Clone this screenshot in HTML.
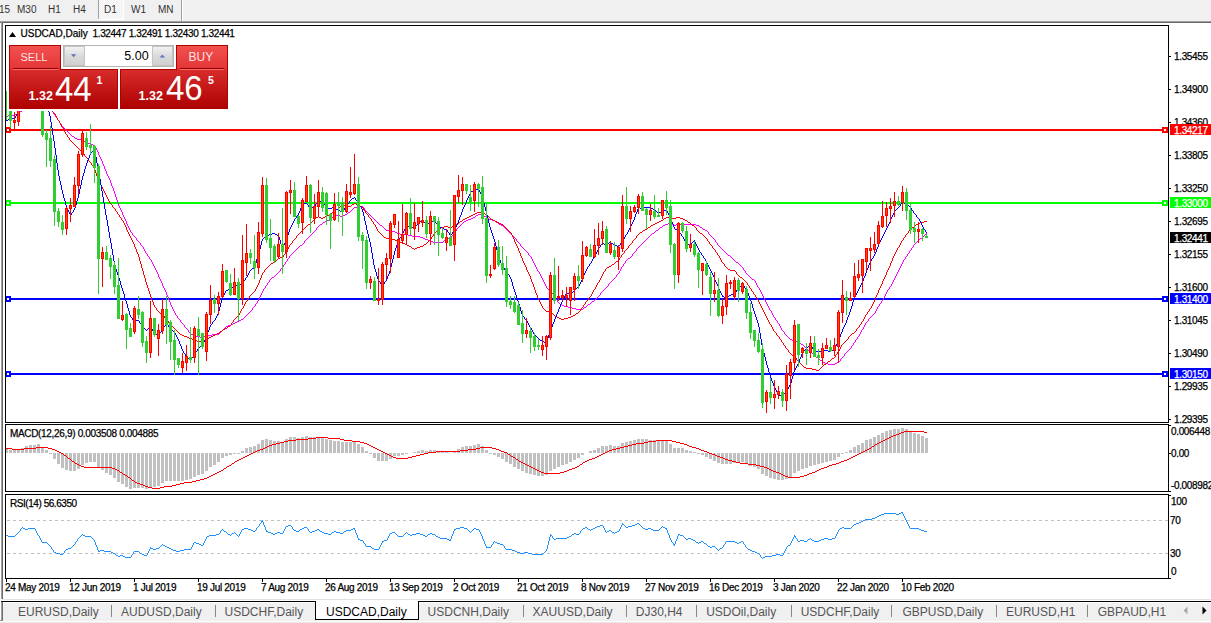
<!DOCTYPE html><html><head><meta charset="utf-8"><title>USDCAD,Daily</title><style>
html,body{margin:0;padding:0;background:#fff;width:1211px;height:623px;overflow:hidden;}
body{position:relative;font-family:"Liberation Sans", sans-serif;}
.abs{position:absolute;}
svg text{font-family:"Liberation Sans", sans-serif;}
</style></head><body>
<svg width="1211" height="623" viewBox="0 0 1211 623" style="position:absolute;left:0;top:0" shape-rendering="crispEdges">
<rect x="0" y="0" width="1211" height="21" fill="#f0f0f0"/>
<defs><pattern id="chk" x="0" y="0" width="2" height="2" patternUnits="userSpaceOnUse"><rect width="2" height="2" fill="#ececec"/><rect width="1" height="1" fill="#fff"/><rect x="1" y="1" width="1" height="1" fill="#fff"/></pattern></defs>
<rect x="99" y="0" width="24" height="19" fill="url(#chk)"/>
<rect x="123" y="0" width="1" height="20" fill="#fff"/>
<rect x="98" y="0" width="1" height="19" fill="#a0a0a0"/>
<rect x="98" y="19" width="26" height="1" fill="#ffffff"/>
<rect x="181" y="0" width="1" height="21" fill="#a0a0a0"/>
<rect x="182" y="0" width="1" height="21" fill="#ffffff"/>
<text x="-1" y="13" font-size="10" fill="#333">15</text>
<text x="17" y="13" font-size="10" fill="#333">M30</text>
<text x="48" y="13" font-size="10" fill="#333">H1</text>
<text x="73" y="13" font-size="10" fill="#333">H4</text>
<text x="104" y="13" font-size="10" fill="#333">D1</text>
<text x="131" y="13" font-size="10" fill="#333">W1</text>
<text x="158" y="13" font-size="10" fill="#333">MN</text>
<rect x="0" y="21" width="1211" height="1" fill="#a0a0a0"/>
<rect x="0" y="22" width="1211" height="1" fill="#696969"/>
<rect x="1" y="21" width="1" height="578" fill="#a0a0a0"/>
<rect x="2" y="22" width="1" height="577" fill="#696969"/>
<defs><clipPath id="cm"><rect x="6" y="26" width="1162" height="396"/></clipPath>
<clipPath id="cmacd"><rect x="6" y="425" width="1162" height="66"/></clipPath>
<clipPath id="crsi"><rect x="6" y="495" width="1162" height="83"/></clipPath></defs>
<rect x="6" y="129" width="1162" height="2" fill="#ff0000"/>
<rect x="5" y="127" width="6" height="6" fill="#ff0000"/>
<rect x="7" y="129" width="2" height="2" fill="#fff"/>
<rect x="1162" y="127" width="6" height="6" fill="#ff0000"/>
<rect x="1164" y="129" width="2" height="2" fill="#fff"/>
<rect x="6" y="202" width="1162" height="2" fill="#00ff00"/>
<rect x="5" y="200" width="6" height="6" fill="#00ff00"/>
<rect x="7" y="202" width="2" height="2" fill="#fff"/>
<rect x="1162" y="200" width="6" height="6" fill="#00ff00"/>
<rect x="1164" y="202" width="2" height="2" fill="#fff"/>
<rect x="6" y="298" width="1162" height="2" fill="#0000ff"/>
<rect x="5" y="296" width="6" height="6" fill="#0000ff"/>
<rect x="7" y="298" width="2" height="2" fill="#fff"/>
<rect x="1162" y="296" width="6" height="6" fill="#0000ff"/>
<rect x="1164" y="298" width="2" height="2" fill="#fff"/>
<rect x="6" y="373" width="1162" height="2" fill="#0000ff"/>
<rect x="5" y="371" width="6" height="6" fill="#0000ff"/>
<rect x="7" y="373" width="2" height="2" fill="#fff"/>
<rect x="1162" y="371" width="6" height="6" fill="#0000ff"/>
<rect x="1164" y="373" width="2" height="2" fill="#fff"/>
<path clip-path="url(#cm)" d="M36 100h3v1h-3zM33 101h3v1h-3zM39 101h2v1h-2zM31 102h2v1h-2zM41 102h2v1h-2zM30 103h1v1h-1zM43 103h2v1h-2zM28 104h2v1h-2zM45 104h2v1h-2zM27 105h1v1h-1zM47 105h1v1h-1zM26 106h1v1h-1zM48 106h1v1h-1zM25 107h1v1h-1zM49 107h1v1h-1zM24 108h1v1h-1zM50 108h1v1h-1zM23 109h1v1h-1zM51 109h1v1h-1zM22 110h1v1h-1zM51 110h1v1h-1zM20 111h2v1h-2zM52 111h1v1h-1zM19 112h1v1h-1zM53 112h1v1h-1zM17 113h2v1h-2zM53 113h1v1h-1zM15 114h2v1h-2zM54 114h1v1h-1zM8 115h7v1h-7zM55 115h1v1h-1zM6 116h2v1h-2zM55 116h1v1h-1zM56 117h1v1h-1zM57 118h1v1h-1zM57 119h1v1h-1zM58 120h1v1h-1zM59 121h1v1h-1zM59 122h1v1h-1zM60 123h1v1h-1zM61 124h1v1h-1zM61 125h1v1h-1zM62 126h1v1h-1zM63 127h1v1h-1zM64 128h1v1h-1zM65 129h1v1h-1zM66 130h1v1h-1zM67 131h1v1h-1zM68 132h1v1h-1zM69 133h1v1h-1zM70 134h1v1h-1zM71 135h1v1h-1zM72 136h2v1h-2zM74 137h1v1h-1zM75 138h2v1h-2zM77 139h6v1h-6zM83 140h1v1h-1zM84 141h2v1h-2zM86 142h2v1h-2zM88 143h3v1h-3zM91 144h2v1h-2zM93 145h2v1h-2zM95 146h1v1h-1zM95 147h1v1h-1zM96 148h1v1h-1zM96 149h1v1h-1zM97 150h1v1h-1zM97 151h1v1h-1zM98 152h1v1h-1zM98 153h1v1h-1zM98 154h1v1h-1zM99 155h1v1h-1zM99 156h1v1h-1zM100 157h1v1h-1zM100 158h1v1h-1zM101 159h1v1h-1zM101 160h1v1h-1zM102 161h1v1h-1zM102 162h1v1h-1zM102 163h1v1h-1zM103 164h1v1h-1zM103 165h1v1h-1zM104 166h1v1h-1zM104 167h1v1h-1zM104 168h1v1h-1zM105 169h1v1h-1zM105 170h1v1h-1zM106 171h1v1h-1zM106 172h1v1h-1zM106 173h1v1h-1zM107 174h1v1h-1zM107 175h1v1h-1zM108 176h1v1h-1zM108 177h1v1h-1zM109 178h1v1h-1zM109 179h1v1h-1zM110 180h1v1h-1zM110 181h1v1h-1zM110 182h1v1h-1zM111 183h1v1h-1zM111 184h1v1h-1zM111 185h1v1h-1zM112 186h1v1h-1zM112 187h1v1h-1zM113 188h1v1h-1zM113 189h1v1h-1zM113 190h1v1h-1zM114 191h1v1h-1zM114 192h1v1h-1zM114 193h1v1h-1zM115 194h1v1h-1zM115 195h1v1h-1zM115 196h1v1h-1zM116 197h1v1h-1zM116 198h1v1h-1zM116 199h1v1h-1zM117 200h1v1h-1zM117 201h1v1h-1zM117 202h1v1h-1zM118 203h1v1h-1zM118 204h1v1h-1zM118 205h1v1h-1zM119 206h1v1h-1zM360 206h3v1h-3zM119 207h1v1h-1zM354 207h6v1h-6zM363 207h1v1h-1zM120 208h1v1h-1zM353 208h1v1h-1zM364 208h1v1h-1zM120 209h1v1h-1zM352 209h1v1h-1zM364 209h1v1h-1zM121 210h1v1h-1zM351 210h1v1h-1zM365 210h1v1h-1zM121 211h1v1h-1zM350 211h1v1h-1zM366 211h1v1h-1zM122 212h1v1h-1zM348 212h2v1h-2zM367 212h1v1h-1zM122 213h1v1h-1zM347 213h1v1h-1zM368 213h1v1h-1zM122 214h1v1h-1zM345 214h2v1h-2zM369 214h1v1h-1zM478 214h5v1h-5zM123 215h1v1h-1zM336 215h4v1h-4zM343 215h2v1h-2zM370 215h1v1h-1zM476 215h2v1h-2zM483 215h1v1h-1zM123 216h1v1h-1zM334 216h2v1h-2zM340 216h3v1h-3zM371 216h1v1h-1zM475 216h1v1h-1zM484 216h2v1h-2zM124 217h1v1h-1zM332 217h2v1h-2zM372 217h1v1h-1zM473 217h2v1h-2zM486 217h1v1h-1zM124 218h1v1h-1zM331 218h1v1h-1zM373 218h1v1h-1zM471 218h2v1h-2zM487 218h2v1h-2zM125 219h1v1h-1zM329 219h2v1h-2zM374 219h1v1h-1zM468 219h3v1h-3zM489 219h3v1h-3zM125 220h1v1h-1zM327 220h2v1h-2zM375 220h1v1h-1zM466 220h2v1h-2zM492 220h3v1h-3zM126 221h1v1h-1zM325 221h2v1h-2zM376 221h1v1h-1zM464 221h2v1h-2zM495 221h1v1h-1zM126 222h1v1h-1zM323 222h2v1h-2zM377 222h1v1h-1zM463 222h1v1h-1zM496 222h2v1h-2zM126 223h1v1h-1zM322 223h1v1h-1zM378 223h1v1h-1zM462 223h1v1h-1zM498 223h1v1h-1zM668 223h3v1h-3zM127 224h1v1h-1zM320 224h2v1h-2zM379 224h1v1h-1zM461 224h1v1h-1zM499 224h2v1h-2zM665 224h3v1h-3zM671 224h2v1h-2zM676 224h20v1h-20zM127 225h1v1h-1zM319 225h1v1h-1zM380 225h2v1h-2zM460 225h1v1h-1zM501 225h2v1h-2zM663 225h2v1h-2zM673 225h3v1h-3zM696 225h3v1h-3zM128 226h1v1h-1zM318 226h1v1h-1zM382 226h1v1h-1zM459 226h1v1h-1zM503 226h1v1h-1zM662 226h1v1h-1zM699 226h1v1h-1zM128 227h1v1h-1zM317 227h1v1h-1zM383 227h1v1h-1zM458 227h1v1h-1zM504 227h1v1h-1zM660 227h2v1h-2zM700 227h2v1h-2zM129 228h1v1h-1zM316 228h1v1h-1zM384 228h1v1h-1zM457 228h1v1h-1zM505 228h1v1h-1zM659 228h1v1h-1zM702 228h1v1h-1zM129 229h1v1h-1zM316 229h1v1h-1zM385 229h1v1h-1zM456 229h1v1h-1zM506 229h1v1h-1zM658 229h1v1h-1zM703 229h2v1h-2zM130 230h1v1h-1zM315 230h1v1h-1zM386 230h6v1h-6zM456 230h1v1h-1zM507 230h1v1h-1zM656 230h2v1h-2zM705 230h2v1h-2zM130 231h1v1h-1zM314 231h1v1h-1zM392 231h3v1h-3zM455 231h1v1h-1zM508 231h1v1h-1zM655 231h1v1h-1zM707 231h1v1h-1zM131 232h1v1h-1zM313 232h1v1h-1zM395 232h2v1h-2zM454 232h1v1h-1zM509 232h1v1h-1zM654 232h1v1h-1zM708 232h1v1h-1zM132 233h1v1h-1zM312 233h1v1h-1zM397 233h3v1h-3zM453 233h1v1h-1zM510 233h1v1h-1zM652 233h2v1h-2zM708 233h1v1h-1zM926 233h1v1h-1zM132 234h1v1h-1zM311 234h1v1h-1zM400 234h8v1h-8zM453 234h1v1h-1zM511 234h1v1h-1zM651 234h1v1h-1zM709 234h1v1h-1zM925 234h1v1h-1zM133 235h1v1h-1zM310 235h1v1h-1zM408 235h4v1h-4zM452 235h1v1h-1zM512 235h1v1h-1zM650 235h1v1h-1zM710 235h1v1h-1zM924 235h1v1h-1zM134 236h1v1h-1zM309 236h1v1h-1zM412 236h8v1h-8zM451 236h1v1h-1zM513 236h1v1h-1zM649 236h1v1h-1zM711 236h1v1h-1zM923 236h1v1h-1zM135 237h1v1h-1zM308 237h1v1h-1zM420 237h3v1h-3zM451 237h1v1h-1zM514 237h1v1h-1zM648 237h1v1h-1zM712 237h1v1h-1zM922 237h1v1h-1zM136 238h1v1h-1zM307 238h1v1h-1zM423 238h2v1h-2zM448 238h3v1h-3zM515 238h1v1h-1zM647 238h1v1h-1zM713 238h1v1h-1zM920 238h2v1h-2zM136 239h1v1h-1zM306 239h1v1h-1zM425 239h3v1h-3zM446 239h2v1h-2zM516 239h1v1h-1zM646 239h1v1h-1zM714 239h1v1h-1zM919 239h1v1h-1zM137 240h1v1h-1zM305 240h1v1h-1zM428 240h3v1h-3zM444 240h2v1h-2zM516 240h1v1h-1zM645 240h1v1h-1zM715 240h1v1h-1zM918 240h1v1h-1zM138 241h1v1h-1zM304 241h1v1h-1zM431 241h2v1h-2zM443 241h1v1h-1zM517 241h1v1h-1zM644 241h1v1h-1zM715 241h1v1h-1zM917 241h1v1h-1zM139 242h1v1h-1zM304 242h1v1h-1zM433 242h10v1h-10zM518 242h1v1h-1zM643 242h1v1h-1zM716 242h1v1h-1zM916 242h1v1h-1zM140 243h1v1h-1zM303 243h1v1h-1zM519 243h1v1h-1zM642 243h1v1h-1zM717 243h1v1h-1zM915 243h1v1h-1zM140 244h1v1h-1zM302 244h1v1h-1zM520 244h1v1h-1zM641 244h1v1h-1zM717 244h1v1h-1zM914 244h1v1h-1zM141 245h1v1h-1zM300 245h2v1h-2zM520 245h1v1h-1zM640 245h1v1h-1zM718 245h1v1h-1zM913 245h1v1h-1zM142 246h1v1h-1zM299 246h1v1h-1zM521 246h1v1h-1zM639 246h1v1h-1zM719 246h1v1h-1zM913 246h1v1h-1zM143 247h1v1h-1zM298 247h1v1h-1zM522 247h1v1h-1zM638 247h1v1h-1zM720 247h1v1h-1zM912 247h1v1h-1zM143 248h1v1h-1zM297 248h1v1h-1zM523 248h1v1h-1zM637 248h1v1h-1zM721 248h1v1h-1zM911 248h1v1h-1zM144 249h1v1h-1zM296 249h1v1h-1zM524 249h1v1h-1zM636 249h1v1h-1zM722 249h1v1h-1zM911 249h1v1h-1zM144 250h1v1h-1zM295 250h1v1h-1zM525 250h1v1h-1zM636 250h1v1h-1zM723 250h1v1h-1zM910 250h1v1h-1zM145 251h1v1h-1zM294 251h1v1h-1zM526 251h1v1h-1zM635 251h1v1h-1zM724 251h1v1h-1zM909 251h1v1h-1zM145 252h1v1h-1zM293 252h1v1h-1zM527 252h1v1h-1zM634 252h1v1h-1zM725 252h1v1h-1zM909 252h1v1h-1zM146 253h1v1h-1zM292 253h1v1h-1zM528 253h1v1h-1zM633 253h1v1h-1zM726 253h1v1h-1zM908 253h1v1h-1zM147 254h1v1h-1zM291 254h1v1h-1zM528 254h1v1h-1zM632 254h1v1h-1zM727 254h1v1h-1zM907 254h1v1h-1zM147 255h1v1h-1zM290 255h1v1h-1zM529 255h1v1h-1zM632 255h1v1h-1zM728 255h2v1h-2zM907 255h1v1h-1zM148 256h1v1h-1zM289 256h1v1h-1zM530 256h1v1h-1zM631 256h1v1h-1zM730 256h1v1h-1zM906 256h1v1h-1zM149 257h1v1h-1zM289 257h1v1h-1zM531 257h1v1h-1zM630 257h1v1h-1zM731 257h1v1h-1zM905 257h1v1h-1zM149 258h1v1h-1zM288 258h1v1h-1zM531 258h1v1h-1zM628 258h2v1h-2zM732 258h1v1h-1zM905 258h1v1h-1zM150 259h1v1h-1zM287 259h1v1h-1zM532 259h1v1h-1zM627 259h1v1h-1zM733 259h1v1h-1zM904 259h1v1h-1zM151 260h1v1h-1zM287 260h1v1h-1zM532 260h1v1h-1zM626 260h1v1h-1zM734 260h1v1h-1zM903 260h1v1h-1zM151 261h1v1h-1zM286 261h1v1h-1zM533 261h1v1h-1zM625 261h1v1h-1zM735 261h1v1h-1zM903 261h1v1h-1zM152 262h1v1h-1zM285 262h1v1h-1zM533 262h1v1h-1zM625 262h1v1h-1zM736 262h2v1h-2zM902 262h1v1h-1zM152 263h1v1h-1zM285 263h1v1h-1zM534 263h1v1h-1zM624 263h1v1h-1zM738 263h1v1h-1zM902 263h1v1h-1zM153 264h1v1h-1zM284 264h1v1h-1zM534 264h1v1h-1zM623 264h1v1h-1zM739 264h1v1h-1zM901 264h1v1h-1zM153 265h1v1h-1zM283 265h1v1h-1zM535 265h1v1h-1zM623 265h1v1h-1zM740 265h1v1h-1zM901 265h1v1h-1zM154 266h1v1h-1zM283 266h1v1h-1zM535 266h1v1h-1zM622 266h1v1h-1zM741 266h1v1h-1zM900 266h1v1h-1zM154 267h1v1h-1zM282 267h1v1h-1zM536 267h1v1h-1zM621 267h1v1h-1zM742 267h1v1h-1zM900 267h1v1h-1zM155 268h1v1h-1zM281 268h1v1h-1zM536 268h1v1h-1zM621 268h1v1h-1zM743 268h1v1h-1zM899 268h1v1h-1zM155 269h1v1h-1zM280 269h1v1h-1zM537 269h1v1h-1zM620 269h1v1h-1zM743 269h1v1h-1zM899 269h1v1h-1zM156 270h1v1h-1zM280 270h1v1h-1zM537 270h1v1h-1zM620 270h1v1h-1zM744 270h1v1h-1zM898 270h1v1h-1zM156 271h1v1h-1zM279 271h1v1h-1zM538 271h1v1h-1zM619 271h1v1h-1zM745 271h1v1h-1zM898 271h1v1h-1zM157 272h1v1h-1zM278 272h1v1h-1zM539 272h1v1h-1zM619 272h1v1h-1zM745 272h1v1h-1zM897 272h1v1h-1zM157 273h1v1h-1zM277 273h1v1h-1zM539 273h1v1h-1zM618 273h1v1h-1zM746 273h1v1h-1zM897 273h1v1h-1zM158 274h1v1h-1zM276 274h1v1h-1zM540 274h1v1h-1zM617 274h1v1h-1zM747 274h1v1h-1zM896 274h1v1h-1zM158 275h1v1h-1zM275 275h1v1h-1zM540 275h1v1h-1zM616 275h1v1h-1zM748 275h1v1h-1zM896 275h1v1h-1zM158 276h1v1h-1zM274 276h1v1h-1zM541 276h1v1h-1zM616 276h1v1h-1zM749 276h1v1h-1zM895 276h1v1h-1zM159 277h1v1h-1zM272 277h2v1h-2zM541 277h1v1h-1zM615 277h1v1h-1zM750 277h1v1h-1zM895 277h1v1h-1zM159 278h1v1h-1zM271 278h1v1h-1zM542 278h1v1h-1zM614 278h1v1h-1zM751 278h1v1h-1zM894 278h1v1h-1zM160 279h1v1h-1zM270 279h1v1h-1zM542 279h1v1h-1zM613 279h1v1h-1zM752 279h2v1h-2zM894 279h1v1h-1zM160 280h1v1h-1zM269 280h1v1h-1zM543 280h1v1h-1zM612 280h1v1h-1zM754 280h1v1h-1zM893 280h1v1h-1zM161 281h1v1h-1zM269 281h1v1h-1zM543 281h1v1h-1zM611 281h1v1h-1zM755 281h1v1h-1zM893 281h1v1h-1zM161 282h1v1h-1zM268 282h1v1h-1zM544 282h1v1h-1zM610 282h1v1h-1zM755 282h1v1h-1zM892 282h1v1h-1zM162 283h1v1h-1zM267 283h1v1h-1zM544 283h1v1h-1zM609 283h1v1h-1zM756 283h1v1h-1zM892 283h1v1h-1zM162 284h1v1h-1zM267 284h1v1h-1zM545 284h1v1h-1zM608 284h1v1h-1zM756 284h1v1h-1zM891 284h1v1h-1zM162 285h1v1h-1zM266 285h1v1h-1zM545 285h1v1h-1zM608 285h1v1h-1zM757 285h1v1h-1zM891 285h1v1h-1zM163 286h1v1h-1zM265 286h1v1h-1zM546 286h1v1h-1zM607 286h1v1h-1zM757 286h1v1h-1zM890 286h1v1h-1zM163 287h1v1h-1zM265 287h1v1h-1zM546 287h1v1h-1zM606 287h1v1h-1zM758 287h1v1h-1zM889 287h1v1h-1zM164 288h1v1h-1zM264 288h1v1h-1zM547 288h1v1h-1zM605 288h1v1h-1zM759 288h1v1h-1zM889 288h1v1h-1zM164 289h1v1h-1zM263 289h1v1h-1zM548 289h2v1h-2zM604 289h1v1h-1zM759 289h1v1h-1zM888 289h1v1h-1zM165 290h1v1h-1zM263 290h1v1h-1zM550 290h1v1h-1zM603 290h1v1h-1zM760 290h1v1h-1zM887 290h1v1h-1zM165 291h1v1h-1zM262 291h1v1h-1zM551 291h1v1h-1zM602 291h1v1h-1zM760 291h1v1h-1zM887 291h1v1h-1zM166 292h1v1h-1zM262 292h1v1h-1zM551 292h1v1h-1zM601 292h1v1h-1zM761 292h1v1h-1zM886 292h1v1h-1zM166 293h1v1h-1zM261 293h1v1h-1zM552 293h1v1h-1zM600 293h1v1h-1zM761 293h1v1h-1zM886 293h1v1h-1zM166 294h1v1h-1zM261 294h1v1h-1zM553 294h1v1h-1zM600 294h1v1h-1zM762 294h1v1h-1zM885 294h1v1h-1zM167 295h1v1h-1zM260 295h1v1h-1zM553 295h1v1h-1zM599 295h1v1h-1zM762 295h1v1h-1zM885 295h1v1h-1zM167 296h1v1h-1zM260 296h1v1h-1zM554 296h1v1h-1zM598 296h1v1h-1zM763 296h1v1h-1zM884 296h1v1h-1zM168 297h1v1h-1zM259 297h1v1h-1zM555 297h1v1h-1zM597 297h1v1h-1zM763 297h1v1h-1zM884 297h1v1h-1zM168 298h1v1h-1zM259 298h1v1h-1zM555 298h1v1h-1zM596 298h1v1h-1zM764 298h1v1h-1zM883 298h1v1h-1zM168 299h1v1h-1zM258 299h1v1h-1zM556 299h1v1h-1zM595 299h1v1h-1zM764 299h1v1h-1zM883 299h1v1h-1zM169 300h1v1h-1zM258 300h1v1h-1zM557 300h1v1h-1zM594 300h1v1h-1zM765 300h1v1h-1zM882 300h1v1h-1zM169 301h1v1h-1zM257 301h1v1h-1zM557 301h1v1h-1zM592 301h2v1h-2zM765 301h1v1h-1zM881 301h1v1h-1zM170 302h1v1h-1zM257 302h1v1h-1zM558 302h1v1h-1zM591 302h1v1h-1zM766 302h1v1h-1zM881 302h1v1h-1zM170 303h1v1h-1zM256 303h1v1h-1zM559 303h1v1h-1zM590 303h1v1h-1zM766 303h1v1h-1zM880 303h1v1h-1zM170 304h1v1h-1zM255 304h1v1h-1zM560 304h2v1h-2zM588 304h2v1h-2zM767 304h1v1h-1zM879 304h1v1h-1zM171 305h1v1h-1zM255 305h1v1h-1zM562 305h2v1h-2zM587 305h1v1h-1zM767 305h1v1h-1zM879 305h1v1h-1zM171 306h1v1h-1zM254 306h1v1h-1zM564 306h4v1h-4zM586 306h1v1h-1zM768 306h1v1h-1zM878 306h1v1h-1zM172 307h1v1h-1zM253 307h1v1h-1zM568 307h4v1h-4zM584 307h2v1h-2zM768 307h1v1h-1zM877 307h1v1h-1zM172 308h1v1h-1zM252 308h1v1h-1zM572 308h4v1h-4zM583 308h1v1h-1zM769 308h1v1h-1zM877 308h1v1h-1zM173 309h1v1h-1zM252 309h1v1h-1zM576 309h7v1h-7zM769 309h1v1h-1zM876 309h1v1h-1zM173 310h1v1h-1zM251 310h1v1h-1zM770 310h1v1h-1zM876 310h1v1h-1zM174 311h1v1h-1zM250 311h1v1h-1zM771 311h1v1h-1zM875 311h1v1h-1zM174 312h1v1h-1zM249 312h1v1h-1zM771 312h1v1h-1zM875 312h1v1h-1zM175 313h1v1h-1zM248 313h1v1h-1zM772 313h1v1h-1zM874 313h1v1h-1zM175 314h1v1h-1zM247 314h1v1h-1zM772 314h1v1h-1zM873 314h1v1h-1zM176 315h1v1h-1zM246 315h1v1h-1zM773 315h1v1h-1zM872 315h1v1h-1zM177 316h1v1h-1zM245 316h1v1h-1zM773 316h1v1h-1zM871 316h1v1h-1zM177 317h1v1h-1zM244 317h1v1h-1zM774 317h1v1h-1zM870 317h1v1h-1zM178 318h1v1h-1zM243 318h1v1h-1zM775 318h1v1h-1zM869 318h1v1h-1zM179 319h1v1h-1zM241 319h2v1h-2zM775 319h1v1h-1zM868 319h1v1h-1zM180 320h1v1h-1zM239 320h2v1h-2zM776 320h1v1h-1zM868 320h1v1h-1zM180 321h1v1h-1zM237 321h2v1h-2zM777 321h1v1h-1zM867 321h1v1h-1zM181 322h1v1h-1zM235 322h2v1h-2zM777 322h1v1h-1zM866 322h1v1h-1zM182 323h1v1h-1zM233 323h2v1h-2zM778 323h1v1h-1zM865 323h1v1h-1zM183 324h1v1h-1zM231 324h2v1h-2zM779 324h1v1h-1zM865 324h1v1h-1zM184 325h1v1h-1zM228 325h3v1h-3zM779 325h1v1h-1zM864 325h1v1h-1zM184 326h1v1h-1zM226 326h2v1h-2zM780 326h1v1h-1zM864 326h1v1h-1zM185 327h1v1h-1zM225 327h1v1h-1zM780 327h1v1h-1zM863 327h1v1h-1zM186 328h1v1h-1zM224 328h1v1h-1zM781 328h1v1h-1zM863 328h1v1h-1zM187 329h1v1h-1zM223 329h1v1h-1zM781 329h1v1h-1zM862 329h1v1h-1zM188 330h1v1h-1zM222 330h1v1h-1zM782 330h1v1h-1zM861 330h1v1h-1zM188 331h1v1h-1zM221 331h1v1h-1zM783 331h1v1h-1zM861 331h1v1h-1zM189 332h1v1h-1zM220 332h1v1h-1zM784 332h1v1h-1zM860 332h1v1h-1zM190 333h1v1h-1zM219 333h1v1h-1zM784 333h1v1h-1zM860 333h1v1h-1zM191 334h2v1h-2zM212 334h7v1h-7zM785 334h1v1h-1zM859 334h1v1h-1zM193 335h3v1h-3zM208 335h4v1h-4zM786 335h1v1h-1zM859 335h1v1h-1zM196 336h4v1h-4zM204 336h4v1h-4zM787 336h1v1h-1zM858 336h1v1h-1zM200 337h4v1h-4zM788 337h1v1h-1zM857 337h1v1h-1zM789 338h1v1h-1zM857 338h1v1h-1zM790 339h2v1h-2zM856 339h1v1h-1zM792 340h3v1h-3zM855 340h1v1h-1zM795 341h2v1h-2zM855 341h1v1h-1zM797 342h2v1h-2zM854 342h1v1h-1zM799 343h2v1h-2zM853 343h1v1h-1zM801 344h2v1h-2zM853 344h1v1h-1zM803 345h1v1h-1zM852 345h1v1h-1zM804 346h1v1h-1zM851 346h1v1h-1zM805 347h1v1h-1zM851 347h1v1h-1zM806 348h1v1h-1zM850 348h1v1h-1zM807 349h1v1h-1zM849 349h1v1h-1zM808 350h2v1h-2zM848 350h1v1h-1zM810 351h1v1h-1zM847 351h1v1h-1zM811 352h1v1h-1zM846 352h1v1h-1zM812 353h1v1h-1zM845 353h1v1h-1zM813 354h1v1h-1zM844 354h1v1h-1zM814 355h1v1h-1zM844 355h1v1h-1zM815 356h1v1h-1zM843 356h1v1h-1zM816 357h2v1h-2zM842 357h1v1h-1zM818 358h1v1h-1zM841 358h1v1h-1zM819 359h1v1h-1zM840 359h1v1h-1zM820 360h2v1h-2zM840 360h1v1h-1zM822 361h1v1h-1zM839 361h1v1h-1zM823 362h2v1h-2zM837 362h2v1h-2zM825 363h3v1h-3zM835 363h2v1h-2zM828 364h7v1h-7z" fill="#ff00ff"/>
<path clip-path="url(#cm)" d="M37 102h2v1h-2zM35 103h2v1h-2zM39 103h2v1h-2zM32 104h3v1h-3zM41 104h3v1h-3zM28 105h4v1h-4zM44 105h3v1h-3zM24 106h4v1h-4zM47 106h1v1h-1zM20 107h4v1h-4zM48 107h2v1h-2zM16 108h4v1h-4zM50 108h1v1h-1zM8 109h8v1h-8zM51 109h1v1h-1zM6 110h2v1h-2zM52 110h1v1h-1zM52 111h1v1h-1zM53 112h1v1h-1zM54 113h1v1h-1zM55 114h1v1h-1zM55 115h1v1h-1zM56 116h1v1h-1zM56 117h1v1h-1zM57 118h1v1h-1zM57 119h1v1h-1zM58 120h1v1h-1zM59 121h1v1h-1zM59 122h1v1h-1zM60 123h1v1h-1zM60 124h1v1h-1zM61 125h1v1h-1zM61 126h1v1h-1zM62 127h1v1h-1zM63 128h1v1h-1zM63 129h1v1h-1zM64 130h1v1h-1zM64 131h1v1h-1zM65 132h1v1h-1zM65 133h1v1h-1zM66 134h1v1h-1zM67 135h1v1h-1zM67 136h1v1h-1zM68 137h1v1h-1zM69 138h1v1h-1zM69 139h1v1h-1zM70 140h1v1h-1zM71 141h1v1h-1zM72 142h1v1h-1zM73 143h1v1h-1zM74 144h1v1h-1zM75 145h1v1h-1zM76 146h1v1h-1zM77 147h1v1h-1zM78 148h1v1h-1zM79 149h1v1h-1zM80 150h1v1h-1zM81 151h1v1h-1zM82 152h1v1h-1zM83 153h1v1h-1zM84 154h1v1h-1zM84 155h1v1h-1zM85 156h1v1h-1zM86 157h1v1h-1zM87 158h1v1h-1zM88 159h1v1h-1zM88 160h1v1h-1zM89 161h1v1h-1zM90 162h1v1h-1zM91 163h1v1h-1zM91 164h1v1h-1zM92 165h1v1h-1zM93 166h1v1h-1zM93 167h1v1h-1zM94 168h1v1h-1zM94 169h1v1h-1zM95 170h1v1h-1zM95 171h1v1h-1zM95 172h1v1h-1zM96 173h1v1h-1zM96 174h1v1h-1zM96 175h1v1h-1zM97 176h1v1h-1zM97 177h1v1h-1zM97 178h1v1h-1zM98 179h1v1h-1zM98 180h1v1h-1zM99 181h1v1h-1zM99 182h1v1h-1zM100 183h1v1h-1zM100 184h1v1h-1zM101 185h1v1h-1zM101 186h1v1h-1zM102 187h1v1h-1zM102 188h1v1h-1zM103 189h1v1h-1zM103 190h1v1h-1zM104 191h1v1h-1zM104 192h1v1h-1zM105 193h1v1h-1zM105 194h1v1h-1zM106 195h1v1h-1zM106 196h1v1h-1zM107 197h1v1h-1zM107 198h1v1h-1zM108 199h1v1h-1zM108 200h1v1h-1zM109 201h1v1h-1zM109 202h1v1h-1zM110 203h1v1h-1zM354 203h2v1h-2zM111 204h1v1h-1zM352 204h2v1h-2zM356 204h3v1h-3zM112 205h1v1h-1zM342 205h6v1h-6zM351 205h1v1h-1zM359 205h1v1h-1zM112 206h1v1h-1zM340 206h2v1h-2zM348 206h3v1h-3zM360 206h2v1h-2zM113 207h1v1h-1zM339 207h1v1h-1zM362 207h1v1h-1zM114 208h1v1h-1zM338 208h1v1h-1zM363 208h1v1h-1zM115 209h1v1h-1zM336 209h2v1h-2zM363 209h1v1h-1zM115 210h1v1h-1zM335 210h1v1h-1zM364 210h1v1h-1zM116 211h1v1h-1zM334 211h1v1h-1zM365 211h1v1h-1zM117 212h1v1h-1zM332 212h2v1h-2zM365 212h1v1h-1zM477 212h6v1h-6zM117 213h1v1h-1zM331 213h1v1h-1zM366 213h1v1h-1zM475 213h2v1h-2zM483 213h2v1h-2zM118 214h1v1h-1zM329 214h2v1h-2zM367 214h1v1h-1zM473 214h2v1h-2zM485 214h2v1h-2zM119 215h1v1h-1zM327 215h2v1h-2zM368 215h1v1h-1zM471 215h2v1h-2zM487 215h1v1h-1zM119 216h1v1h-1zM318 216h1v1h-1zM325 216h2v1h-2zM368 216h1v1h-1zM469 216h2v1h-2zM488 216h1v1h-1zM120 217h1v1h-1zM316 217h2v1h-2zM319 217h2v1h-2zM323 217h2v1h-2zM369 217h1v1h-1zM467 217h2v1h-2zM489 217h1v1h-1zM666 217h6v1h-6zM676 217h4v1h-4zM121 218h1v1h-1zM315 218h1v1h-1zM321 218h2v1h-2zM370 218h1v1h-1zM465 218h2v1h-2zM490 218h1v1h-1zM664 218h2v1h-2zM672 218h4v1h-4zM680 218h3v1h-3zM121 219h1v1h-1zM314 219h1v1h-1zM371 219h1v1h-1zM463 219h2v1h-2zM491 219h2v1h-2zM663 219h1v1h-1zM683 219h2v1h-2zM122 220h1v1h-1zM313 220h1v1h-1zM371 220h1v1h-1zM462 220h1v1h-1zM493 220h2v1h-2zM661 220h2v1h-2zM685 220h2v1h-2zM123 221h1v1h-1zM312 221h1v1h-1zM372 221h1v1h-1zM460 221h2v1h-2zM495 221h2v1h-2zM659 221h2v1h-2zM687 221h1v1h-1zM924 221h3v1h-3zM123 222h1v1h-1zM311 222h1v1h-1zM373 222h1v1h-1zM459 222h1v1h-1zM497 222h2v1h-2zM657 222h2v1h-2zM688 222h2v1h-2zM920 222h4v1h-4zM124 223h1v1h-1zM310 223h1v1h-1zM373 223h1v1h-1zM458 223h1v1h-1zM499 223h2v1h-2zM655 223h2v1h-2zM690 223h1v1h-1zM918 223h2v1h-2zM124 224h1v1h-1zM308 224h2v1h-2zM374 224h1v1h-1zM456 224h2v1h-2zM501 224h2v1h-2zM653 224h2v1h-2zM691 224h1v1h-1zM916 224h2v1h-2zM125 225h1v1h-1zM307 225h1v1h-1zM375 225h1v1h-1zM455 225h1v1h-1zM503 225h1v1h-1zM651 225h2v1h-2zM692 225h2v1h-2zM915 225h1v1h-1zM125 226h1v1h-1zM306 226h1v1h-1zM375 226h1v1h-1zM444 226h4v1h-4zM452 226h3v1h-3zM504 226h1v1h-1zM650 226h1v1h-1zM694 226h1v1h-1zM914 226h1v1h-1zM126 227h1v1h-1zM305 227h1v1h-1zM376 227h1v1h-1zM441 227h3v1h-3zM448 227h4v1h-4zM505 227h1v1h-1zM648 227h2v1h-2zM695 227h1v1h-1zM912 227h2v1h-2zM126 228h1v1h-1zM304 228h1v1h-1zM376 228h1v1h-1zM439 228h2v1h-2zM506 228h1v1h-1zM647 228h1v1h-1zM696 228h1v1h-1zM911 228h1v1h-1zM126 229h1v1h-1zM303 229h1v1h-1zM377 229h1v1h-1zM438 229h1v1h-1zM507 229h1v1h-1zM645 229h2v1h-2zM696 229h1v1h-1zM910 229h1v1h-1zM127 230h1v1h-1zM302 230h1v1h-1zM377 230h1v1h-1zM437 230h1v1h-1zM508 230h1v1h-1zM643 230h2v1h-2zM697 230h1v1h-1zM909 230h1v1h-1zM127 231h1v1h-1zM301 231h1v1h-1zM378 231h1v1h-1zM436 231h1v1h-1zM509 231h1v1h-1zM642 231h1v1h-1zM698 231h1v1h-1zM908 231h1v1h-1zM128 232h1v1h-1zM300 232h1v1h-1zM379 232h1v1h-1zM435 232h1v1h-1zM510 232h1v1h-1zM640 232h2v1h-2zM699 232h1v1h-1zM908 232h1v1h-1zM128 233h1v1h-1zM299 233h1v1h-1zM380 233h1v1h-1zM434 233h1v1h-1zM511 233h1v1h-1zM639 233h1v1h-1zM700 233h2v1h-2zM907 233h1v1h-1zM129 234h1v1h-1zM298 234h1v1h-1zM381 234h1v1h-1zM433 234h1v1h-1zM511 234h1v1h-1zM638 234h1v1h-1zM702 234h1v1h-1zM906 234h1v1h-1zM129 235h1v1h-1zM297 235h1v1h-1zM382 235h1v1h-1zM433 235h1v1h-1zM512 235h1v1h-1zM637 235h1v1h-1zM703 235h1v1h-1zM905 235h1v1h-1zM130 236h1v1h-1zM296 236h1v1h-1zM383 236h1v1h-1zM432 236h1v1h-1zM512 236h1v1h-1zM636 236h1v1h-1zM704 236h1v1h-1zM905 236h1v1h-1zM130 237h1v1h-1zM296 237h1v1h-1zM384 237h2v1h-2zM431 237h1v1h-1zM513 237h1v1h-1zM636 237h1v1h-1zM705 237h1v1h-1zM904 237h1v1h-1zM131 238h1v1h-1zM295 238h1v1h-1zM386 238h6v1h-6zM431 238h1v1h-1zM513 238h1v1h-1zM635 238h1v1h-1zM706 238h1v1h-1zM903 238h1v1h-1zM131 239h1v1h-1zM294 239h1v1h-1zM392 239h3v1h-3zM430 239h1v1h-1zM514 239h1v1h-1zM634 239h1v1h-1zM707 239h1v1h-1zM903 239h1v1h-1zM132 240h1v1h-1zM293 240h1v1h-1zM395 240h2v1h-2zM429 240h1v1h-1zM514 240h1v1h-1zM633 240h1v1h-1zM707 240h1v1h-1zM902 240h1v1h-1zM132 241h1v1h-1zM292 241h1v1h-1zM397 241h3v1h-3zM428 241h1v1h-1zM514 241h1v1h-1zM632 241h1v1h-1zM708 241h1v1h-1zM901 241h1v1h-1zM133 242h1v1h-1zM292 242h1v1h-1zM400 242h3v1h-3zM427 242h1v1h-1zM515 242h1v1h-1zM632 242h1v1h-1zM709 242h1v1h-1zM901 242h1v1h-1zM133 243h1v1h-1zM291 243h1v1h-1zM403 243h2v1h-2zM426 243h1v1h-1zM515 243h1v1h-1zM631 243h1v1h-1zM709 243h1v1h-1zM900 243h1v1h-1zM134 244h1v1h-1zM290 244h1v1h-1zM405 244h2v1h-2zM424 244h2v1h-2zM516 244h1v1h-1zM630 244h1v1h-1zM710 244h1v1h-1zM900 244h1v1h-1zM134 245h1v1h-1zM289 245h1v1h-1zM407 245h2v1h-2zM423 245h1v1h-1zM516 245h1v1h-1zM629 245h1v1h-1zM711 245h1v1h-1zM899 245h1v1h-1zM134 246h1v1h-1zM289 246h1v1h-1zM409 246h2v1h-2zM420 246h3v1h-3zM517 246h1v1h-1zM628 246h1v1h-1zM712 246h1v1h-1zM899 246h1v1h-1zM135 247h1v1h-1zM288 247h1v1h-1zM411 247h1v1h-1zM417 247h3v1h-3zM517 247h1v1h-1zM628 247h1v1h-1zM712 247h1v1h-1zM898 247h1v1h-1zM135 248h1v1h-1zM288 248h1v1h-1zM412 248h2v1h-2zM415 248h2v1h-2zM518 248h1v1h-1zM627 248h1v1h-1zM713 248h1v1h-1zM897 248h1v1h-1zM136 249h1v1h-1zM287 249h1v1h-1zM414 249h1v1h-1zM518 249h1v1h-1zM626 249h1v1h-1zM714 249h1v1h-1zM897 249h1v1h-1zM136 250h1v1h-1zM287 250h1v1h-1zM518 250h1v1h-1zM625 250h1v1h-1zM715 250h1v1h-1zM896 250h1v1h-1zM136 251h1v1h-1zM286 251h1v1h-1zM519 251h1v1h-1zM624 251h1v1h-1zM715 251h1v1h-1zM896 251h1v1h-1zM137 252h1v1h-1zM285 252h1v1h-1zM519 252h1v1h-1zM624 252h1v1h-1zM716 252h1v1h-1zM895 252h1v1h-1zM137 253h1v1h-1zM285 253h1v1h-1zM520 253h1v1h-1zM623 253h1v1h-1zM717 253h1v1h-1zM895 253h1v1h-1zM138 254h1v1h-1zM284 254h1v1h-1zM520 254h1v1h-1zM622 254h1v1h-1zM717 254h1v1h-1zM894 254h1v1h-1zM138 255h1v1h-1zM283 255h1v1h-1zM520 255h1v1h-1zM621 255h1v1h-1zM718 255h1v1h-1zM894 255h1v1h-1zM138 256h1v1h-1zM283 256h1v1h-1zM521 256h1v1h-1zM621 256h1v1h-1zM719 256h1v1h-1zM893 256h1v1h-1zM139 257h1v1h-1zM280 257h3v1h-3zM521 257h1v1h-1zM620 257h1v1h-1zM719 257h1v1h-1zM893 257h1v1h-1zM139 258h1v1h-1zM278 258h2v1h-2zM522 258h1v1h-1zM619 258h1v1h-1zM720 258h1v1h-1zM892 258h1v1h-1zM139 259h1v1h-1zM277 259h1v1h-1zM522 259h1v1h-1zM619 259h1v1h-1zM720 259h1v1h-1zM892 259h1v1h-1zM139 260h1v1h-1zM276 260h1v1h-1zM522 260h1v1h-1zM618 260h1v1h-1zM721 260h1v1h-1zM892 260h1v1h-1zM140 261h1v1h-1zM275 261h1v1h-1zM523 261h1v1h-1zM616 261h2v1h-2zM721 261h1v1h-1zM891 261h1v1h-1zM140 262h1v1h-1zM273 262h2v1h-2zM523 262h1v1h-1zM615 262h1v1h-1zM722 262h1v1h-1zM891 262h1v1h-1zM140 263h1v1h-1zM271 263h2v1h-2zM524 263h1v1h-1zM614 263h1v1h-1zM723 263h1v1h-1zM890 263h1v1h-1zM141 264h1v1h-1zM270 264h1v1h-1zM524 264h1v1h-1zM612 264h2v1h-2zM724 264h1v1h-1zM890 264h1v1h-1zM141 265h1v1h-1zM269 265h1v1h-1zM525 265h1v1h-1zM611 265h1v1h-1zM724 265h1v1h-1zM890 265h1v1h-1zM141 266h1v1h-1zM268 266h1v1h-1zM525 266h1v1h-1zM609 266h2v1h-2zM725 266h1v1h-1zM889 266h1v1h-1zM141 267h1v1h-1zM267 267h1v1h-1zM526 267h1v1h-1zM607 267h2v1h-2zM726 267h1v1h-1zM889 267h1v1h-1zM142 268h1v1h-1zM266 268h1v1h-1zM526 268h1v1h-1zM606 268h1v1h-1zM727 268h1v1h-1zM888 268h1v1h-1zM142 269h1v1h-1zM265 269h1v1h-1zM526 269h1v1h-1zM605 269h1v1h-1zM728 269h2v1h-2zM888 269h1v1h-1zM142 270h1v1h-1zM264 270h1v1h-1zM527 270h1v1h-1zM605 270h1v1h-1zM730 270h5v1h-5zM887 270h1v1h-1zM143 271h1v1h-1zM264 271h1v1h-1zM527 271h1v1h-1zM604 271h1v1h-1zM735 271h1v1h-1zM887 271h1v1h-1zM143 272h1v1h-1zM263 272h1v1h-1zM528 272h1v1h-1zM603 272h1v1h-1zM736 272h1v1h-1zM886 272h1v1h-1zM143 273h1v1h-1zM262 273h1v1h-1zM528 273h1v1h-1zM603 273h1v1h-1zM736 273h1v1h-1zM886 273h1v1h-1zM143 274h1v1h-1zM262 274h1v1h-1zM529 274h1v1h-1zM602 274h1v1h-1zM737 274h1v1h-1zM886 274h1v1h-1zM144 275h1v1h-1zM261 275h1v1h-1zM529 275h1v1h-1zM602 275h1v1h-1zM738 275h1v1h-1zM885 275h1v1h-1zM144 276h1v1h-1zM261 276h1v1h-1zM530 276h1v1h-1zM601 276h1v1h-1zM739 276h1v1h-1zM885 276h1v1h-1zM144 277h1v1h-1zM261 277h1v1h-1zM530 277h1v1h-1zM601 277h1v1h-1zM740 277h2v1h-2zM884 277h1v1h-1zM145 278h1v1h-1zM260 278h1v1h-1zM530 278h1v1h-1zM600 278h1v1h-1zM742 278h1v1h-1zM884 278h1v1h-1zM145 279h1v1h-1zM260 279h1v1h-1zM531 279h1v1h-1zM600 279h1v1h-1zM743 279h1v1h-1zM883 279h1v1h-1zM145 280h1v1h-1zM259 280h1v1h-1zM531 280h1v1h-1zM599 280h1v1h-1zM744 280h1v1h-1zM883 280h1v1h-1zM145 281h1v1h-1zM259 281h1v1h-1zM531 281h1v1h-1zM599 281h1v1h-1zM745 281h1v1h-1zM882 281h1v1h-1zM146 282h1v1h-1zM259 282h1v1h-1zM532 282h1v1h-1zM598 282h1v1h-1zM746 282h1v1h-1zM882 282h1v1h-1zM146 283h1v1h-1zM258 283h1v1h-1zM532 283h1v1h-1zM597 283h1v1h-1zM747 283h1v1h-1zM882 283h1v1h-1zM146 284h1v1h-1zM258 284h1v1h-1zM533 284h1v1h-1zM597 284h1v1h-1zM747 284h1v1h-1zM881 284h1v1h-1zM147 285h1v1h-1zM257 285h1v1h-1zM533 285h1v1h-1zM596 285h1v1h-1zM748 285h1v1h-1zM881 285h1v1h-1zM147 286h1v1h-1zM257 286h1v1h-1zM533 286h1v1h-1zM596 286h1v1h-1zM749 286h1v1h-1zM880 286h1v1h-1zM147 287h1v1h-1zM256 287h1v1h-1zM534 287h1v1h-1zM595 287h1v1h-1zM749 287h1v1h-1zM880 287h1v1h-1zM148 288h1v1h-1zM256 288h1v1h-1zM534 288h1v1h-1zM595 288h1v1h-1zM750 288h1v1h-1zM879 288h1v1h-1zM148 289h1v1h-1zM255 289h1v1h-1zM534 289h1v1h-1zM594 289h1v1h-1zM751 289h1v1h-1zM879 289h1v1h-1zM148 290h1v1h-1zM255 290h1v1h-1zM535 290h1v1h-1zM593 290h1v1h-1zM751 290h1v1h-1zM878 290h1v1h-1zM149 291h1v1h-1zM254 291h1v1h-1zM535 291h1v1h-1zM593 291h1v1h-1zM752 291h1v1h-1zM878 291h1v1h-1zM149 292h1v1h-1zM253 292h1v1h-1zM535 292h1v1h-1zM592 292h1v1h-1zM753 292h1v1h-1zM878 292h1v1h-1zM149 293h1v1h-1zM252 293h1v1h-1zM536 293h1v1h-1zM592 293h1v1h-1zM753 293h1v1h-1zM877 293h1v1h-1zM150 294h1v1h-1zM251 294h1v1h-1zM536 294h1v1h-1zM591 294h1v1h-1zM754 294h1v1h-1zM877 294h1v1h-1zM150 295h1v1h-1zM250 295h1v1h-1zM537 295h1v1h-1zM591 295h1v1h-1zM755 295h1v1h-1zM876 295h1v1h-1zM150 296h1v1h-1zM249 296h1v1h-1zM537 296h1v1h-1zM590 296h1v1h-1zM755 296h1v1h-1zM876 296h1v1h-1zM151 297h1v1h-1zM249 297h1v1h-1zM537 297h1v1h-1zM589 297h1v1h-1zM756 297h1v1h-1zM875 297h1v1h-1zM151 298h1v1h-1zM248 298h1v1h-1zM538 298h1v1h-1zM588 298h1v1h-1zM757 298h1v1h-1zM875 298h1v1h-1zM151 299h1v1h-1zM247 299h1v1h-1zM538 299h1v1h-1zM588 299h1v1h-1zM757 299h1v1h-1zM874 299h1v1h-1zM152 300h1v1h-1zM247 300h1v1h-1zM539 300h1v1h-1zM587 300h1v1h-1zM758 300h1v1h-1zM874 300h1v1h-1zM152 301h1v1h-1zM246 301h1v1h-1zM539 301h1v1h-1zM586 301h1v1h-1zM758 301h1v1h-1zM874 301h1v1h-1zM153 302h1v1h-1zM245 302h1v1h-1zM540 302h1v1h-1zM585 302h1v1h-1zM759 302h1v1h-1zM873 302h1v1h-1zM153 303h1v1h-1zM245 303h1v1h-1zM540 303h1v1h-1zM585 303h1v1h-1zM759 303h1v1h-1zM873 303h1v1h-1zM153 304h1v1h-1zM244 304h1v1h-1zM541 304h1v1h-1zM584 304h1v1h-1zM760 304h1v1h-1zM872 304h1v1h-1zM154 305h1v1h-1zM244 305h1v1h-1zM541 305h1v1h-1zM583 305h1v1h-1zM760 305h1v1h-1zM872 305h1v1h-1zM154 306h1v1h-1zM243 306h1v1h-1zM542 306h1v1h-1zM583 306h1v1h-1zM761 306h1v1h-1zM871 306h1v1h-1zM155 307h1v1h-1zM243 307h1v1h-1zM542 307h1v1h-1zM582 307h1v1h-1zM761 307h1v1h-1zM871 307h1v1h-1zM156 308h1v1h-1zM242 308h1v1h-1zM543 308h1v1h-1zM581 308h1v1h-1zM762 308h1v1h-1zM870 308h1v1h-1zM156 309h1v1h-1zM241 309h1v1h-1zM544 309h1v1h-1zM580 309h1v1h-1zM762 309h1v1h-1zM869 309h1v1h-1zM157 310h1v1h-1zM241 310h1v1h-1zM545 310h1v1h-1zM580 310h1v1h-1zM763 310h1v1h-1zM869 310h1v1h-1zM158 311h1v1h-1zM240 311h1v1h-1zM546 311h5v1h-5zM579 311h1v1h-1zM763 311h1v1h-1zM868 311h1v1h-1zM159 312h1v1h-1zM240 312h1v1h-1zM551 312h1v1h-1zM578 312h1v1h-1zM764 312h1v1h-1zM867 312h1v1h-1zM160 313h2v1h-2zM239 313h1v1h-1zM552 313h1v1h-1zM576 313h2v1h-2zM764 313h1v1h-1zM867 313h1v1h-1zM162 314h1v1h-1zM239 314h1v1h-1zM553 314h1v1h-1zM575 314h1v1h-1zM765 314h1v1h-1zM866 314h1v1h-1zM163 315h1v1h-1zM238 315h1v1h-1zM554 315h1v1h-1zM573 315h2v1h-2zM765 315h1v1h-1zM865 315h1v1h-1zM164 316h1v1h-1zM237 316h1v1h-1zM555 316h2v1h-2zM571 316h2v1h-2zM766 316h1v1h-1zM865 316h1v1h-1zM164 317h1v1h-1zM236 317h1v1h-1zM557 317h2v1h-2zM568 317h3v1h-3zM766 317h1v1h-1zM864 317h1v1h-1zM165 318h1v1h-1zM235 318h1v1h-1zM559 318h2v1h-2zM564 318h4v1h-4zM767 318h1v1h-1zM864 318h1v1h-1zM166 319h1v1h-1zM234 319h1v1h-1zM561 319h3v1h-3zM767 319h1v1h-1zM863 319h1v1h-1zM167 320h1v1h-1zM233 320h1v1h-1zM768 320h1v1h-1zM863 320h1v1h-1zM168 321h1v1h-1zM233 321h1v1h-1zM768 321h1v1h-1zM862 321h1v1h-1zM168 322h1v1h-1zM232 322h1v1h-1zM769 322h1v1h-1zM861 322h1v1h-1zM169 323h1v1h-1zM231 323h1v1h-1zM769 323h1v1h-1zM861 323h1v1h-1zM170 324h1v1h-1zM231 324h1v1h-1zM770 324h1v1h-1zM860 324h1v1h-1zM171 325h1v1h-1zM230 325h1v1h-1zM771 325h1v1h-1zM859 325h1v1h-1zM172 326h1v1h-1zM228 326h2v1h-2zM771 326h1v1h-1zM859 326h1v1h-1zM173 327h1v1h-1zM227 327h1v1h-1zM772 327h1v1h-1zM858 327h1v1h-1zM174 328h1v1h-1zM225 328h2v1h-2zM772 328h1v1h-1zM857 328h1v1h-1zM175 329h1v1h-1zM223 329h2v1h-2zM773 329h1v1h-1zM856 329h1v1h-1zM176 330h1v1h-1zM222 330h1v1h-1zM773 330h1v1h-1zM856 330h1v1h-1zM177 331h1v1h-1zM220 331h2v1h-2zM774 331h1v1h-1zM855 331h1v1h-1zM178 332h1v1h-1zM219 332h1v1h-1zM775 332h1v1h-1zM854 332h1v1h-1zM179 333h1v1h-1zM217 333h2v1h-2zM776 333h1v1h-1zM852 333h2v1h-2zM180 334h2v1h-2zM215 334h2v1h-2zM776 334h1v1h-1zM851 334h1v1h-1zM182 335h2v1h-2zM213 335h2v1h-2zM777 335h1v1h-1zM850 335h1v1h-1zM184 336h3v1h-3zM211 336h2v1h-2zM778 336h1v1h-1zM849 336h1v1h-1zM187 337h2v1h-2zM209 337h2v1h-2zM779 337h1v1h-1zM848 337h1v1h-1zM189 338h3v1h-3zM207 338h2v1h-2zM779 338h1v1h-1zM848 338h1v1h-1zM192 339h3v1h-3zM205 339h2v1h-2zM780 339h1v1h-1zM847 339h1v1h-1zM195 340h2v1h-2zM203 340h2v1h-2zM781 340h1v1h-1zM846 340h1v1h-1zM197 341h6v1h-6zM781 341h1v1h-1zM845 341h1v1h-1zM782 342h1v1h-1zM844 342h1v1h-1zM783 343h1v1h-1zM843 343h1v1h-1zM783 344h1v1h-1zM842 344h1v1h-1zM784 345h1v1h-1zM841 345h1v1h-1zM785 346h1v1h-1zM841 346h1v1h-1zM785 347h1v1h-1zM840 347h1v1h-1zM786 348h1v1h-1zM840 348h1v1h-1zM787 349h1v1h-1zM839 349h1v1h-1zM788 350h1v1h-1zM839 350h1v1h-1zM788 351h1v1h-1zM838 351h1v1h-1zM789 352h1v1h-1zM837 352h1v1h-1zM790 353h1v1h-1zM837 353h1v1h-1zM791 354h1v1h-1zM836 354h1v1h-1zM792 355h2v1h-2zM835 355h1v1h-1zM794 356h1v1h-1zM835 356h1v1h-1zM795 357h1v1h-1zM834 357h1v1h-1zM796 358h1v1h-1zM832 358h2v1h-2zM796 359h1v1h-1zM831 359h1v1h-1zM797 360h1v1h-1zM830 360h1v1h-1zM798 361h1v1h-1zM828 361h2v1h-2zM799 362h1v1h-1zM827 362h1v1h-1zM800 363h1v1h-1zM826 363h1v1h-1zM801 364h1v1h-1zM824 364h2v1h-2zM802 365h1v1h-1zM823 365h1v1h-1zM803 366h1v1h-1zM822 366h1v1h-1zM804 367h2v1h-2zM821 367h1v1h-1zM806 368h6v1h-6zM820 368h1v1h-1zM812 369h4v1h-4zM819 369h1v1h-1zM816 370h3v1h-3z" fill="#ff0000"/>
<path clip-path="url(#cm)" d="M38 75h1v1h-1zM36 76h3v1h-3zM35 77h1v1h-1zM39 77h1v1h-1zM34 78h1v1h-1zM39 78h1v1h-1zM34 79h1v1h-1zM39 79h1v1h-1zM33 80h1v1h-1zM40 80h1v1h-1zM33 81h1v1h-1zM40 81h1v1h-1zM32 82h1v1h-1zM41 82h1v1h-1zM32 83h1v1h-1zM41 83h1v1h-1zM31 84h1v1h-1zM41 84h1v1h-1zM31 85h1v1h-1zM42 85h1v1h-1zM30 86h1v1h-1zM42 86h1v1h-1zM30 87h1v1h-1zM42 87h1v1h-1zM29 88h1v1h-1zM43 88h1v1h-1zM29 89h1v1h-1zM43 89h1v1h-1zM28 90h1v1h-1zM43 90h1v1h-1zM28 91h1v1h-1zM43 91h1v1h-1zM28 92h1v1h-1zM44 92h1v1h-1zM27 93h1v1h-1zM44 93h1v1h-1zM27 94h1v1h-1zM44 94h1v1h-1zM26 95h1v1h-1zM45 95h1v1h-1zM26 96h1v1h-1zM45 96h1v1h-1zM25 97h1v1h-1zM45 97h1v1h-1zM25 98h1v1h-1zM45 98h1v1h-1zM24 99h1v1h-1zM46 99h1v1h-1zM24 100h1v1h-1zM46 100h1v1h-1zM23 101h1v1h-1zM46 101h1v1h-1zM23 102h1v1h-1zM46 102h1v1h-1zM22 103h1v1h-1zM47 103h1v1h-1zM22 104h1v1h-1zM47 104h1v1h-1zM21 105h1v1h-1zM47 105h1v1h-1zM21 106h1v1h-1zM47 106h1v1h-1zM20 107h1v1h-1zM48 107h1v1h-1zM20 108h1v1h-1zM48 108h1v1h-1zM19 109h1v1h-1zM48 109h1v1h-1zM19 110h1v1h-1zM48 110h1v1h-1zM18 111h1v1h-1zM48 111h1v1h-1zM17 112h1v1h-1zM49 112h1v1h-1zM17 113h1v1h-1zM49 113h1v1h-1zM16 114h1v1h-1zM49 114h1v1h-1zM16 115h1v1h-1zM49 115h1v1h-1zM15 116h1v1h-1zM50 116h1v1h-1zM15 117h1v1h-1zM50 117h1v1h-1zM12 118h3v1h-3zM50 118h1v1h-1zM8 119h4v1h-4zM50 119h1v1h-1zM6 120h2v1h-2zM50 120h1v1h-1zM50 121h1v1h-1zM51 122h1v1h-1zM51 123h1v1h-1zM51 124h1v1h-1zM51 125h1v1h-1zM51 126h1v1h-1zM51 127h1v1h-1zM52 128h1v1h-1zM52 129h1v1h-1zM52 130h1v1h-1zM52 131h1v1h-1zM52 132h1v1h-1zM52 133h1v1h-1zM52 134h1v1h-1zM53 135h1v1h-1zM53 136h1v1h-1zM53 137h1v1h-1zM53 138h1v1h-1zM53 139h1v1h-1zM53 140h1v1h-1zM54 141h1v1h-1zM54 142h1v1h-1zM54 143h1v1h-1zM54 144h1v1h-1zM54 145h1v1h-1zM54 146h1v1h-1zM54 147h1v1h-1zM55 148h1v1h-1zM55 149h1v1h-1zM94 149h1v1h-1zM55 150h1v1h-1zM93 150h2v1h-2zM55 151h1v1h-1zM92 151h1v1h-1zM94 151h1v1h-1zM55 152h1v1h-1zM91 152h1v1h-1zM95 152h1v1h-1zM55 153h1v1h-1zM90 153h1v1h-1zM95 153h1v1h-1zM55 154h1v1h-1zM90 154h1v1h-1zM95 154h1v1h-1zM56 155h1v1h-1zM89 155h1v1h-1zM95 155h1v1h-1zM56 156h1v1h-1zM89 156h1v1h-1zM95 156h1v1h-1zM56 157h1v1h-1zM89 157h1v1h-1zM96 157h1v1h-1zM56 158h1v1h-1zM88 158h1v1h-1zM96 158h1v1h-1zM56 159h1v1h-1zM88 159h1v1h-1zM96 159h1v1h-1zM56 160h1v1h-1zM87 160h1v1h-1zM96 160h1v1h-1zM56 161h1v1h-1zM87 161h1v1h-1zM96 161h1v1h-1zM56 162h1v1h-1zM87 162h1v1h-1zM96 162h1v1h-1zM57 163h1v1h-1zM86 163h1v1h-1zM97 163h1v1h-1zM57 164h1v1h-1zM86 164h1v1h-1zM97 164h1v1h-1zM57 165h1v1h-1zM86 165h1v1h-1zM97 165h1v1h-1zM57 166h1v1h-1zM85 166h1v1h-1zM97 166h1v1h-1zM57 167h1v1h-1zM85 167h1v1h-1zM97 167h1v1h-1zM57 168h1v1h-1zM85 168h1v1h-1zM98 168h1v1h-1zM57 169h1v1h-1zM84 169h1v1h-1zM98 169h1v1h-1zM58 170h1v1h-1zM84 170h1v1h-1zM98 170h1v1h-1zM58 171h1v1h-1zM84 171h1v1h-1zM98 171h1v1h-1zM58 172h1v1h-1zM84 172h1v1h-1zM98 172h1v1h-1zM58 173h1v1h-1zM83 173h1v1h-1zM99 173h1v1h-1zM58 174h1v1h-1zM83 174h1v1h-1zM99 174h1v1h-1zM58 175h1v1h-1zM83 175h1v1h-1zM99 175h1v1h-1zM59 176h1v1h-1zM82 176h1v1h-1zM99 176h1v1h-1zM59 177h1v1h-1zM82 177h1v1h-1zM99 177h1v1h-1zM59 178h1v1h-1zM82 178h1v1h-1zM99 178h1v1h-1zM59 179h1v1h-1zM82 179h1v1h-1zM100 179h1v1h-1zM59 180h1v1h-1zM81 180h1v1h-1zM100 180h1v1h-1zM60 181h1v1h-1zM81 181h1v1h-1zM100 181h1v1h-1zM60 182h1v1h-1zM81 182h1v1h-1zM100 182h1v1h-1zM60 183h1v1h-1zM81 183h1v1h-1zM100 183h1v1h-1zM60 184h1v1h-1zM81 184h1v1h-1zM100 184h1v1h-1zM61 185h1v1h-1zM80 185h1v1h-1zM101 185h1v1h-1zM61 186h1v1h-1zM80 186h1v1h-1zM101 186h1v1h-1zM61 187h1v1h-1zM80 187h1v1h-1zM101 187h1v1h-1zM61 188h1v1h-1zM80 188h1v1h-1zM101 188h1v1h-1zM61 189h1v1h-1zM79 189h1v1h-1zM101 189h1v1h-1zM476 189h3v1h-3zM62 190h1v1h-1zM79 190h1v1h-1zM101 190h1v1h-1zM473 190h3v1h-3zM479 190h1v1h-1zM62 191h1v1h-1zM79 191h1v1h-1zM102 191h1v1h-1zM471 191h2v1h-2zM479 191h1v1h-1zM62 192h1v1h-1zM79 192h1v1h-1zM102 192h1v1h-1zM470 192h1v1h-1zM480 192h1v1h-1zM62 193h1v1h-1zM79 193h1v1h-1zM102 193h1v1h-1zM470 193h1v1h-1zM480 193h1v1h-1zM63 194h1v1h-1zM78 194h1v1h-1zM102 194h1v1h-1zM469 194h1v1h-1zM481 194h1v1h-1zM63 195h1v1h-1zM78 195h1v1h-1zM102 195h1v1h-1zM469 195h1v1h-1zM481 195h1v1h-1zM63 196h1v1h-1zM78 196h1v1h-1zM102 196h1v1h-1zM468 196h1v1h-1zM482 196h1v1h-1zM63 197h1v1h-1zM78 197h1v1h-1zM103 197h1v1h-1zM354 197h1v1h-1zM468 197h1v1h-1zM482 197h1v1h-1zM64 198h1v1h-1zM77 198h1v1h-1zM103 198h1v1h-1zM352 198h2v1h-2zM355 198h1v1h-1zM467 198h1v1h-1zM482 198h1v1h-1zM64 199h1v1h-1zM77 199h1v1h-1zM103 199h1v1h-1zM351 199h1v1h-1zM355 199h1v1h-1zM467 199h1v1h-1zM483 199h1v1h-1zM64 200h1v1h-1zM77 200h1v1h-1zM103 200h1v1h-1zM318 200h2v1h-2zM350 200h1v1h-1zM356 200h1v1h-1zM466 200h1v1h-1zM483 200h1v1h-1zM65 201h1v1h-1zM76 201h1v1h-1zM103 201h1v1h-1zM317 201h1v1h-1zM320 201h3v1h-3zM349 201h1v1h-1zM357 201h1v1h-1zM466 201h1v1h-1zM483 201h1v1h-1zM65 202h1v1h-1zM76 202h1v1h-1zM103 202h1v1h-1zM317 202h1v1h-1zM323 202h1v1h-1zM349 202h1v1h-1zM357 202h1v1h-1zM466 202h1v1h-1zM483 202h1v1h-1zM902 202h2v1h-2zM65 203h1v1h-1zM76 203h1v1h-1zM104 203h1v1h-1zM304 203h3v1h-3zM316 203h1v1h-1zM323 203h1v1h-1zM348 203h1v1h-1zM358 203h1v1h-1zM465 203h1v1h-1zM484 203h1v1h-1zM901 203h1v1h-1zM904 203h3v1h-3zM65 204h1v1h-1zM76 204h1v1h-1zM104 204h1v1h-1zM302 204h2v1h-2zM307 204h1v1h-1zM315 204h1v1h-1zM324 204h1v1h-1zM347 204h1v1h-1zM359 204h1v1h-1zM465 204h1v1h-1zM484 204h1v1h-1zM900 204h1v1h-1zM907 204h1v1h-1zM66 205h1v1h-1zM75 205h1v1h-1zM104 205h1v1h-1zM302 205h1v1h-1zM308 205h1v1h-1zM315 205h1v1h-1zM325 205h1v1h-1zM347 205h1v1h-1zM359 205h1v1h-1zM464 205h1v1h-1zM484 205h1v1h-1zM900 205h1v1h-1zM908 205h1v1h-1zM66 206h1v1h-1zM75 206h1v1h-1zM104 206h1v1h-1zM301 206h1v1h-1zM308 206h1v1h-1zM313 206h2v1h-2zM325 206h1v1h-1zM346 206h1v1h-1zM360 206h1v1h-1zM464 206h1v1h-1zM484 206h1v1h-1zM899 206h1v1h-1zM909 206h1v1h-1zM66 207h1v1h-1zM75 207h1v1h-1zM104 207h1v1h-1zM301 207h1v1h-1zM309 207h1v1h-1zM311 207h2v1h-2zM326 207h2v1h-2zM332 207h3v1h-3zM345 207h1v1h-1zM361 207h1v1h-1zM463 207h1v1h-1zM485 207h1v1h-1zM638 207h2v1h-2zM644 207h7v1h-7zM898 207h1v1h-1zM910 207h1v1h-1zM67 208h1v1h-1zM74 208h1v1h-1zM104 208h1v1h-1zM300 208h1v1h-1zM310 208h1v1h-1zM328 208h4v1h-4zM335 208h1v1h-1zM344 208h1v1h-1zM361 208h1v1h-1zM463 208h1v1h-1zM485 208h1v1h-1zM638 208h1v1h-1zM640 208h4v1h-4zM651 208h2v1h-2zM897 208h1v1h-1zM911 208h1v1h-1zM67 209h1v1h-1zM74 209h1v1h-1zM105 209h1v1h-1zM300 209h1v1h-1zM336 209h2v1h-2zM344 209h1v1h-1zM362 209h1v1h-1zM462 209h1v1h-1zM485 209h1v1h-1zM637 209h1v1h-1zM653 209h2v1h-2zM896 209h1v1h-1zM911 209h1v1h-1zM68 210h1v1h-1zM73 210h1v1h-1zM105 210h1v1h-1zM300 210h1v1h-1zM338 210h2v1h-2zM343 210h1v1h-1zM362 210h1v1h-1zM462 210h1v1h-1zM485 210h1v1h-1zM637 210h1v1h-1zM655 210h1v1h-1zM664 210h3v1h-3zM895 210h1v1h-1zM912 210h1v1h-1zM68 211h1v1h-1zM73 211h1v1h-1zM105 211h1v1h-1zM299 211h1v1h-1zM340 211h3v1h-3zM362 211h1v1h-1zM462 211h1v1h-1zM486 211h1v1h-1zM637 211h1v1h-1zM656 211h1v1h-1zM661 211h3v1h-3zM667 211h1v1h-1zM894 211h1v1h-1zM913 211h1v1h-1zM69 212h1v1h-1zM72 212h1v1h-1zM105 212h1v1h-1zM299 212h1v1h-1zM363 212h1v1h-1zM461 212h1v1h-1zM486 212h1v1h-1zM636 212h1v1h-1zM657 212h1v1h-1zM659 212h2v1h-2zM667 212h1v1h-1zM894 212h1v1h-1zM913 212h1v1h-1zM69 213h1v1h-1zM71 213h1v1h-1zM105 213h1v1h-1zM298 213h1v1h-1zM363 213h1v1h-1zM461 213h1v1h-1zM486 213h1v1h-1zM636 213h1v1h-1zM658 213h1v1h-1zM668 213h1v1h-1zM893 213h1v1h-1zM914 213h1v1h-1zM70 214h2v1h-2zM105 214h1v1h-1zM298 214h1v1h-1zM363 214h1v1h-1zM461 214h1v1h-1zM486 214h1v1h-1zM635 214h1v1h-1zM668 214h1v1h-1zM893 214h1v1h-1zM915 214h1v1h-1zM70 215h1v1h-1zM106 215h1v1h-1zM297 215h1v1h-1zM363 215h1v1h-1zM460 215h1v1h-1zM487 215h1v1h-1zM635 215h1v1h-1zM669 215h1v1h-1zM892 215h1v1h-1zM916 215h1v1h-1zM106 216h1v1h-1zM296 216h1v1h-1zM364 216h1v1h-1zM460 216h1v1h-1zM487 216h1v1h-1zM635 216h1v1h-1zM669 216h1v1h-1zM892 216h1v1h-1zM916 216h1v1h-1zM106 217h1v1h-1zM296 217h1v1h-1zM364 217h1v1h-1zM459 217h1v1h-1zM487 217h1v1h-1zM634 217h1v1h-1zM670 217h1v1h-1zM891 217h1v1h-1zM917 217h1v1h-1zM106 218h1v1h-1zM295 218h1v1h-1zM364 218h1v1h-1zM459 218h1v1h-1zM487 218h1v1h-1zM634 218h1v1h-1zM670 218h1v1h-1zM891 218h1v1h-1zM918 218h1v1h-1zM106 219h1v1h-1zM294 219h1v1h-1zM364 219h1v1h-1zM459 219h1v1h-1zM488 219h1v1h-1zM634 219h1v1h-1zM671 219h1v1h-1zM890 219h1v1h-1zM919 219h1v1h-1zM107 220h1v1h-1zM294 220h1v1h-1zM364 220h1v1h-1zM422 220h1v1h-1zM458 220h1v1h-1zM488 220h1v1h-1zM633 220h1v1h-1zM671 220h1v1h-1zM890 220h1v1h-1zM919 220h1v1h-1zM107 221h1v1h-1zM293 221h1v1h-1zM365 221h1v1h-1zM420 221h2v1h-2zM423 221h1v1h-1zM432 221h3v1h-3zM458 221h1v1h-1zM488 221h1v1h-1zM633 221h1v1h-1zM671 221h1v1h-1zM890 221h1v1h-1zM920 221h1v1h-1zM107 222h1v1h-1zM293 222h1v1h-1zM365 222h1v1h-1zM419 222h1v1h-1zM424 222h1v1h-1zM429 222h3v1h-3zM435 222h1v1h-1zM458 222h1v1h-1zM488 222h1v1h-1zM632 222h1v1h-1zM672 222h1v1h-1zM889 222h1v1h-1zM920 222h1v1h-1zM107 223h1v1h-1zM292 223h1v1h-1zM365 223h1v1h-1zM418 223h1v1h-1zM425 223h1v1h-1zM427 223h2v1h-2zM436 223h1v1h-1zM457 223h1v1h-1zM489 223h1v1h-1zM632 223h1v1h-1zM672 223h1v1h-1zM889 223h1v1h-1zM921 223h1v1h-1zM107 224h1v1h-1zM292 224h1v1h-1zM365 224h1v1h-1zM417 224h1v1h-1zM426 224h1v1h-1zM437 224h1v1h-1zM457 224h1v1h-1zM489 224h1v1h-1zM631 224h1v1h-1zM673 224h1v1h-1zM888 224h1v1h-1zM921 224h1v1h-1zM107 225h1v1h-1zM291 225h1v1h-1zM366 225h1v1h-1zM406 225h2v1h-2zM416 225h1v1h-1zM438 225h1v1h-1zM456 225h1v1h-1zM489 225h1v1h-1zM631 225h1v1h-1zM673 225h1v1h-1zM888 225h1v1h-1zM922 225h1v1h-1zM108 226h1v1h-1zM291 226h1v1h-1zM366 226h1v1h-1zM406 226h1v1h-1zM408 226h4v1h-4zM415 226h1v1h-1zM439 226h1v1h-1zM456 226h1v1h-1zM489 226h1v1h-1zM630 226h1v1h-1zM673 226h1v1h-1zM887 226h1v1h-1zM922 226h1v1h-1zM108 227h1v1h-1zM290 227h1v1h-1zM366 227h1v1h-1zM405 227h1v1h-1zM412 227h3v1h-3zM440 227h2v1h-2zM455 227h1v1h-1zM490 227h1v1h-1zM630 227h1v1h-1zM674 227h1v1h-1zM887 227h1v1h-1zM923 227h1v1h-1zM108 228h1v1h-1zM290 228h1v1h-1zM366 228h1v1h-1zM405 228h1v1h-1zM442 228h2v1h-2zM455 228h1v1h-1zM490 228h1v1h-1zM629 228h1v1h-1zM674 228h1v1h-1zM886 228h1v1h-1zM923 228h1v1h-1zM108 229h1v1h-1zM289 229h1v1h-1zM366 229h1v1h-1zM404 229h1v1h-1zM444 229h3v1h-3zM454 229h1v1h-1zM490 229h1v1h-1zM629 229h1v1h-1zM675 229h2v1h-2zM886 229h1v1h-1zM924 229h1v1h-1zM108 230h1v1h-1zM289 230h1v1h-1zM367 230h1v1h-1zM404 230h1v1h-1zM447 230h1v1h-1zM454 230h1v1h-1zM491 230h1v1h-1zM628 230h1v1h-1zM677 230h2v1h-2zM885 230h1v1h-1zM925 230h1v1h-1zM108 231h1v1h-1zM289 231h1v1h-1zM367 231h1v1h-1zM403 231h1v1h-1zM447 231h1v1h-1zM453 231h1v1h-1zM491 231h1v1h-1zM628 231h1v1h-1zM679 231h1v1h-1zM885 231h1v1h-1zM925 231h1v1h-1zM109 232h1v1h-1zM288 232h1v1h-1zM367 232h1v1h-1zM403 232h1v1h-1zM448 232h1v1h-1zM452 232h1v1h-1zM491 232h1v1h-1zM627 232h1v1h-1zM679 232h1v1h-1zM884 232h1v1h-1zM926 232h1v1h-1zM109 233h1v1h-1zM272 233h3v1h-3zM288 233h1v1h-1zM367 233h1v1h-1zM402 233h1v1h-1zM449 233h1v1h-1zM452 233h1v1h-1zM492 233h1v1h-1zM627 233h1v1h-1zM680 233h1v1h-1zM884 233h1v1h-1zM109 234h1v1h-1zM269 234h3v1h-3zM275 234h2v1h-2zM288 234h1v1h-1zM368 234h1v1h-1zM402 234h1v1h-1zM449 234h1v1h-1zM451 234h1v1h-1zM492 234h1v1h-1zM626 234h1v1h-1zM681 234h1v1h-1zM883 234h1v1h-1zM109 235h1v1h-1zM267 235h2v1h-2zM277 235h2v1h-2zM287 235h1v1h-1zM368 235h1v1h-1zM401 235h1v1h-1zM450 235h1v1h-1zM492 235h1v1h-1zM625 235h1v1h-1zM681 235h1v1h-1zM883 235h1v1h-1zM109 236h1v1h-1zM266 236h1v1h-1zM278 236h1v1h-1zM287 236h1v1h-1zM368 236h1v1h-1zM401 236h1v1h-1zM493 236h1v1h-1zM625 236h1v1h-1zM682 236h1v1h-1zM882 236h1v1h-1zM109 237h1v1h-1zM264 237h2v1h-2zM279 237h1v1h-1zM287 237h1v1h-1zM368 237h1v1h-1zM400 237h1v1h-1zM493 237h1v1h-1zM624 237h1v1h-1zM683 237h1v1h-1zM882 237h1v1h-1zM110 238h1v1h-1zM263 238h1v1h-1zM279 238h1v1h-1zM286 238h1v1h-1zM369 238h1v1h-1zM399 238h1v1h-1zM493 238h1v1h-1zM624 238h1v1h-1zM683 238h1v1h-1zM881 238h1v1h-1zM110 239h1v1h-1zM262 239h1v1h-1zM279 239h1v1h-1zM286 239h1v1h-1zM369 239h1v1h-1zM399 239h1v1h-1zM494 239h1v1h-1zM623 239h1v1h-1zM684 239h1v1h-1zM881 239h1v1h-1zM110 240h1v1h-1zM262 240h1v1h-1zM280 240h1v1h-1zM286 240h1v1h-1zM369 240h1v1h-1zM398 240h1v1h-1zM494 240h1v1h-1zM623 240h1v1h-1zM684 240h1v1h-1zM694 240h1v1h-1zM880 240h1v1h-1zM110 241h1v1h-1zM261 241h1v1h-1zM280 241h1v1h-1zM285 241h1v1h-1zM369 241h1v1h-1zM398 241h1v1h-1zM494 241h1v1h-1zM622 241h1v1h-1zM685 241h1v1h-1zM693 241h2v1h-2zM880 241h1v1h-1zM110 242h1v1h-1zM261 242h1v1h-1zM280 242h1v1h-1zM285 242h1v1h-1zM370 242h1v1h-1zM397 242h1v1h-1zM495 242h1v1h-1zM609 242h2v1h-2zM621 242h1v1h-1zM685 242h1v1h-1zM692 242h1v1h-1zM695 242h1v1h-1zM879 242h1v1h-1zM111 243h1v1h-1zM261 243h1v1h-1zM280 243h1v1h-1zM284 243h1v1h-1zM370 243h1v1h-1zM397 243h1v1h-1zM495 243h1v1h-1zM602 243h2v1h-2zM607 243h2v1h-2zM611 243h2v1h-2zM620 243h1v1h-1zM686 243h1v1h-1zM691 243h1v1h-1zM695 243h1v1h-1zM879 243h1v1h-1zM111 244h1v1h-1zM261 244h1v1h-1zM281 244h1v1h-1zM284 244h1v1h-1zM370 244h1v1h-1zM397 244h1v1h-1zM495 244h1v1h-1zM601 244h1v1h-1zM604 244h3v1h-3zM613 244h2v1h-2zM620 244h1v1h-1zM686 244h5v1h-5zM696 244h1v1h-1zM878 244h1v1h-1zM111 245h1v1h-1zM260 245h1v1h-1zM281 245h1v1h-1zM283 245h1v1h-1zM370 245h1v1h-1zM396 245h1v1h-1zM495 245h1v1h-1zM600 245h1v1h-1zM615 245h2v1h-2zM619 245h1v1h-1zM696 245h1v1h-1zM878 245h1v1h-1zM111 246h1v1h-1zM260 246h1v1h-1zM281 246h1v1h-1zM283 246h1v1h-1zM370 246h1v1h-1zM396 246h1v1h-1zM496 246h1v1h-1zM600 246h1v1h-1zM617 246h2v1h-2zM697 246h1v1h-1zM878 246h1v1h-1zM111 247h1v1h-1zM260 247h1v1h-1zM282 247h1v1h-1zM371 247h1v1h-1zM396 247h1v1h-1zM496 247h1v1h-1zM599 247h1v1h-1zM697 247h1v1h-1zM877 247h1v1h-1zM111 248h1v1h-1zM260 248h1v1h-1zM282 248h1v1h-1zM371 248h1v1h-1zM395 248h1v1h-1zM496 248h1v1h-1zM598 248h1v1h-1zM698 248h1v1h-1zM877 248h1v1h-1zM112 249h1v1h-1zM259 249h1v1h-1zM371 249h1v1h-1zM395 249h1v1h-1zM496 249h1v1h-1zM598 249h1v1h-1zM698 249h1v1h-1zM876 249h1v1h-1zM112 250h1v1h-1zM259 250h1v1h-1zM371 250h1v1h-1zM395 250h1v1h-1zM497 250h1v1h-1zM597 250h1v1h-1zM699 250h1v1h-1zM876 250h1v1h-1zM112 251h1v1h-1zM259 251h1v1h-1zM371 251h1v1h-1zM394 251h1v1h-1zM497 251h1v1h-1zM597 251h1v1h-1zM699 251h1v1h-1zM876 251h1v1h-1zM112 252h1v1h-1zM259 252h1v1h-1zM371 252h1v1h-1zM394 252h1v1h-1zM497 252h1v1h-1zM596 252h1v1h-1zM700 252h1v1h-1zM875 252h1v1h-1zM112 253h1v1h-1zM258 253h1v1h-1zM372 253h1v1h-1zM394 253h1v1h-1zM497 253h1v1h-1zM596 253h1v1h-1zM701 253h1v1h-1zM875 253h1v1h-1zM112 254h1v1h-1zM258 254h1v1h-1zM372 254h1v1h-1zM394 254h1v1h-1zM498 254h1v1h-1zM595 254h1v1h-1zM701 254h1v1h-1zM874 254h1v1h-1zM113 255h1v1h-1zM258 255h1v1h-1zM372 255h1v1h-1zM393 255h1v1h-1zM498 255h1v1h-1zM595 255h1v1h-1zM702 255h1v1h-1zM874 255h1v1h-1zM113 256h1v1h-1zM257 256h1v1h-1zM372 256h1v1h-1zM393 256h1v1h-1zM498 256h1v1h-1zM594 256h1v1h-1zM703 256h1v1h-1zM873 256h1v1h-1zM113 257h1v1h-1zM257 257h1v1h-1zM372 257h1v1h-1zM393 257h1v1h-1zM498 257h1v1h-1zM593 257h1v1h-1zM703 257h1v1h-1zM873 257h1v1h-1zM113 258h1v1h-1zM257 258h1v1h-1zM372 258h1v1h-1zM393 258h1v1h-1zM499 258h1v1h-1zM593 258h1v1h-1zM704 258h1v1h-1zM872 258h1v1h-1zM113 259h1v1h-1zM256 259h1v1h-1zM373 259h1v1h-1zM392 259h1v1h-1zM499 259h1v1h-1zM592 259h1v1h-1zM705 259h1v1h-1zM871 259h1v1h-1zM113 260h1v1h-1zM256 260h1v1h-1zM373 260h1v1h-1zM392 260h1v1h-1zM500 260h1v1h-1zM592 260h1v1h-1zM705 260h1v1h-1zM871 260h1v1h-1zM114 261h1v1h-1zM256 261h1v1h-1zM373 261h1v1h-1zM392 261h1v1h-1zM500 261h1v1h-1zM591 261h1v1h-1zM706 261h1v1h-1zM870 261h1v1h-1zM114 262h1v1h-1zM256 262h1v1h-1zM373 262h1v1h-1zM392 262h1v1h-1zM500 262h1v1h-1zM591 262h1v1h-1zM706 262h1v1h-1zM870 262h1v1h-1zM114 263h1v1h-1zM255 263h1v1h-1zM373 263h1v1h-1zM391 263h1v1h-1zM501 263h1v1h-1zM590 263h1v1h-1zM707 263h1v1h-1zM869 263h1v1h-1zM114 264h1v1h-1zM255 264h1v1h-1zM373 264h1v1h-1zM391 264h1v1h-1zM501 264h1v1h-1zM589 264h1v1h-1zM707 264h1v1h-1zM869 264h1v1h-1zM114 265h1v1h-1zM255 265h1v1h-1zM374 265h1v1h-1zM391 265h1v1h-1zM502 265h1v1h-1zM589 265h1v1h-1zM708 265h1v1h-1zM868 265h1v1h-1zM115 266h1v1h-1zM254 266h1v1h-1zM374 266h1v1h-1zM391 266h1v1h-1zM502 266h1v1h-1zM588 266h1v1h-1zM708 266h1v1h-1zM868 266h1v1h-1zM115 267h1v1h-1zM254 267h1v1h-1zM374 267h1v1h-1zM390 267h1v1h-1zM503 267h1v1h-1zM587 267h1v1h-1zM709 267h1v1h-1zM868 267h1v1h-1zM115 268h1v1h-1zM252 268h2v1h-2zM374 268h1v1h-1zM390 268h1v1h-1zM504 268h1v1h-1zM587 268h1v1h-1zM709 268h1v1h-1zM867 268h1v1h-1zM116 269h1v1h-1zM251 269h1v1h-1zM375 269h1v1h-1zM390 269h1v1h-1zM504 269h1v1h-1zM586 269h1v1h-1zM710 269h1v1h-1zM867 269h1v1h-1zM116 270h1v1h-1zM250 270h1v1h-1zM375 270h1v1h-1zM390 270h1v1h-1zM505 270h1v1h-1zM586 270h1v1h-1zM710 270h1v1h-1zM866 270h1v1h-1zM116 271h1v1h-1zM249 271h1v1h-1zM375 271h1v1h-1zM389 271h1v1h-1zM506 271h1v1h-1zM585 271h1v1h-1zM711 271h1v1h-1zM866 271h1v1h-1zM117 272h1v1h-1zM249 272h1v1h-1zM376 272h1v1h-1zM389 272h1v1h-1zM507 272h1v1h-1zM585 272h1v1h-1zM711 272h1v1h-1zM866 272h1v1h-1zM117 273h1v1h-1zM248 273h1v1h-1zM376 273h1v1h-1zM389 273h1v1h-1zM507 273h1v1h-1zM584 273h1v1h-1zM712 273h1v1h-1zM865 273h1v1h-1zM117 274h1v1h-1zM248 274h1v1h-1zM376 274h1v1h-1zM388 274h1v1h-1zM508 274h1v1h-1zM584 274h1v1h-1zM712 274h1v1h-1zM865 274h1v1h-1zM118 275h1v1h-1zM247 275h1v1h-1zM376 275h1v1h-1zM388 275h1v1h-1zM509 275h1v1h-1zM583 275h1v1h-1zM713 275h1v1h-1zM865 275h1v1h-1zM118 276h1v1h-1zM247 276h1v1h-1zM377 276h1v1h-1zM387 276h1v1h-1zM509 276h1v1h-1zM583 276h1v1h-1zM713 276h1v1h-1zM864 276h1v1h-1zM118 277h1v1h-1zM246 277h1v1h-1zM377 277h1v1h-1zM387 277h1v1h-1zM510 277h1v1h-1zM582 277h1v1h-1zM714 277h1v1h-1zM864 277h1v1h-1zM119 278h1v1h-1zM245 278h1v1h-1zM377 278h1v1h-1zM387 278h1v1h-1zM510 278h1v1h-1zM582 278h1v1h-1zM714 278h1v1h-1zM863 278h1v1h-1zM119 279h1v1h-1zM245 279h1v1h-1zM378 279h1v1h-1zM386 279h1v1h-1zM511 279h1v1h-1zM582 279h1v1h-1zM714 279h1v1h-1zM863 279h1v1h-1zM119 280h1v1h-1zM244 280h1v1h-1zM378 280h1v1h-1zM386 280h1v1h-1zM511 280h1v1h-1zM581 280h1v1h-1zM715 280h1v1h-1zM863 280h1v1h-1zM120 281h1v1h-1zM243 281h1v1h-1zM379 281h1v1h-1zM385 281h1v1h-1zM511 281h1v1h-1zM581 281h1v1h-1zM715 281h1v1h-1zM862 281h1v1h-1zM120 282h1v1h-1zM243 282h1v1h-1zM380 282h1v1h-1zM384 282h1v1h-1zM512 282h1v1h-1zM580 282h1v1h-1zM716 282h1v1h-1zM862 282h1v1h-1zM120 283h1v1h-1zM241 283h2v1h-2zM380 283h1v1h-1zM384 283h1v1h-1zM512 283h1v1h-1zM580 283h1v1h-1zM716 283h1v1h-1zM861 283h1v1h-1zM120 284h1v1h-1zM239 284h2v1h-2zM381 284h1v1h-1zM383 284h1v1h-1zM512 284h1v1h-1zM579 284h1v1h-1zM717 284h1v1h-1zM742 284h1v1h-1zM861 284h1v1h-1zM121 285h1v1h-1zM234 285h5v1h-5zM382 285h1v1h-1zM512 285h1v1h-1zM579 285h1v1h-1zM717 285h1v1h-1zM741 285h1v1h-1zM743 285h1v1h-1zM860 285h1v1h-1zM121 286h1v1h-1zM233 286h1v1h-1zM513 286h1v1h-1zM578 286h1v1h-1zM718 286h1v1h-1zM740 286h1v1h-1zM744 286h1v1h-1zM860 286h1v1h-1zM121 287h1v1h-1zM232 287h1v1h-1zM513 287h1v1h-1zM577 287h1v1h-1zM718 287h1v1h-1zM739 287h1v1h-1zM744 287h1v1h-1zM859 287h1v1h-1zM122 288h1v1h-1zM231 288h1v1h-1zM513 288h1v1h-1zM576 288h1v1h-1zM718 288h1v1h-1zM738 288h1v1h-1zM745 288h1v1h-1zM859 288h1v1h-1zM122 289h1v1h-1zM228 289h3v1h-3zM514 289h1v1h-1zM575 289h1v1h-1zM719 289h1v1h-1zM737 289h1v1h-1zM746 289h1v1h-1zM858 289h1v1h-1zM122 290h1v1h-1zM226 290h2v1h-2zM514 290h1v1h-1zM574 290h1v1h-1zM719 290h1v1h-1zM736 290h1v1h-1zM746 290h1v1h-1zM858 290h1v1h-1zM123 291h1v1h-1zM225 291h1v1h-1zM514 291h1v1h-1zM573 291h1v1h-1zM720 291h1v1h-1zM736 291h1v1h-1zM747 291h1v1h-1zM857 291h1v1h-1zM123 292h1v1h-1zM225 292h1v1h-1zM515 292h1v1h-1zM566 292h1v1h-1zM572 292h1v1h-1zM720 292h1v1h-1zM735 292h1v1h-1zM747 292h1v1h-1zM857 292h1v1h-1zM123 293h1v1h-1zM224 293h1v1h-1zM515 293h1v1h-1zM566 293h3v1h-3zM571 293h1v1h-1zM721 293h1v1h-1zM733 293h2v1h-2zM748 293h1v1h-1zM856 293h1v1h-1zM124 294h1v1h-1zM224 294h1v1h-1zM515 294h1v1h-1zM565 294h1v1h-1zM569 294h2v1h-2zM721 294h1v1h-1zM731 294h2v1h-2zM748 294h1v1h-1zM856 294h1v1h-1zM124 295h1v1h-1zM223 295h1v1h-1zM516 295h1v1h-1zM565 295h1v1h-1zM722 295h1v1h-1zM729 295h2v1h-2zM748 295h1v1h-1zM855 295h1v1h-1zM124 296h1v1h-1zM223 296h1v1h-1zM516 296h1v1h-1zM564 296h1v1h-1zM722 296h2v1h-2zM727 296h2v1h-2zM749 296h1v1h-1zM855 296h1v1h-1zM124 297h1v1h-1zM222 297h1v1h-1zM516 297h1v1h-1zM564 297h1v1h-1zM724 297h3v1h-3zM749 297h1v1h-1zM854 297h1v1h-1zM125 298h1v1h-1zM222 298h1v1h-1zM517 298h1v1h-1zM563 298h1v1h-1zM750 298h1v1h-1zM854 298h1v1h-1zM125 299h1v1h-1zM221 299h1v1h-1zM517 299h1v1h-1zM563 299h1v1h-1zM750 299h1v1h-1zM853 299h1v1h-1zM125 300h1v1h-1zM221 300h1v1h-1zM517 300h1v1h-1zM562 300h1v1h-1zM750 300h1v1h-1zM853 300h1v1h-1zM126 301h1v1h-1zM221 301h1v1h-1zM518 301h1v1h-1zM562 301h1v1h-1zM751 301h1v1h-1zM853 301h1v1h-1zM126 302h1v1h-1zM221 302h1v1h-1zM518 302h1v1h-1zM561 302h1v1h-1zM751 302h1v1h-1zM852 302h1v1h-1zM126 303h1v1h-1zM220 303h1v1h-1zM518 303h1v1h-1zM561 303h1v1h-1zM751 303h1v1h-1zM852 303h1v1h-1zM127 304h1v1h-1zM220 304h1v1h-1zM519 304h1v1h-1zM560 304h1v1h-1zM752 304h1v1h-1zM852 304h1v1h-1zM127 305h1v1h-1zM220 305h1v1h-1zM519 305h1v1h-1zM560 305h1v1h-1zM752 305h1v1h-1zM852 305h1v1h-1zM127 306h1v1h-1zM220 306h1v1h-1zM519 306h1v1h-1zM560 306h1v1h-1zM752 306h1v1h-1zM851 306h1v1h-1zM127 307h1v1h-1zM219 307h1v1h-1zM520 307h1v1h-1zM559 307h1v1h-1zM752 307h1v1h-1zM851 307h1v1h-1zM128 308h1v1h-1zM219 308h1v1h-1zM520 308h1v1h-1zM559 308h1v1h-1zM753 308h1v1h-1zM851 308h1v1h-1zM128 309h1v1h-1zM219 309h1v1h-1zM520 309h1v1h-1zM558 309h1v1h-1zM753 309h1v1h-1zM850 309h1v1h-1zM128 310h1v1h-1zM219 310h1v1h-1zM520 310h1v1h-1zM558 310h1v1h-1zM753 310h1v1h-1zM850 310h1v1h-1zM129 311h1v1h-1zM218 311h1v1h-1zM521 311h1v1h-1zM558 311h1v1h-1zM754 311h1v1h-1zM850 311h1v1h-1zM129 312h1v1h-1zM218 312h1v1h-1zM521 312h1v1h-1zM557 312h1v1h-1zM754 312h1v1h-1zM849 312h1v1h-1zM129 313h1v1h-1zM218 313h1v1h-1zM521 313h1v1h-1zM557 313h1v1h-1zM754 313h1v1h-1zM849 313h1v1h-1zM129 314h1v1h-1zM217 314h1v1h-1zM522 314h1v1h-1zM556 314h1v1h-1zM755 314h1v1h-1zM849 314h1v1h-1zM130 315h1v1h-1zM217 315h1v1h-1zM522 315h1v1h-1zM556 315h1v1h-1zM755 315h1v1h-1zM848 315h1v1h-1zM130 316h1v1h-1zM216 316h1v1h-1zM523 316h1v1h-1zM556 316h1v1h-1zM755 316h1v1h-1zM848 316h1v1h-1zM131 317h1v1h-1zM216 317h1v1h-1zM524 317h1v1h-1zM555 317h1v1h-1zM756 317h1v1h-1zM847 317h1v1h-1zM132 318h1v1h-1zM215 318h1v1h-1zM524 318h1v1h-1zM555 318h1v1h-1zM756 318h1v1h-1zM847 318h1v1h-1zM132 319h1v1h-1zM215 319h1v1h-1zM525 319h1v1h-1zM554 319h1v1h-1zM756 319h1v1h-1zM847 319h1v1h-1zM133 320h1v1h-1zM136 320h3v1h-3zM214 320h1v1h-1zM526 320h1v1h-1zM554 320h1v1h-1zM757 320h1v1h-1zM846 320h1v1h-1zM134 321h2v1h-2zM139 321h1v1h-1zM213 321h1v1h-1zM527 321h1v1h-1zM554 321h1v1h-1zM757 321h1v1h-1zM846 321h1v1h-1zM139 322h1v1h-1zM212 322h1v1h-1zM527 322h1v1h-1zM553 322h1v1h-1zM757 322h1v1h-1zM846 322h1v1h-1zM140 323h1v1h-1zM166 323h1v1h-1zM212 323h1v1h-1zM528 323h1v1h-1zM553 323h1v1h-1zM758 323h1v1h-1zM845 323h1v1h-1zM141 324h1v1h-1zM165 324h1v1h-1zM167 324h1v1h-1zM211 324h1v1h-1zM528 324h1v1h-1zM552 324h1v1h-1zM758 324h1v1h-1zM845 324h1v1h-1zM141 325h1v1h-1zM165 325h1v1h-1zM168 325h1v1h-1zM210 325h1v1h-1zM529 325h1v1h-1zM552 325h1v1h-1zM758 325h1v1h-1zM844 325h1v1h-1zM142 326h1v1h-1zM164 326h1v1h-1zM168 326h1v1h-1zM210 326h1v1h-1zM529 326h1v1h-1zM552 326h1v1h-1zM758 326h1v1h-1zM844 326h1v1h-1zM143 327h1v1h-1zM150 327h1v1h-1zM163 327h1v1h-1zM169 327h1v1h-1zM209 327h1v1h-1zM530 327h1v1h-1zM551 327h1v1h-1zM759 327h1v1h-1zM843 327h1v1h-1zM144 328h1v1h-1zM148 328h2v1h-2zM151 328h1v1h-1zM163 328h1v1h-1zM170 328h1v1h-1zM209 328h1v1h-1zM531 328h1v1h-1zM551 328h1v1h-1zM759 328h1v1h-1zM843 328h1v1h-1zM145 329h1v1h-1zM147 329h1v1h-1zM152 329h1v1h-1zM162 329h1v1h-1zM171 329h1v1h-1zM209 329h1v1h-1zM531 329h1v1h-1zM550 329h1v1h-1zM759 329h1v1h-1zM842 329h1v1h-1zM146 330h1v1h-1zM152 330h1v1h-1zM161 330h1v1h-1zM172 330h1v1h-1zM208 330h1v1h-1zM532 330h1v1h-1zM550 330h1v1h-1zM759 330h1v1h-1zM842 330h1v1h-1zM153 331h1v1h-1zM161 331h1v1h-1zM173 331h1v1h-1zM208 331h1v1h-1zM532 331h1v1h-1zM550 331h1v1h-1zM759 331h1v1h-1zM842 331h1v1h-1zM154 332h1v1h-1zM160 332h1v1h-1zM174 332h1v1h-1zM207 332h1v1h-1zM533 332h1v1h-1zM549 332h1v1h-1zM759 332h1v1h-1zM841 332h1v1h-1zM155 333h1v1h-1zM159 333h1v1h-1zM175 333h1v1h-1zM207 333h1v1h-1zM533 333h1v1h-1zM549 333h1v1h-1zM760 333h1v1h-1zM841 333h1v1h-1zM156 334h2v1h-2zM159 334h1v1h-1zM175 334h1v1h-1zM207 334h1v1h-1zM534 334h1v1h-1zM549 334h1v1h-1zM760 334h1v1h-1zM840 334h1v1h-1zM158 335h1v1h-1zM176 335h1v1h-1zM206 335h1v1h-1zM535 335h1v1h-1zM548 335h1v1h-1zM760 335h1v1h-1zM840 335h1v1h-1zM176 336h1v1h-1zM206 336h1v1h-1zM536 336h1v1h-1zM548 336h1v1h-1zM760 336h1v1h-1zM840 336h1v1h-1zM177 337h1v1h-1zM206 337h1v1h-1zM537 337h1v1h-1zM548 337h1v1h-1zM760 337h1v1h-1zM839 337h1v1h-1zM177 338h1v1h-1zM205 338h1v1h-1zM538 338h1v1h-1zM547 338h1v1h-1zM760 338h1v1h-1zM839 338h1v1h-1zM178 339h1v1h-1zM205 339h1v1h-1zM539 339h1v1h-1zM547 339h1v1h-1zM761 339h1v1h-1zM838 339h1v1h-1zM178 340h1v1h-1zM204 340h1v1h-1zM540 340h2v1h-2zM547 340h1v1h-1zM761 340h1v1h-1zM838 340h1v1h-1zM179 341h1v1h-1zM204 341h1v1h-1zM542 341h2v1h-2zM546 341h1v1h-1zM761 341h1v1h-1zM838 341h1v1h-1zM179 342h1v1h-1zM203 342h1v1h-1zM544 342h3v1h-3zM761 342h1v1h-1zM837 342h1v1h-1zM179 343h1v1h-1zM203 343h1v1h-1zM761 343h1v1h-1zM837 343h1v1h-1zM180 344h1v1h-1zM202 344h1v1h-1zM761 344h1v1h-1zM810 344h1v1h-1zM836 344h1v1h-1zM180 345h1v1h-1zM202 345h1v1h-1zM762 345h1v1h-1zM809 345h1v1h-1zM811 345h1v1h-1zM836 345h1v1h-1zM181 346h1v1h-1zM200 346h2v1h-2zM762 346h1v1h-1zM808 346h1v1h-1zM811 346h1v1h-1zM835 346h1v1h-1zM181 347h1v1h-1zM199 347h1v1h-1zM762 347h1v1h-1zM807 347h1v1h-1zM812 347h1v1h-1zM835 347h1v1h-1zM181 348h1v1h-1zM198 348h1v1h-1zM762 348h1v1h-1zM806 348h1v1h-1zM812 348h1v1h-1zM834 348h1v1h-1zM182 349h1v1h-1zM197 349h1v1h-1zM763 349h1v1h-1zM805 349h1v1h-1zM813 349h1v1h-1zM833 349h2v1h-2zM182 350h1v1h-1zM197 350h1v1h-1zM763 350h1v1h-1zM804 350h1v1h-1zM813 350h1v1h-1zM824 350h4v1h-4zM831 350h2v1h-2zM183 351h1v1h-1zM196 351h1v1h-1zM763 351h1v1h-1zM803 351h1v1h-1zM814 351h10v1h-10zM828 351h3v1h-3zM183 352h1v1h-1zM195 352h1v1h-1zM763 352h1v1h-1zM802 352h1v1h-1zM184 353h1v1h-1zM195 353h1v1h-1zM764 353h1v1h-1zM802 353h1v1h-1zM185 354h1v1h-1zM194 354h1v1h-1zM764 354h1v1h-1zM801 354h1v1h-1zM185 355h1v1h-1zM193 355h1v1h-1zM764 355h1v1h-1zM801 355h1v1h-1zM186 356h1v1h-1zM193 356h1v1h-1zM764 356h1v1h-1zM801 356h1v1h-1zM187 357h1v1h-1zM192 357h1v1h-1zM765 357h1v1h-1zM800 357h1v1h-1zM188 358h1v1h-1zM191 358h1v1h-1zM765 358h1v1h-1zM800 358h1v1h-1zM189 359h1v1h-1zM191 359h1v1h-1zM765 359h1v1h-1zM799 359h1v1h-1zM190 360h1v1h-1zM765 360h1v1h-1zM799 360h1v1h-1zM766 361h1v1h-1zM799 361h1v1h-1zM766 362h1v1h-1zM798 362h1v1h-1zM766 363h1v1h-1zM798 363h1v1h-1zM766 364h1v1h-1zM797 364h1v1h-1zM767 365h1v1h-1zM797 365h1v1h-1zM767 366h1v1h-1zM796 366h1v1h-1zM767 367h1v1h-1zM796 367h1v1h-1zM768 368h1v1h-1zM795 368h1v1h-1zM768 369h1v1h-1zM795 369h1v1h-1zM768 370h1v1h-1zM794 370h1v1h-1zM768 371h1v1h-1zM794 371h1v1h-1zM769 372h1v1h-1zM793 372h1v1h-1zM769 373h1v1h-1zM793 373h1v1h-1zM769 374h1v1h-1zM793 374h1v1h-1zM770 375h1v1h-1zM793 375h1v1h-1zM770 376h1v1h-1zM792 376h1v1h-1zM770 377h1v1h-1zM792 377h1v1h-1zM771 378h1v1h-1zM792 378h1v1h-1zM771 379h1v1h-1zM791 379h1v1h-1zM771 380h1v1h-1zM791 380h1v1h-1zM772 381h1v1h-1zM791 381h1v1h-1zM772 382h1v1h-1zM791 382h1v1h-1zM773 383h1v1h-1zM790 383h1v1h-1zM773 384h1v1h-1zM790 384h1v1h-1zM773 385h1v1h-1zM789 385h1v1h-1zM774 386h1v1h-1zM789 386h1v1h-1zM774 387h1v1h-1zM788 387h1v1h-1zM775 388h1v1h-1zM788 388h1v1h-1zM775 389h1v1h-1zM787 389h1v1h-1zM776 390h1v1h-1zM787 390h1v1h-1zM776 391h1v1h-1zM786 391h1v1h-1zM777 392h1v1h-1zM785 392h1v1h-1zM777 393h1v1h-1zM784 393h1v1h-1zM778 394h1v1h-1zM783 394h1v1h-1zM778 395h5v1h-5z" fill="#0000ff"/>
<g clip-path="url(#cm)">
<rect x="6" y="91" width="1" height="29" fill="#32cd32"/>
<rect x="10" y="100" width="1" height="28" fill="#32cd32"/>
<rect x="9" y="104" width="3" height="17" fill="#32cd32"/>
<rect x="14" y="112" width="1" height="17" fill="#ff0000"/>
<rect x="13" y="120" width="3" height="3" fill="#ff0000"/>
<rect x="14" y="121" width="1" height="1" fill="#ff4500"/>
<rect x="18" y="90" width="1" height="36" fill="#ff0000"/>
<rect x="17" y="95" width="3" height="27" fill="#ff0000"/>
<rect x="18" y="96" width="1" height="25" fill="#ff4500"/>
<rect x="22" y="72" width="1" height="29" fill="#ff0000"/>
<rect x="21" y="80" width="3" height="16" fill="#ff0000"/>
<rect x="22" y="81" width="1" height="14" fill="#ff4500"/>
<rect x="26" y="70" width="1" height="19" fill="#32cd32"/>
<rect x="25" y="78" width="3" height="5" fill="#32cd32"/>
<rect x="30" y="68" width="1" height="18" fill="#ff0000"/>
<rect x="29" y="75" width="3" height="6" fill="#ff0000"/>
<rect x="30" y="76" width="1" height="4" fill="#ff4500"/>
<rect x="34" y="70" width="1" height="29" fill="#32cd32"/>
<rect x="33" y="75" width="3" height="17" fill="#32cd32"/>
<rect x="38" y="75" width="1" height="21" fill="#ff0000"/>
<rect x="37" y="82" width="3" height="11" fill="#ff0000"/>
<rect x="38" y="83" width="1" height="9" fill="#ff4500"/>
<rect x="42" y="78" width="1" height="59" fill="#32cd32"/>
<rect x="41" y="82" width="3" height="53" fill="#32cd32"/>
<rect x="46" y="130" width="1" height="37" fill="#32cd32"/>
<rect x="45" y="133" width="3" height="7" fill="#32cd32"/>
<rect x="50" y="126" width="1" height="41" fill="#32cd32"/>
<rect x="49" y="138" width="3" height="23" fill="#32cd32"/>
<rect x="54" y="155" width="1" height="71" fill="#32cd32"/>
<rect x="53" y="159" width="3" height="53" fill="#32cd32"/>
<rect x="58" y="208" width="1" height="19" fill="#32cd32"/>
<rect x="57" y="211" width="3" height="11" fill="#32cd32"/>
<rect x="62" y="215" width="1" height="20" fill="#32cd32"/>
<rect x="61" y="222" width="3" height="8" fill="#32cd32"/>
<rect x="66" y="207" width="1" height="28" fill="#ff0000"/>
<rect x="65" y="208" width="3" height="21" fill="#ff0000"/>
<rect x="66" y="209" width="1" height="19" fill="#ff4500"/>
<rect x="70" y="198" width="1" height="24" fill="#ff0000"/>
<rect x="69" y="205" width="3" height="4" fill="#ff0000"/>
<rect x="70" y="206" width="1" height="2" fill="#ff4500"/>
<rect x="74" y="177" width="1" height="30" fill="#ff0000"/>
<rect x="73" y="185" width="3" height="22" fill="#ff0000"/>
<rect x="74" y="186" width="1" height="20" fill="#ff4500"/>
<rect x="78" y="151" width="1" height="43" fill="#ff0000"/>
<rect x="77" y="154" width="3" height="32" fill="#ff0000"/>
<rect x="78" y="155" width="1" height="30" fill="#ff4500"/>
<rect x="82" y="130" width="1" height="27" fill="#ff0000"/>
<rect x="81" y="133" width="3" height="22" fill="#ff0000"/>
<rect x="82" y="134" width="1" height="20" fill="#ff4500"/>
<rect x="86" y="132" width="1" height="18" fill="#32cd32"/>
<rect x="85" y="138" width="3" height="9" fill="#32cd32"/>
<rect x="90" y="124" width="1" height="30" fill="#32cd32"/>
<rect x="89" y="145" width="3" height="3" fill="#32cd32"/>
<rect x="94" y="145" width="1" height="38" fill="#32cd32"/>
<rect x="93" y="146" width="3" height="22" fill="#32cd32"/>
<rect x="98" y="164" width="1" height="130" fill="#32cd32"/>
<rect x="97" y="166" width="3" height="93" fill="#32cd32"/>
<rect x="102" y="247" width="1" height="40" fill="#ff0000"/>
<rect x="101" y="252" width="3" height="7" fill="#ff0000"/>
<rect x="102" y="253" width="1" height="5" fill="#ff4500"/>
<rect x="106" y="246" width="1" height="14" fill="#32cd32"/>
<rect x="105" y="252" width="3" height="8" fill="#32cd32"/>
<rect x="110" y="255" width="1" height="24" fill="#32cd32"/>
<rect x="109" y="258" width="3" height="9" fill="#32cd32"/>
<rect x="114" y="262" width="1" height="32" fill="#32cd32"/>
<rect x="113" y="265" width="3" height="22" fill="#32cd32"/>
<rect x="118" y="258" width="1" height="61" fill="#32cd32"/>
<rect x="117" y="285" width="3" height="34" fill="#32cd32"/>
<rect x="122" y="301" width="1" height="20" fill="#ff0000"/>
<rect x="121" y="315" width="3" height="5" fill="#ff0000"/>
<rect x="122" y="316" width="1" height="3" fill="#ff4500"/>
<rect x="126" y="313" width="1" height="36" fill="#32cd32"/>
<rect x="125" y="314" width="3" height="16" fill="#32cd32"/>
<rect x="130" y="323" width="1" height="14" fill="#32cd32"/>
<rect x="129" y="328" width="3" height="9" fill="#32cd32"/>
<rect x="134" y="306" width="1" height="28" fill="#ff0000"/>
<rect x="133" y="308" width="3" height="24" fill="#ff0000"/>
<rect x="134" y="309" width="1" height="22" fill="#ff4500"/>
<rect x="138" y="296" width="1" height="23" fill="#32cd32"/>
<rect x="137" y="309" width="3" height="6" fill="#32cd32"/>
<rect x="142" y="311" width="1" height="36" fill="#32cd32"/>
<rect x="141" y="312" width="3" height="31" fill="#32cd32"/>
<rect x="146" y="336" width="1" height="27" fill="#32cd32"/>
<rect x="145" y="341" width="3" height="12" fill="#32cd32"/>
<rect x="150" y="301" width="1" height="57" fill="#ff0000"/>
<rect x="149" y="318" width="3" height="35" fill="#ff0000"/>
<rect x="150" y="319" width="1" height="33" fill="#ff4500"/>
<rect x="154" y="318" width="1" height="19" fill="#32cd32"/>
<rect x="153" y="318" width="3" height="17" fill="#32cd32"/>
<rect x="158" y="324" width="1" height="32" fill="#ff0000"/>
<rect x="157" y="330" width="3" height="9" fill="#ff0000"/>
<rect x="158" y="331" width="1" height="7" fill="#ff4500"/>
<rect x="162" y="299" width="1" height="35" fill="#ff0000"/>
<rect x="161" y="309" width="3" height="22" fill="#ff0000"/>
<rect x="162" y="310" width="1" height="20" fill="#ff4500"/>
<rect x="166" y="296" width="1" height="48" fill="#32cd32"/>
<rect x="165" y="309" width="3" height="16" fill="#32cd32"/>
<rect x="170" y="320" width="1" height="40" fill="#32cd32"/>
<rect x="169" y="322" width="3" height="20" fill="#32cd32"/>
<rect x="174" y="330" width="1" height="45" fill="#32cd32"/>
<rect x="173" y="340" width="3" height="20" fill="#32cd32"/>
<rect x="178" y="358" width="1" height="10" fill="#32cd32"/>
<rect x="177" y="358" width="3" height="7" fill="#32cd32"/>
<rect x="182" y="353" width="1" height="20" fill="#ff0000"/>
<rect x="181" y="361" width="3" height="7" fill="#ff0000"/>
<rect x="182" y="362" width="1" height="5" fill="#ff4500"/>
<rect x="186" y="345" width="1" height="26" fill="#ff0000"/>
<rect x="185" y="356" width="3" height="7" fill="#ff0000"/>
<rect x="186" y="357" width="1" height="5" fill="#ff4500"/>
<rect x="190" y="327" width="1" height="36" fill="#32cd32"/>
<rect x="189" y="357" width="3" height="3" fill="#32cd32"/>
<rect x="194" y="326" width="1" height="37" fill="#ff0000"/>
<rect x="193" y="328" width="3" height="30" fill="#ff0000"/>
<rect x="194" y="329" width="1" height="28" fill="#ff4500"/>
<rect x="198" y="317" width="1" height="58" fill="#32cd32"/>
<rect x="197" y="329" width="3" height="7" fill="#32cd32"/>
<rect x="202" y="333" width="1" height="16" fill="#32cd32"/>
<rect x="201" y="333" width="3" height="14" fill="#32cd32"/>
<rect x="206" y="312" width="1" height="49" fill="#ff0000"/>
<rect x="205" y="314" width="3" height="38" fill="#ff0000"/>
<rect x="206" y="315" width="1" height="36" fill="#ff4500"/>
<rect x="210" y="285" width="1" height="39" fill="#ff0000"/>
<rect x="209" y="300" width="3" height="15" fill="#ff0000"/>
<rect x="210" y="301" width="1" height="13" fill="#ff4500"/>
<rect x="214" y="295" width="1" height="18" fill="#32cd32"/>
<rect x="213" y="299" width="3" height="5" fill="#32cd32"/>
<rect x="218" y="292" width="1" height="23" fill="#ff0000"/>
<rect x="217" y="296" width="3" height="8" fill="#ff0000"/>
<rect x="218" y="297" width="1" height="6" fill="#ff4500"/>
<rect x="222" y="264" width="1" height="34" fill="#ff0000"/>
<rect x="221" y="271" width="3" height="26" fill="#ff0000"/>
<rect x="222" y="272" width="1" height="24" fill="#ff4500"/>
<rect x="226" y="270" width="1" height="13" fill="#32cd32"/>
<rect x="225" y="270" width="3" height="12" fill="#32cd32"/>
<rect x="230" y="274" width="1" height="22" fill="#32cd32"/>
<rect x="229" y="283" width="3" height="12" fill="#32cd32"/>
<rect x="234" y="268" width="1" height="27" fill="#ff0000"/>
<rect x="233" y="282" width="3" height="13" fill="#ff0000"/>
<rect x="234" y="283" width="1" height="11" fill="#ff4500"/>
<rect x="238" y="278" width="1" height="43" fill="#32cd32"/>
<rect x="237" y="282" width="3" height="17" fill="#32cd32"/>
<rect x="242" y="235" width="1" height="70" fill="#ff0000"/>
<rect x="241" y="260" width="3" height="39" fill="#ff0000"/>
<rect x="242" y="261" width="1" height="37" fill="#ff4500"/>
<rect x="246" y="224" width="1" height="52" fill="#ff0000"/>
<rect x="245" y="253" width="3" height="10" fill="#ff0000"/>
<rect x="246" y="254" width="1" height="8" fill="#ff4500"/>
<rect x="250" y="249" width="1" height="15" fill="#32cd32"/>
<rect x="249" y="253" width="3" height="5" fill="#32cd32"/>
<rect x="254" y="235" width="1" height="44" fill="#32cd32"/>
<rect x="253" y="261" width="3" height="7" fill="#32cd32"/>
<rect x="258" y="222" width="1" height="52" fill="#ff0000"/>
<rect x="257" y="232" width="3" height="36" fill="#ff0000"/>
<rect x="258" y="233" width="1" height="34" fill="#ff4500"/>
<rect x="262" y="177" width="1" height="60" fill="#ff0000"/>
<rect x="261" y="185" width="3" height="49" fill="#ff0000"/>
<rect x="262" y="186" width="1" height="47" fill="#ff4500"/>
<rect x="266" y="178" width="1" height="65" fill="#32cd32"/>
<rect x="265" y="185" width="3" height="55" fill="#32cd32"/>
<rect x="270" y="219" width="1" height="42" fill="#32cd32"/>
<rect x="269" y="238" width="3" height="10" fill="#32cd32"/>
<rect x="274" y="244" width="1" height="19" fill="#32cd32"/>
<rect x="273" y="246" width="3" height="15" fill="#32cd32"/>
<rect x="278" y="233" width="1" height="25" fill="#ff0000"/>
<rect x="277" y="244" width="3" height="13" fill="#ff0000"/>
<rect x="278" y="245" width="1" height="11" fill="#ff4500"/>
<rect x="282" y="208" width="1" height="66" fill="#32cd32"/>
<rect x="281" y="244" width="3" height="8" fill="#32cd32"/>
<rect x="286" y="191" width="1" height="67" fill="#ff0000"/>
<rect x="285" y="192" width="3" height="60" fill="#ff0000"/>
<rect x="286" y="193" width="1" height="58" fill="#ff4500"/>
<rect x="290" y="180" width="1" height="34" fill="#ff0000"/>
<rect x="289" y="190" width="3" height="3" fill="#ff0000"/>
<rect x="290" y="191" width="1" height="1" fill="#ff4500"/>
<rect x="294" y="182" width="1" height="35" fill="#32cd32"/>
<rect x="293" y="190" width="3" height="27" fill="#32cd32"/>
<rect x="298" y="215" width="1" height="13" fill="#32cd32"/>
<rect x="297" y="216" width="3" height="8" fill="#32cd32"/>
<rect x="302" y="198" width="1" height="36" fill="#ff0000"/>
<rect x="301" y="200" width="3" height="23" fill="#ff0000"/>
<rect x="302" y="201" width="1" height="21" fill="#ff4500"/>
<rect x="306" y="176" width="1" height="26" fill="#ff0000"/>
<rect x="305" y="185" width="3" height="17" fill="#ff0000"/>
<rect x="306" y="186" width="1" height="15" fill="#ff4500"/>
<rect x="310" y="184" width="1" height="49" fill="#32cd32"/>
<rect x="309" y="185" width="3" height="33" fill="#32cd32"/>
<rect x="314" y="194" width="1" height="30" fill="#ff0000"/>
<rect x="313" y="206" width="3" height="13" fill="#ff0000"/>
<rect x="314" y="207" width="1" height="11" fill="#ff4500"/>
<rect x="318" y="180" width="1" height="37" fill="#ff0000"/>
<rect x="317" y="192" width="3" height="15" fill="#ff0000"/>
<rect x="318" y="193" width="1" height="13" fill="#ff4500"/>
<rect x="322" y="187" width="1" height="25" fill="#32cd32"/>
<rect x="321" y="192" width="3" height="16" fill="#32cd32"/>
<rect x="326" y="192" width="1" height="33" fill="#32cd32"/>
<rect x="325" y="193" width="3" height="22" fill="#32cd32"/>
<rect x="330" y="213" width="1" height="36" fill="#32cd32"/>
<rect x="329" y="214" width="3" height="7" fill="#32cd32"/>
<rect x="334" y="193" width="1" height="28" fill="#ff0000"/>
<rect x="333" y="204" width="3" height="16" fill="#ff0000"/>
<rect x="334" y="205" width="1" height="14" fill="#ff4500"/>
<rect x="338" y="192" width="1" height="30" fill="#32cd32"/>
<rect x="337" y="202" width="3" height="4" fill="#32cd32"/>
<rect x="342" y="197" width="1" height="39" fill="#32cd32"/>
<rect x="341" y="202" width="3" height="10" fill="#32cd32"/>
<rect x="346" y="184" width="1" height="29" fill="#ff0000"/>
<rect x="345" y="191" width="3" height="21" fill="#ff0000"/>
<rect x="346" y="192" width="1" height="19" fill="#ff4500"/>
<rect x="350" y="167" width="1" height="31" fill="#ff0000"/>
<rect x="349" y="192" width="3" height="3" fill="#ff0000"/>
<rect x="350" y="193" width="1" height="1" fill="#ff4500"/>
<rect x="354" y="154" width="1" height="41" fill="#ff0000"/>
<rect x="353" y="184" width="3" height="10" fill="#ff0000"/>
<rect x="354" y="185" width="1" height="8" fill="#ff4500"/>
<rect x="358" y="177" width="1" height="64" fill="#32cd32"/>
<rect x="357" y="184" width="3" height="53" fill="#32cd32"/>
<rect x="362" y="232" width="1" height="37" fill="#32cd32"/>
<rect x="361" y="235" width="3" height="6" fill="#32cd32"/>
<rect x="366" y="236" width="1" height="53" fill="#32cd32"/>
<rect x="365" y="240" width="3" height="43" fill="#32cd32"/>
<rect x="370" y="276" width="1" height="13" fill="#ff0000"/>
<rect x="369" y="279" width="3" height="4" fill="#ff0000"/>
<rect x="370" y="280" width="1" height="2" fill="#ff4500"/>
<rect x="374" y="277" width="1" height="24" fill="#32cd32"/>
<rect x="373" y="281" width="3" height="20" fill="#32cd32"/>
<rect x="378" y="268" width="1" height="37" fill="#ff0000"/>
<rect x="377" y="299" width="3" height="2" fill="#ff0000"/>
<rect x="382" y="262" width="1" height="43" fill="#ff0000"/>
<rect x="381" y="264" width="3" height="36" fill="#ff0000"/>
<rect x="382" y="265" width="1" height="34" fill="#ff4500"/>
<rect x="386" y="253" width="1" height="26" fill="#ff0000"/>
<rect x="385" y="258" width="3" height="7" fill="#ff0000"/>
<rect x="386" y="259" width="1" height="5" fill="#ff4500"/>
<rect x="390" y="221" width="1" height="52" fill="#ff0000"/>
<rect x="389" y="223" width="3" height="36" fill="#ff0000"/>
<rect x="390" y="224" width="1" height="34" fill="#ff4500"/>
<rect x="394" y="214" width="1" height="14" fill="#ff0000"/>
<rect x="393" y="214" width="3" height="11" fill="#ff0000"/>
<rect x="394" y="215" width="1" height="9" fill="#ff4500"/>
<rect x="398" y="221" width="1" height="37" fill="#ff0000"/>
<rect x="397" y="239" width="3" height="19" fill="#ff0000"/>
<rect x="398" y="240" width="1" height="17" fill="#ff4500"/>
<rect x="402" y="204" width="1" height="40" fill="#ff0000"/>
<rect x="401" y="234" width="3" height="7" fill="#ff0000"/>
<rect x="402" y="235" width="1" height="5" fill="#ff4500"/>
<rect x="406" y="212" width="1" height="32" fill="#ff0000"/>
<rect x="405" y="213" width="3" height="22" fill="#ff0000"/>
<rect x="406" y="214" width="1" height="20" fill="#ff4500"/>
<rect x="410" y="198" width="1" height="37" fill="#32cd32"/>
<rect x="409" y="213" width="3" height="16" fill="#32cd32"/>
<rect x="414" y="203" width="1" height="37" fill="#ff0000"/>
<rect x="413" y="222" width="3" height="7" fill="#ff0000"/>
<rect x="414" y="223" width="1" height="5" fill="#ff4500"/>
<rect x="418" y="217" width="1" height="15" fill="#ff0000"/>
<rect x="417" y="217" width="3" height="7" fill="#ff0000"/>
<rect x="418" y="218" width="1" height="5" fill="#ff4500"/>
<rect x="422" y="201" width="1" height="26" fill="#ff0000"/>
<rect x="421" y="220" width="3" height="3" fill="#ff0000"/>
<rect x="422" y="221" width="1" height="1" fill="#ff4500"/>
<rect x="426" y="216" width="1" height="22" fill="#32cd32"/>
<rect x="425" y="220" width="3" height="14" fill="#32cd32"/>
<rect x="430" y="211" width="1" height="34" fill="#ff0000"/>
<rect x="429" y="216" width="3" height="18" fill="#ff0000"/>
<rect x="430" y="217" width="1" height="16" fill="#ff4500"/>
<rect x="434" y="216" width="1" height="29" fill="#32cd32"/>
<rect x="433" y="216" width="3" height="6" fill="#32cd32"/>
<rect x="438" y="217" width="1" height="39" fill="#32cd32"/>
<rect x="437" y="221" width="3" height="14" fill="#32cd32"/>
<rect x="442" y="228" width="1" height="11" fill="#32cd32"/>
<rect x="441" y="233" width="3" height="5" fill="#32cd32"/>
<rect x="446" y="229" width="1" height="22" fill="#ff0000"/>
<rect x="445" y="237" width="3" height="6" fill="#ff0000"/>
<rect x="446" y="238" width="1" height="4" fill="#ff4500"/>
<rect x="450" y="210" width="1" height="36" fill="#32cd32"/>
<rect x="449" y="237" width="3" height="9" fill="#32cd32"/>
<rect x="454" y="195" width="1" height="66" fill="#ff0000"/>
<rect x="453" y="195" width="3" height="50" fill="#ff0000"/>
<rect x="454" y="196" width="1" height="48" fill="#ff4500"/>
<rect x="458" y="175" width="1" height="28" fill="#ff0000"/>
<rect x="457" y="190" width="3" height="7" fill="#ff0000"/>
<rect x="458" y="191" width="1" height="5" fill="#ff4500"/>
<rect x="462" y="177" width="1" height="28" fill="#ff0000"/>
<rect x="461" y="184" width="3" height="7" fill="#ff0000"/>
<rect x="462" y="185" width="1" height="5" fill="#ff4500"/>
<rect x="466" y="184" width="1" height="10" fill="#32cd32"/>
<rect x="465" y="184" width="3" height="7" fill="#32cd32"/>
<rect x="470" y="185" width="1" height="26" fill="#32cd32"/>
<rect x="469" y="197" width="3" height="5" fill="#32cd32"/>
<rect x="474" y="182" width="1" height="30" fill="#ff0000"/>
<rect x="473" y="184" width="3" height="17" fill="#ff0000"/>
<rect x="474" y="185" width="1" height="15" fill="#ff4500"/>
<rect x="478" y="183" width="1" height="24" fill="#32cd32"/>
<rect x="477" y="184" width="3" height="5" fill="#32cd32"/>
<rect x="482" y="176" width="1" height="48" fill="#32cd32"/>
<rect x="481" y="187" width="3" height="32" fill="#32cd32"/>
<rect x="486" y="203" width="1" height="80" fill="#32cd32"/>
<rect x="485" y="218" width="3" height="58" fill="#32cd32"/>
<rect x="490" y="265" width="1" height="13" fill="#ff0000"/>
<rect x="489" y="274" width="3" height="2" fill="#ff0000"/>
<rect x="494" y="243" width="1" height="27" fill="#ff0000"/>
<rect x="493" y="247" width="3" height="22" fill="#ff0000"/>
<rect x="494" y="248" width="1" height="20" fill="#ff4500"/>
<rect x="498" y="240" width="1" height="27" fill="#32cd32"/>
<rect x="497" y="247" width="3" height="18" fill="#32cd32"/>
<rect x="502" y="246" width="1" height="29" fill="#32cd32"/>
<rect x="501" y="263" width="3" height="7" fill="#32cd32"/>
<rect x="506" y="256" width="1" height="51" fill="#32cd32"/>
<rect x="505" y="268" width="3" height="34" fill="#32cd32"/>
<rect x="510" y="296" width="1" height="13" fill="#32cd32"/>
<rect x="509" y="301" width="3" height="4" fill="#32cd32"/>
<rect x="514" y="296" width="1" height="17" fill="#32cd32"/>
<rect x="513" y="302" width="3" height="10" fill="#32cd32"/>
<rect x="518" y="302" width="1" height="23" fill="#32cd32"/>
<rect x="517" y="305" width="3" height="20" fill="#32cd32"/>
<rect x="522" y="310" width="1" height="33" fill="#32cd32"/>
<rect x="521" y="323" width="3" height="11" fill="#32cd32"/>
<rect x="526" y="318" width="1" height="20" fill="#ff0000"/>
<rect x="525" y="330" width="3" height="4" fill="#ff0000"/>
<rect x="526" y="331" width="1" height="2" fill="#ff4500"/>
<rect x="530" y="327" width="1" height="26" fill="#32cd32"/>
<rect x="529" y="331" width="3" height="7" fill="#32cd32"/>
<rect x="534" y="333" width="1" height="18" fill="#32cd32"/>
<rect x="533" y="336" width="3" height="11" fill="#32cd32"/>
<rect x="538" y="339" width="1" height="11" fill="#32cd32"/>
<rect x="537" y="345" width="3" height="2" fill="#32cd32"/>
<rect x="542" y="336" width="1" height="20" fill="#ff0000"/>
<rect x="541" y="345" width="3" height="5" fill="#ff0000"/>
<rect x="542" y="346" width="1" height="3" fill="#ff4500"/>
<rect x="546" y="335" width="1" height="25" fill="#ff0000"/>
<rect x="545" y="336" width="3" height="11" fill="#ff0000"/>
<rect x="546" y="337" width="1" height="9" fill="#ff4500"/>
<rect x="550" y="272" width="1" height="68" fill="#ff0000"/>
<rect x="549" y="275" width="3" height="63" fill="#ff0000"/>
<rect x="550" y="276" width="1" height="61" fill="#ff4500"/>
<rect x="554" y="258" width="1" height="46" fill="#32cd32"/>
<rect x="553" y="275" width="3" height="26" fill="#32cd32"/>
<rect x="558" y="266" width="1" height="35" fill="#ff0000"/>
<rect x="557" y="296" width="3" height="2" fill="#ff0000"/>
<rect x="562" y="290" width="1" height="11" fill="#ff0000"/>
<rect x="561" y="295" width="3" height="3" fill="#ff0000"/>
<rect x="562" y="296" width="1" height="1" fill="#ff4500"/>
<rect x="566" y="287" width="1" height="20" fill="#ff0000"/>
<rect x="565" y="295" width="3" height="3" fill="#ff0000"/>
<rect x="566" y="296" width="1" height="1" fill="#ff4500"/>
<rect x="570" y="287" width="1" height="28" fill="#ff0000"/>
<rect x="569" y="287" width="3" height="14" fill="#ff0000"/>
<rect x="570" y="288" width="1" height="12" fill="#ff4500"/>
<rect x="574" y="273" width="1" height="28" fill="#ff0000"/>
<rect x="573" y="276" width="3" height="14" fill="#ff0000"/>
<rect x="574" y="277" width="1" height="12" fill="#ff4500"/>
<rect x="578" y="265" width="1" height="24" fill="#32cd32"/>
<rect x="577" y="276" width="3" height="5" fill="#32cd32"/>
<rect x="582" y="241" width="1" height="41" fill="#ff0000"/>
<rect x="581" y="255" width="3" height="24" fill="#ff0000"/>
<rect x="582" y="256" width="1" height="22" fill="#ff4500"/>
<rect x="586" y="246" width="1" height="11" fill="#ff0000"/>
<rect x="585" y="247" width="3" height="9" fill="#ff0000"/>
<rect x="586" y="248" width="1" height="7" fill="#ff4500"/>
<rect x="590" y="244" width="1" height="13" fill="#32cd32"/>
<rect x="589" y="249" width="3" height="8" fill="#32cd32"/>
<rect x="594" y="229" width="1" height="29" fill="#ff0000"/>
<rect x="593" y="245" width="3" height="12" fill="#ff0000"/>
<rect x="594" y="246" width="1" height="10" fill="#ff4500"/>
<rect x="598" y="223" width="1" height="32" fill="#ff0000"/>
<rect x="597" y="238" width="3" height="8" fill="#ff0000"/>
<rect x="598" y="239" width="1" height="6" fill="#ff4500"/>
<rect x="602" y="221" width="1" height="24" fill="#ff0000"/>
<rect x="601" y="231" width="3" height="8" fill="#ff0000"/>
<rect x="602" y="232" width="1" height="6" fill="#ff4500"/>
<rect x="606" y="226" width="1" height="27" fill="#32cd32"/>
<rect x="605" y="229" width="3" height="24" fill="#32cd32"/>
<rect x="610" y="241" width="1" height="14" fill="#ff0000"/>
<rect x="609" y="244" width="3" height="9" fill="#ff0000"/>
<rect x="610" y="245" width="1" height="7" fill="#ff4500"/>
<rect x="614" y="242" width="1" height="17" fill="#32cd32"/>
<rect x="613" y="250" width="3" height="7" fill="#32cd32"/>
<rect x="618" y="245" width="1" height="25" fill="#ff0000"/>
<rect x="617" y="247" width="3" height="10" fill="#ff0000"/>
<rect x="618" y="248" width="1" height="8" fill="#ff4500"/>
<rect x="622" y="195" width="1" height="57" fill="#ff0000"/>
<rect x="621" y="206" width="3" height="43" fill="#ff0000"/>
<rect x="622" y="207" width="1" height="41" fill="#ff4500"/>
<rect x="626" y="187" width="1" height="37" fill="#32cd32"/>
<rect x="625" y="206" width="3" height="13" fill="#32cd32"/>
<rect x="630" y="206" width="1" height="26" fill="#ff0000"/>
<rect x="629" y="211" width="3" height="8" fill="#ff0000"/>
<rect x="630" y="212" width="1" height="6" fill="#ff4500"/>
<rect x="634" y="205" width="1" height="8" fill="#ff0000"/>
<rect x="633" y="207" width="3" height="5" fill="#ff0000"/>
<rect x="634" y="208" width="1" height="3" fill="#ff4500"/>
<rect x="638" y="194" width="1" height="20" fill="#ff0000"/>
<rect x="637" y="196" width="3" height="12" fill="#ff0000"/>
<rect x="638" y="197" width="1" height="10" fill="#ff4500"/>
<rect x="642" y="192" width="1" height="19" fill="#32cd32"/>
<rect x="641" y="196" width="3" height="15" fill="#32cd32"/>
<rect x="646" y="208" width="1" height="21" fill="#32cd32"/>
<rect x="645" y="209" width="3" height="6" fill="#32cd32"/>
<rect x="650" y="204" width="1" height="17" fill="#ff0000"/>
<rect x="649" y="210" width="3" height="5" fill="#ff0000"/>
<rect x="650" y="211" width="1" height="3" fill="#ff4500"/>
<rect x="654" y="195" width="1" height="24" fill="#32cd32"/>
<rect x="653" y="211" width="3" height="6" fill="#32cd32"/>
<rect x="658" y="208" width="1" height="9" fill="#32cd32"/>
<rect x="657" y="215" width="3" height="2" fill="#32cd32"/>
<rect x="662" y="200" width="1" height="19" fill="#ff0000"/>
<rect x="661" y="200" width="3" height="16" fill="#ff0000"/>
<rect x="662" y="201" width="1" height="14" fill="#ff4500"/>
<rect x="666" y="191" width="1" height="24" fill="#32cd32"/>
<rect x="665" y="200" width="3" height="8" fill="#32cd32"/>
<rect x="670" y="200" width="1" height="53" fill="#32cd32"/>
<rect x="669" y="206" width="3" height="39" fill="#32cd32"/>
<rect x="674" y="243" width="1" height="46" fill="#32cd32"/>
<rect x="673" y="244" width="3" height="31" fill="#32cd32"/>
<rect x="678" y="222" width="1" height="61" fill="#ff0000"/>
<rect x="677" y="223" width="3" height="52" fill="#ff0000"/>
<rect x="678" y="224" width="1" height="50" fill="#ff4500"/>
<rect x="682" y="222" width="1" height="11" fill="#32cd32"/>
<rect x="681" y="223" width="3" height="8" fill="#32cd32"/>
<rect x="686" y="226" width="1" height="26" fill="#32cd32"/>
<rect x="685" y="231" width="3" height="18" fill="#32cd32"/>
<rect x="690" y="234" width="1" height="18" fill="#ff0000"/>
<rect x="689" y="244" width="3" height="4" fill="#ff0000"/>
<rect x="690" y="245" width="1" height="2" fill="#ff4500"/>
<rect x="694" y="241" width="1" height="16" fill="#32cd32"/>
<rect x="693" y="244" width="3" height="11" fill="#32cd32"/>
<rect x="698" y="252" width="1" height="36" fill="#32cd32"/>
<rect x="697" y="253" width="3" height="17" fill="#32cd32"/>
<rect x="702" y="263" width="1" height="32" fill="#ff0000"/>
<rect x="701" y="263" width="3" height="8" fill="#ff0000"/>
<rect x="702" y="264" width="1" height="6" fill="#ff4500"/>
<rect x="706" y="261" width="1" height="15" fill="#32cd32"/>
<rect x="705" y="264" width="3" height="11" fill="#32cd32"/>
<rect x="710" y="272" width="1" height="44" fill="#32cd32"/>
<rect x="709" y="277" width="3" height="17" fill="#32cd32"/>
<rect x="714" y="272" width="1" height="30" fill="#ff0000"/>
<rect x="713" y="290" width="3" height="4" fill="#ff0000"/>
<rect x="714" y="291" width="1" height="2" fill="#ff4500"/>
<rect x="718" y="278" width="1" height="39" fill="#32cd32"/>
<rect x="717" y="290" width="3" height="26" fill="#32cd32"/>
<rect x="722" y="299" width="1" height="25" fill="#ff0000"/>
<rect x="721" y="306" width="3" height="10" fill="#ff0000"/>
<rect x="722" y="307" width="1" height="8" fill="#ff4500"/>
<rect x="726" y="275" width="1" height="40" fill="#ff0000"/>
<rect x="725" y="283" width="3" height="24" fill="#ff0000"/>
<rect x="726" y="284" width="1" height="22" fill="#ff4500"/>
<rect x="730" y="280" width="1" height="9" fill="#ff0000"/>
<rect x="729" y="282" width="3" height="2" fill="#ff0000"/>
<rect x="734" y="277" width="1" height="23" fill="#ff0000"/>
<rect x="733" y="280" width="3" height="17" fill="#ff0000"/>
<rect x="734" y="281" width="1" height="15" fill="#ff4500"/>
<rect x="738" y="278" width="1" height="24" fill="#32cd32"/>
<rect x="737" y="280" width="3" height="11" fill="#32cd32"/>
<rect x="742" y="282" width="1" height="12" fill="#ff0000"/>
<rect x="741" y="283" width="3" height="9" fill="#ff0000"/>
<rect x="742" y="284" width="1" height="7" fill="#ff4500"/>
<rect x="746" y="286" width="1" height="33" fill="#32cd32"/>
<rect x="745" y="289" width="3" height="24" fill="#32cd32"/>
<rect x="750" y="303" width="1" height="36" fill="#32cd32"/>
<rect x="749" y="312" width="3" height="21" fill="#32cd32"/>
<rect x="754" y="330" width="1" height="17" fill="#32cd32"/>
<rect x="753" y="330" width="3" height="11" fill="#32cd32"/>
<rect x="758" y="333" width="1" height="20" fill="#32cd32"/>
<rect x="757" y="340" width="3" height="12" fill="#32cd32"/>
<rect x="762" y="343" width="1" height="65" fill="#32cd32"/>
<rect x="761" y="349" width="3" height="54" fill="#32cd32"/>
<rect x="766" y="390" width="1" height="23" fill="#ff0000"/>
<rect x="765" y="392" width="3" height="10" fill="#ff0000"/>
<rect x="766" y="393" width="1" height="8" fill="#ff4500"/>
<rect x="770" y="378" width="1" height="26" fill="#32cd32"/>
<rect x="769" y="392" width="3" height="6" fill="#32cd32"/>
<rect x="774" y="380" width="1" height="29" fill="#ff0000"/>
<rect x="773" y="394" width="3" height="4" fill="#ff0000"/>
<rect x="774" y="395" width="1" height="2" fill="#ff4500"/>
<rect x="778" y="386" width="1" height="13" fill="#ff0000"/>
<rect x="777" y="391" width="3" height="4" fill="#ff0000"/>
<rect x="778" y="392" width="1" height="2" fill="#ff4500"/>
<rect x="782" y="389" width="1" height="18" fill="#32cd32"/>
<rect x="781" y="392" width="3" height="9" fill="#32cd32"/>
<rect x="786" y="365" width="1" height="46" fill="#ff0000"/>
<rect x="785" y="374" width="3" height="27" fill="#ff0000"/>
<rect x="786" y="375" width="1" height="25" fill="#ff4500"/>
<rect x="790" y="359" width="1" height="40" fill="#ff0000"/>
<rect x="789" y="362" width="3" height="14" fill="#ff0000"/>
<rect x="790" y="363" width="1" height="12" fill="#ff4500"/>
<rect x="794" y="320" width="1" height="50" fill="#ff0000"/>
<rect x="793" y="325" width="3" height="38" fill="#ff0000"/>
<rect x="794" y="326" width="1" height="36" fill="#ff4500"/>
<rect x="798" y="324" width="1" height="43" fill="#32cd32"/>
<rect x="797" y="324" width="3" height="31" fill="#32cd32"/>
<rect x="802" y="347" width="1" height="11" fill="#ff0000"/>
<rect x="801" y="348" width="3" height="5" fill="#ff0000"/>
<rect x="802" y="349" width="1" height="3" fill="#ff4500"/>
<rect x="806" y="343" width="1" height="22" fill="#32cd32"/>
<rect x="805" y="350" width="3" height="4" fill="#32cd32"/>
<rect x="810" y="336" width="1" height="22" fill="#ff0000"/>
<rect x="809" y="343" width="3" height="10" fill="#ff0000"/>
<rect x="810" y="344" width="1" height="8" fill="#ff4500"/>
<rect x="814" y="336" width="1" height="21" fill="#32cd32"/>
<rect x="813" y="343" width="3" height="14" fill="#32cd32"/>
<rect x="818" y="349" width="1" height="16" fill="#32cd32"/>
<rect x="817" y="355" width="3" height="3" fill="#32cd32"/>
<rect x="822" y="343" width="1" height="22" fill="#ff0000"/>
<rect x="821" y="348" width="3" height="10" fill="#ff0000"/>
<rect x="822" y="349" width="1" height="8" fill="#ff4500"/>
<rect x="826" y="338" width="1" height="11" fill="#ff0000"/>
<rect x="825" y="345" width="3" height="4" fill="#ff0000"/>
<rect x="826" y="346" width="1" height="2" fill="#ff4500"/>
<rect x="830" y="340" width="1" height="12" fill="#32cd32"/>
<rect x="829" y="347" width="3" height="4" fill="#32cd32"/>
<rect x="834" y="338" width="1" height="18" fill="#ff0000"/>
<rect x="833" y="345" width="3" height="6" fill="#ff0000"/>
<rect x="834" y="346" width="1" height="4" fill="#ff4500"/>
<rect x="838" y="310" width="1" height="53" fill="#ff0000"/>
<rect x="837" y="312" width="3" height="35" fill="#ff0000"/>
<rect x="838" y="313" width="1" height="33" fill="#ff4500"/>
<rect x="842" y="280" width="1" height="43" fill="#ff0000"/>
<rect x="841" y="295" width="3" height="18" fill="#ff0000"/>
<rect x="842" y="296" width="1" height="16" fill="#ff4500"/>
<rect x="846" y="291" width="1" height="24" fill="#32cd32"/>
<rect x="845" y="297" width="3" height="4" fill="#32cd32"/>
<rect x="850" y="292" width="1" height="9" fill="#ff0000"/>
<rect x="849" y="298" width="3" height="3" fill="#ff0000"/>
<rect x="850" y="299" width="1" height="1" fill="#ff4500"/>
<rect x="854" y="263" width="1" height="35" fill="#ff0000"/>
<rect x="853" y="276" width="3" height="21" fill="#ff0000"/>
<rect x="854" y="277" width="1" height="19" fill="#ff4500"/>
<rect x="858" y="260" width="1" height="21" fill="#ff0000"/>
<rect x="857" y="274" width="3" height="4" fill="#ff0000"/>
<rect x="858" y="275" width="1" height="2" fill="#ff4500"/>
<rect x="862" y="259" width="1" height="34" fill="#ff0000"/>
<rect x="861" y="259" width="3" height="17" fill="#ff0000"/>
<rect x="862" y="260" width="1" height="15" fill="#ff4500"/>
<rect x="866" y="248" width="1" height="23" fill="#ff0000"/>
<rect x="865" y="248" width="3" height="14" fill="#ff0000"/>
<rect x="866" y="249" width="1" height="12" fill="#ff4500"/>
<rect x="870" y="237" width="1" height="34" fill="#ff0000"/>
<rect x="869" y="248" width="3" height="3" fill="#ff0000"/>
<rect x="870" y="249" width="1" height="1" fill="#ff4500"/>
<rect x="874" y="232" width="1" height="21" fill="#ff0000"/>
<rect x="873" y="244" width="3" height="6" fill="#ff0000"/>
<rect x="874" y="245" width="1" height="4" fill="#ff4500"/>
<rect x="878" y="221" width="1" height="24" fill="#ff0000"/>
<rect x="877" y="225" width="3" height="19" fill="#ff0000"/>
<rect x="878" y="226" width="1" height="17" fill="#ff4500"/>
<rect x="882" y="201" width="1" height="27" fill="#ff0000"/>
<rect x="881" y="216" width="3" height="11" fill="#ff0000"/>
<rect x="882" y="217" width="1" height="9" fill="#ff4500"/>
<rect x="886" y="202" width="1" height="25" fill="#ff0000"/>
<rect x="885" y="208" width="3" height="8" fill="#ff0000"/>
<rect x="886" y="209" width="1" height="6" fill="#ff4500"/>
<rect x="890" y="198" width="1" height="25" fill="#ff0000"/>
<rect x="889" y="206" width="3" height="3" fill="#ff0000"/>
<rect x="890" y="207" width="1" height="1" fill="#ff4500"/>
<rect x="894" y="192" width="1" height="25" fill="#ff0000"/>
<rect x="893" y="201" width="3" height="5" fill="#ff0000"/>
<rect x="894" y="202" width="1" height="3" fill="#ff4500"/>
<rect x="898" y="196" width="1" height="10" fill="#32cd32"/>
<rect x="897" y="201" width="3" height="4" fill="#32cd32"/>
<rect x="902" y="186" width="1" height="25" fill="#ff0000"/>
<rect x="901" y="192" width="3" height="11" fill="#ff0000"/>
<rect x="902" y="193" width="1" height="9" fill="#ff4500"/>
<rect x="906" y="188" width="1" height="32" fill="#32cd32"/>
<rect x="905" y="192" width="3" height="19" fill="#32cd32"/>
<rect x="910" y="202" width="1" height="32" fill="#32cd32"/>
<rect x="909" y="210" width="3" height="20" fill="#32cd32"/>
<rect x="914" y="222" width="1" height="21" fill="#32cd32"/>
<rect x="913" y="228" width="3" height="4" fill="#32cd32"/>
<rect x="918" y="222" width="1" height="21" fill="#ff0000"/>
<rect x="917" y="229" width="3" height="3" fill="#ff0000"/>
<rect x="918" y="230" width="1" height="1" fill="#ff4500"/>
<rect x="922" y="228" width="1" height="13" fill="#32cd32"/>
<rect x="921" y="229" width="3" height="5" fill="#32cd32"/>
<rect x="926" y="234" width="1" height="4" fill="#32cd32"/>
<rect x="925" y="236" width="3" height="2" fill="#32cd32"/>
</g>
<rect x="5" y="25" width="1164" height="1" fill="#000"/>
<rect x="5" y="422" width="1164" height="1" fill="#000"/>
<rect x="5" y="25" width="1" height="398" fill="#000"/>
<rect x="1168" y="25" width="1" height="398" fill="#000"/>
<rect x="5" y="424" width="1164" height="1" fill="#000"/>
<rect x="5" y="491" width="1164" height="1" fill="#000"/>
<rect x="5" y="424" width="1" height="68" fill="#000"/>
<rect x="1168" y="424" width="1" height="68" fill="#000"/>
<rect x="5" y="494" width="1164" height="1" fill="#000"/>
<rect x="5" y="578" width="1164" height="1" fill="#000"/>
<rect x="5" y="494" width="1" height="85" fill="#000"/>
<rect x="1168" y="494" width="1" height="85" fill="#000"/>
<rect x="1169" y="56" width="2" height="1" fill="#000"/>
<text x="1174" y="60" font-size="10" letter-spacing="-0.35" fill="#000" stroke="#000" stroke-width="0.25">1.35455</text>
<rect x="1169" y="89" width="2" height="1" fill="#000"/>
<text x="1174" y="93" font-size="10" letter-spacing="-0.35" fill="#000" stroke="#000" stroke-width="0.25">1.34900</text>
<rect x="1169" y="122" width="2" height="1" fill="#000"/>
<text x="1174" y="126" font-size="10" letter-spacing="-0.35" fill="#000" stroke="#000" stroke-width="0.25">1.34360</text>
<rect x="1169" y="155" width="2" height="1" fill="#000"/>
<text x="1174" y="159" font-size="10" letter-spacing="-0.35" fill="#000" stroke="#000" stroke-width="0.25">1.33805</text>
<rect x="1169" y="188" width="2" height="1" fill="#000"/>
<text x="1174" y="192" font-size="10" letter-spacing="-0.35" fill="#000" stroke="#000" stroke-width="0.25">1.33250</text>
<rect x="1169" y="221" width="2" height="1" fill="#000"/>
<text x="1174" y="225" font-size="10" letter-spacing="-0.35" fill="#000" stroke="#000" stroke-width="0.25">1.32695</text>
<rect x="1169" y="254" width="2" height="1" fill="#000"/>
<text x="1174" y="258" font-size="10" letter-spacing="-0.35" fill="#000" stroke="#000" stroke-width="0.25">1.32155</text>
<rect x="1169" y="287" width="2" height="1" fill="#000"/>
<text x="1174" y="291" font-size="10" letter-spacing="-0.35" fill="#000" stroke="#000" stroke-width="0.25">1.31600</text>
<rect x="1169" y="320" width="2" height="1" fill="#000"/>
<text x="1174" y="324" font-size="10" letter-spacing="-0.35" fill="#000" stroke="#000" stroke-width="0.25">1.31045</text>
<rect x="1169" y="353" width="2" height="1" fill="#000"/>
<text x="1174" y="357" font-size="10" letter-spacing="-0.35" fill="#000" stroke="#000" stroke-width="0.25">1.30490</text>
<rect x="1169" y="386" width="2" height="1" fill="#000"/>
<text x="1174" y="390" font-size="10" letter-spacing="-0.35" fill="#000" stroke="#000" stroke-width="0.25">1.29935</text>
<rect x="1169" y="419" width="2" height="1" fill="#000"/>
<text x="1174" y="423" font-size="10" letter-spacing="-0.35" fill="#000" stroke="#000" stroke-width="0.25">1.29395</text>
<rect x="1170" y="124" width="41" height="11" fill="#ff0000"/>
<text x="1174" y="134" font-size="10" letter-spacing="-0.35" fill="#fff" stroke="#fff" stroke-width="0.25">1.34217</text>
<rect x="1170" y="197" width="41" height="11" fill="#00ff00"/>
<text x="1174" y="207" font-size="10" letter-spacing="-0.35" fill="#fff" stroke="#fff" stroke-width="0.25">1.33000</text>
<rect x="1170" y="293" width="41" height="11" fill="#0000ff"/>
<text x="1174" y="303" font-size="10" letter-spacing="-0.35" fill="#fff" stroke="#fff" stroke-width="0.25">1.31400</text>
<rect x="1170" y="368" width="41" height="11" fill="#0000ff"/>
<text x="1174" y="378" font-size="10" letter-spacing="-0.35" fill="#fff" stroke="#fff" stroke-width="0.25">1.30150</text>
<rect x="1170" y="232" width="41" height="11" fill="#000"/>
<text x="1174" y="242" font-size="10" letter-spacing="-0.35" fill="#fff" stroke="#fff" stroke-width="0.25">1.32441</text>
<g clip-path="url(#cmacd)">
<rect x="5" y="449" width="3" height="4" fill="#c0c0c0"/>
<rect x="9" y="450" width="3" height="3" fill="#c0c0c0"/>
<rect x="13" y="450" width="3" height="3" fill="#c0c0c0"/>
<rect x="17" y="449" width="3" height="4" fill="#c0c0c0"/>
<rect x="21" y="448" width="3" height="5" fill="#c0c0c0"/>
<rect x="25" y="446" width="3" height="7" fill="#c0c0c0"/>
<rect x="29" y="445" width="3" height="8" fill="#c0c0c0"/>
<rect x="33" y="445" width="3" height="8" fill="#c0c0c0"/>
<rect x="37" y="444" width="3" height="9" fill="#c0c0c0"/>
<rect x="41" y="447" width="3" height="6" fill="#c0c0c0"/>
<rect x="45" y="450" width="3" height="3" fill="#c0c0c0"/>
<rect x="49" y="453" width="3" height="1" fill="#c0c0c0"/>
<rect x="53" y="453" width="3" height="6" fill="#c0c0c0"/>
<rect x="57" y="453" width="3" height="11" fill="#c0c0c0"/>
<rect x="61" y="453" width="3" height="15" fill="#c0c0c0"/>
<rect x="65" y="453" width="3" height="17" fill="#c0c0c0"/>
<rect x="69" y="453" width="3" height="18" fill="#c0c0c0"/>
<rect x="73" y="453" width="3" height="18" fill="#c0c0c0"/>
<rect x="77" y="453" width="3" height="16" fill="#c0c0c0"/>
<rect x="81" y="453" width="3" height="12" fill="#c0c0c0"/>
<rect x="85" y="453" width="3" height="10" fill="#c0c0c0"/>
<rect x="89" y="453" width="3" height="9" fill="#c0c0c0"/>
<rect x="93" y="453" width="3" height="9" fill="#c0c0c0"/>
<rect x="97" y="453" width="3" height="14" fill="#c0c0c0"/>
<rect x="101" y="453" width="3" height="17" fill="#c0c0c0"/>
<rect x="105" y="453" width="3" height="20" fill="#c0c0c0"/>
<rect x="109" y="453" width="3" height="22" fill="#c0c0c0"/>
<rect x="113" y="453" width="3" height="25" fill="#c0c0c0"/>
<rect x="117" y="453" width="3" height="29" fill="#c0c0c0"/>
<rect x="121" y="453" width="3" height="31" fill="#c0c0c0"/>
<rect x="125" y="453" width="3" height="34" fill="#c0c0c0"/>
<rect x="129" y="453" width="3" height="36" fill="#c0c0c0"/>
<rect x="133" y="453" width="3" height="35" fill="#c0c0c0"/>
<rect x="137" y="453" width="3" height="35" fill="#c0c0c0"/>
<rect x="141" y="453" width="3" height="35" fill="#c0c0c0"/>
<rect x="145" y="453" width="3" height="36" fill="#c0c0c0"/>
<rect x="149" y="453" width="3" height="35" fill="#c0c0c0"/>
<rect x="153" y="453" width="3" height="34" fill="#c0c0c0"/>
<rect x="157" y="453" width="3" height="33" fill="#c0c0c0"/>
<rect x="161" y="453" width="3" height="30" fill="#c0c0c0"/>
<rect x="165" y="453" width="3" height="28" fill="#c0c0c0"/>
<rect x="169" y="453" width="3" height="28" fill="#c0c0c0"/>
<rect x="173" y="453" width="3" height="28" fill="#c0c0c0"/>
<rect x="177" y="453" width="3" height="28" fill="#c0c0c0"/>
<rect x="181" y="453" width="3" height="28" fill="#c0c0c0"/>
<rect x="185" y="453" width="3" height="27" fill="#c0c0c0"/>
<rect x="189" y="453" width="3" height="26" fill="#c0c0c0"/>
<rect x="193" y="453" width="3" height="24" fill="#c0c0c0"/>
<rect x="197" y="453" width="3" height="22" fill="#c0c0c0"/>
<rect x="201" y="453" width="3" height="21" fill="#c0c0c0"/>
<rect x="205" y="453" width="3" height="18" fill="#c0c0c0"/>
<rect x="209" y="453" width="3" height="14" fill="#c0c0c0"/>
<rect x="213" y="453" width="3" height="12" fill="#c0c0c0"/>
<rect x="217" y="453" width="3" height="9" fill="#c0c0c0"/>
<rect x="221" y="453" width="3" height="5" fill="#c0c0c0"/>
<rect x="225" y="453" width="3" height="3" fill="#c0c0c0"/>
<rect x="229" y="453" width="3" height="2" fill="#c0c0c0"/>
<rect x="233" y="453" width="3" height="1" fill="#c0c0c0"/>
<rect x="237" y="453" width="3" height="1" fill="#c0c0c0"/>
<rect x="241" y="451" width="3" height="2" fill="#c0c0c0"/>
<rect x="245" y="448" width="3" height="5" fill="#c0c0c0"/>
<rect x="249" y="447" width="3" height="6" fill="#c0c0c0"/>
<rect x="253" y="446" width="3" height="7" fill="#c0c0c0"/>
<rect x="257" y="444" width="3" height="9" fill="#c0c0c0"/>
<rect x="261" y="440" width="3" height="13" fill="#c0c0c0"/>
<rect x="265" y="439" width="3" height="14" fill="#c0c0c0"/>
<rect x="269" y="440" width="3" height="13" fill="#c0c0c0"/>
<rect x="273" y="441" width="3" height="12" fill="#c0c0c0"/>
<rect x="277" y="441" width="3" height="12" fill="#c0c0c0"/>
<rect x="281" y="442" width="3" height="11" fill="#c0c0c0"/>
<rect x="285" y="439" width="3" height="14" fill="#c0c0c0"/>
<rect x="289" y="437" width="3" height="16" fill="#c0c0c0"/>
<rect x="293" y="437" width="3" height="16" fill="#c0c0c0"/>
<rect x="297" y="438" width="3" height="15" fill="#c0c0c0"/>
<rect x="301" y="437" width="3" height="16" fill="#c0c0c0"/>
<rect x="305" y="436" width="3" height="17" fill="#c0c0c0"/>
<rect x="309" y="437" width="3" height="16" fill="#c0c0c0"/>
<rect x="313" y="437" width="3" height="16" fill="#c0c0c0"/>
<rect x="317" y="437" width="3" height="16" fill="#c0c0c0"/>
<rect x="321" y="438" width="3" height="15" fill="#c0c0c0"/>
<rect x="325" y="439" width="3" height="14" fill="#c0c0c0"/>
<rect x="329" y="440" width="3" height="13" fill="#c0c0c0"/>
<rect x="333" y="441" width="3" height="12" fill="#c0c0c0"/>
<rect x="337" y="441" width="3" height="12" fill="#c0c0c0"/>
<rect x="341" y="442" width="3" height="11" fill="#c0c0c0"/>
<rect x="345" y="442" width="3" height="11" fill="#c0c0c0"/>
<rect x="349" y="442" width="3" height="11" fill="#c0c0c0"/>
<rect x="353" y="441" width="3" height="12" fill="#c0c0c0"/>
<rect x="357" y="444" width="3" height="9" fill="#c0c0c0"/>
<rect x="361" y="447" width="3" height="6" fill="#c0c0c0"/>
<rect x="365" y="451" width="3" height="2" fill="#c0c0c0"/>
<rect x="369" y="453" width="3" height="1" fill="#c0c0c0"/>
<rect x="373" y="453" width="3" height="5" fill="#c0c0c0"/>
<rect x="377" y="453" width="3" height="8" fill="#c0c0c0"/>
<rect x="381" y="453" width="3" height="8" fill="#c0c0c0"/>
<rect x="385" y="453" width="3" height="8" fill="#c0c0c0"/>
<rect x="389" y="453" width="3" height="6" fill="#c0c0c0"/>
<rect x="393" y="453" width="3" height="3" fill="#c0c0c0"/>
<rect x="397" y="453" width="3" height="3" fill="#c0c0c0"/>
<rect x="401" y="453" width="3" height="2" fill="#c0c0c0"/>
<rect x="405" y="453" width="3" height="1" fill="#c0c0c0"/>
<rect x="413" y="452" width="3" height="1" fill="#c0c0c0"/>
<rect x="417" y="451" width="3" height="2" fill="#c0c0c0"/>
<rect x="421" y="450" width="3" height="3" fill="#c0c0c0"/>
<rect x="425" y="451" width="3" height="2" fill="#c0c0c0"/>
<rect x="429" y="450" width="3" height="3" fill="#c0c0c0"/>
<rect x="433" y="450" width="3" height="3" fill="#c0c0c0"/>
<rect x="437" y="451" width="3" height="2" fill="#c0c0c0"/>
<rect x="441" y="451" width="3" height="2" fill="#c0c0c0"/>
<rect x="445" y="452" width="3" height="1" fill="#c0c0c0"/>
<rect x="453" y="451" width="3" height="2" fill="#c0c0c0"/>
<rect x="457" y="449" width="3" height="4" fill="#c0c0c0"/>
<rect x="461" y="447" width="3" height="6" fill="#c0c0c0"/>
<rect x="465" y="446" width="3" height="7" fill="#c0c0c0"/>
<rect x="469" y="446" width="3" height="7" fill="#c0c0c0"/>
<rect x="473" y="445" width="3" height="8" fill="#c0c0c0"/>
<rect x="477" y="444" width="3" height="9" fill="#c0c0c0"/>
<rect x="481" y="446" width="3" height="7" fill="#c0c0c0"/>
<rect x="485" y="450" width="3" height="3" fill="#c0c0c0"/>
<rect x="489" y="453" width="3" height="1" fill="#c0c0c0"/>
<rect x="493" y="453" width="3" height="2" fill="#c0c0c0"/>
<rect x="497" y="453" width="3" height="4" fill="#c0c0c0"/>
<rect x="501" y="453" width="3" height="6" fill="#c0c0c0"/>
<rect x="505" y="453" width="3" height="9" fill="#c0c0c0"/>
<rect x="509" y="453" width="3" height="11" fill="#c0c0c0"/>
<rect x="513" y="453" width="3" height="14" fill="#c0c0c0"/>
<rect x="517" y="453" width="3" height="16" fill="#c0c0c0"/>
<rect x="521" y="453" width="3" height="18" fill="#c0c0c0"/>
<rect x="525" y="453" width="3" height="20" fill="#c0c0c0"/>
<rect x="529" y="453" width="3" height="21" fill="#c0c0c0"/>
<rect x="533" y="453" width="3" height="22" fill="#c0c0c0"/>
<rect x="537" y="453" width="3" height="23" fill="#c0c0c0"/>
<rect x="541" y="453" width="3" height="23" fill="#c0c0c0"/>
<rect x="545" y="453" width="3" height="22" fill="#c0c0c0"/>
<rect x="549" y="453" width="3" height="18" fill="#c0c0c0"/>
<rect x="553" y="453" width="3" height="16" fill="#c0c0c0"/>
<rect x="557" y="453" width="3" height="14" fill="#c0c0c0"/>
<rect x="561" y="453" width="3" height="12" fill="#c0c0c0"/>
<rect x="565" y="453" width="3" height="11" fill="#c0c0c0"/>
<rect x="569" y="453" width="3" height="9" fill="#c0c0c0"/>
<rect x="573" y="453" width="3" height="7" fill="#c0c0c0"/>
<rect x="577" y="453" width="3" height="5" fill="#c0c0c0"/>
<rect x="581" y="453" width="3" height="2" fill="#c0c0c0"/>
<rect x="589" y="451" width="3" height="2" fill="#c0c0c0"/>
<rect x="593" y="450" width="3" height="3" fill="#c0c0c0"/>
<rect x="597" y="448" width="3" height="5" fill="#c0c0c0"/>
<rect x="601" y="446" width="3" height="7" fill="#c0c0c0"/>
<rect x="605" y="446" width="3" height="7" fill="#c0c0c0"/>
<rect x="609" y="445" width="3" height="8" fill="#c0c0c0"/>
<rect x="613" y="446" width="3" height="7" fill="#c0c0c0"/>
<rect x="617" y="446" width="3" height="7" fill="#c0c0c0"/>
<rect x="621" y="443" width="3" height="10" fill="#c0c0c0"/>
<rect x="625" y="442" width="3" height="11" fill="#c0c0c0"/>
<rect x="629" y="441" width="3" height="12" fill="#c0c0c0"/>
<rect x="633" y="440" width="3" height="13" fill="#c0c0c0"/>
<rect x="637" y="439" width="3" height="14" fill="#c0c0c0"/>
<rect x="641" y="439" width="3" height="14" fill="#c0c0c0"/>
<rect x="645" y="439" width="3" height="14" fill="#c0c0c0"/>
<rect x="649" y="440" width="3" height="13" fill="#c0c0c0"/>
<rect x="653" y="440" width="3" height="13" fill="#c0c0c0"/>
<rect x="657" y="441" width="3" height="12" fill="#c0c0c0"/>
<rect x="661" y="441" width="3" height="12" fill="#c0c0c0"/>
<rect x="665" y="441" width="3" height="12" fill="#c0c0c0"/>
<rect x="669" y="444" width="3" height="9" fill="#c0c0c0"/>
<rect x="673" y="448" width="3" height="5" fill="#c0c0c0"/>
<rect x="677" y="448" width="3" height="5" fill="#c0c0c0"/>
<rect x="681" y="448" width="3" height="5" fill="#c0c0c0"/>
<rect x="685" y="450" width="3" height="3" fill="#c0c0c0"/>
<rect x="689" y="451" width="3" height="2" fill="#c0c0c0"/>
<rect x="693" y="452" width="3" height="1" fill="#c0c0c0"/>
<rect x="697" y="453" width="3" height="1" fill="#c0c0c0"/>
<rect x="701" y="453" width="3" height="2" fill="#c0c0c0"/>
<rect x="705" y="453" width="3" height="4" fill="#c0c0c0"/>
<rect x="709" y="453" width="3" height="6" fill="#c0c0c0"/>
<rect x="713" y="453" width="3" height="8" fill="#c0c0c0"/>
<rect x="717" y="453" width="3" height="10" fill="#c0c0c0"/>
<rect x="721" y="453" width="3" height="11" fill="#c0c0c0"/>
<rect x="725" y="453" width="3" height="11" fill="#c0c0c0"/>
<rect x="729" y="453" width="3" height="11" fill="#c0c0c0"/>
<rect x="733" y="453" width="3" height="10" fill="#c0c0c0"/>
<rect x="737" y="453" width="3" height="10" fill="#c0c0c0"/>
<rect x="741" y="453" width="3" height="9" fill="#c0c0c0"/>
<rect x="745" y="453" width="3" height="11" fill="#c0c0c0"/>
<rect x="749" y="453" width="3" height="13" fill="#c0c0c0"/>
<rect x="753" y="453" width="3" height="14" fill="#c0c0c0"/>
<rect x="757" y="453" width="3" height="16" fill="#c0c0c0"/>
<rect x="761" y="453" width="3" height="21" fill="#c0c0c0"/>
<rect x="765" y="453" width="3" height="23" fill="#c0c0c0"/>
<rect x="769" y="453" width="3" height="25" fill="#c0c0c0"/>
<rect x="773" y="453" width="3" height="26" fill="#c0c0c0"/>
<rect x="777" y="453" width="3" height="27" fill="#c0c0c0"/>
<rect x="781" y="453" width="3" height="27" fill="#c0c0c0"/>
<rect x="785" y="453" width="3" height="26" fill="#c0c0c0"/>
<rect x="789" y="453" width="3" height="24" fill="#c0c0c0"/>
<rect x="793" y="453" width="3" height="20" fill="#c0c0c0"/>
<rect x="797" y="453" width="3" height="18" fill="#c0c0c0"/>
<rect x="801" y="453" width="3" height="16" fill="#c0c0c0"/>
<rect x="805" y="453" width="3" height="15" fill="#c0c0c0"/>
<rect x="809" y="453" width="3" height="13" fill="#c0c0c0"/>
<rect x="813" y="453" width="3" height="12" fill="#c0c0c0"/>
<rect x="817" y="453" width="3" height="11" fill="#c0c0c0"/>
<rect x="821" y="453" width="3" height="10" fill="#c0c0c0"/>
<rect x="825" y="453" width="3" height="9" fill="#c0c0c0"/>
<rect x="829" y="453" width="3" height="8" fill="#c0c0c0"/>
<rect x="833" y="453" width="3" height="7" fill="#c0c0c0"/>
<rect x="837" y="453" width="3" height="4" fill="#c0c0c0"/>
<rect x="841" y="453" width="3" height="1" fill="#c0c0c0"/>
<rect x="845" y="452" width="3" height="1" fill="#c0c0c0"/>
<rect x="849" y="450" width="3" height="3" fill="#c0c0c0"/>
<rect x="853" y="447" width="3" height="6" fill="#c0c0c0"/>
<rect x="857" y="445" width="3" height="8" fill="#c0c0c0"/>
<rect x="861" y="443" width="3" height="10" fill="#c0c0c0"/>
<rect x="865" y="440" width="3" height="13" fill="#c0c0c0"/>
<rect x="869" y="439" width="3" height="14" fill="#c0c0c0"/>
<rect x="873" y="437" width="3" height="16" fill="#c0c0c0"/>
<rect x="877" y="435" width="3" height="18" fill="#c0c0c0"/>
<rect x="881" y="433" width="3" height="20" fill="#c0c0c0"/>
<rect x="885" y="431" width="3" height="22" fill="#c0c0c0"/>
<rect x="889" y="430" width="3" height="23" fill="#c0c0c0"/>
<rect x="893" y="429" width="3" height="24" fill="#c0c0c0"/>
<rect x="897" y="429" width="3" height="24" fill="#c0c0c0"/>
<rect x="901" y="428" width="3" height="25" fill="#c0c0c0"/>
<rect x="905" y="429" width="3" height="24" fill="#c0c0c0"/>
<rect x="909" y="431" width="3" height="22" fill="#c0c0c0"/>
<rect x="913" y="433" width="3" height="20" fill="#c0c0c0"/>
<rect x="917" y="434" width="3" height="19" fill="#c0c0c0"/>
<rect x="921" y="436" width="3" height="17" fill="#c0c0c0"/>
<rect x="925" y="438" width="3" height="15" fill="#c0c0c0"/>
</g>
<path clip-path="url(#cmacd)" d="M904 431h20v1h-20zM901 432h3v1h-3zM924 432h3v1h-3zM899 433h2v1h-2zM896 434h3v1h-3zM893 435h3v1h-3zM891 436h2v1h-2zM316 437h12v1h-12zM889 437h2v1h-2zM308 438h8v1h-8zM328 438h12v1h-12zM887 438h2v1h-2zM296 439h12v1h-12zM340 439h4v1h-4zM885 439h2v1h-2zM288 440h8v1h-8zM344 440h8v1h-8zM656 440h16v1h-16zM883 440h2v1h-2zM284 441h4v1h-4zM352 441h8v1h-8zM648 441h8v1h-8zM672 441h4v1h-4zM881 441h2v1h-2zM280 442h4v1h-4zM360 442h4v1h-4zM644 442h4v1h-4zM676 442h4v1h-4zM879 442h2v1h-2zM276 443h4v1h-4zM364 443h3v1h-3zM636 443h8v1h-8zM680 443h4v1h-4zM877 443h2v1h-2zM272 444h4v1h-4zM367 444h2v1h-2zM632 444h4v1h-4zM684 444h3v1h-3zM875 444h2v1h-2zM269 445h3v1h-3zM369 445h2v1h-2zM628 445h4v1h-4zM687 445h2v1h-2zM874 445h1v1h-1zM267 446h2v1h-2zM371 446h2v1h-2zM624 446h4v1h-4zM689 446h3v1h-3zM872 446h2v1h-2zM36 447h12v1h-12zM265 447h2v1h-2zM373 447h2v1h-2zM480 447h12v1h-12zM620 447h4v1h-4zM692 447h4v1h-4zM871 447h1v1h-1zM6 448h6v1h-6zM24 448h12v1h-12zM48 448h4v1h-4zM263 448h2v1h-2zM375 448h2v1h-2zM476 448h4v1h-4zM492 448h4v1h-4zM616 448h4v1h-4zM696 448h3v1h-3zM869 448h2v1h-2zM12 449h12v1h-12zM52 449h3v1h-3zM260 449h3v1h-3zM377 449h2v1h-2zM468 449h8v1h-8zM496 449h3v1h-3zM612 449h4v1h-4zM699 449h2v1h-2zM867 449h2v1h-2zM55 450h2v1h-2zM257 450h3v1h-3zM379 450h2v1h-2zM460 450h8v1h-8zM499 450h2v1h-2zM609 450h3v1h-3zM701 450h3v1h-3zM865 450h2v1h-2zM57 451h2v1h-2zM255 451h2v1h-2zM381 451h2v1h-2zM436 451h24v1h-24zM501 451h3v1h-3zM607 451h2v1h-2zM704 451h3v1h-3zM863 451h2v1h-2zM59 452h2v1h-2zM253 452h2v1h-2zM383 452h2v1h-2zM428 452h8v1h-8zM504 452h3v1h-3zM605 452h2v1h-2zM707 452h2v1h-2zM861 452h2v1h-2zM61 453h2v1h-2zM251 453h2v1h-2zM385 453h2v1h-2zM424 453h4v1h-4zM507 453h1v1h-1zM603 453h2v1h-2zM709 453h3v1h-3zM859 453h2v1h-2zM63 454h1v1h-1zM249 454h2v1h-2zM387 454h2v1h-2zM420 454h4v1h-4zM508 454h2v1h-2zM601 454h2v1h-2zM712 454h3v1h-3zM857 454h2v1h-2zM64 455h2v1h-2zM247 455h2v1h-2zM389 455h2v1h-2zM416 455h4v1h-4zM510 455h1v1h-1zM599 455h2v1h-2zM715 455h2v1h-2zM855 455h2v1h-2zM66 456h1v1h-1zM245 456h2v1h-2zM391 456h2v1h-2zM412 456h4v1h-4zM511 456h2v1h-2zM597 456h2v1h-2zM717 456h3v1h-3zM853 456h2v1h-2zM67 457h1v1h-1zM243 457h2v1h-2zM393 457h3v1h-3zM408 457h4v1h-4zM513 457h2v1h-2zM595 457h2v1h-2zM720 457h3v1h-3zM851 457h2v1h-2zM68 458h2v1h-2zM241 458h2v1h-2zM396 458h12v1h-12zM515 458h1v1h-1zM592 458h3v1h-3zM723 458h2v1h-2zM849 458h2v1h-2zM70 459h1v1h-1zM239 459h2v1h-2zM516 459h2v1h-2zM589 459h3v1h-3zM725 459h3v1h-3zM847 459h2v1h-2zM71 460h1v1h-1zM237 460h2v1h-2zM518 460h1v1h-1zM587 460h2v1h-2zM728 460h4v1h-4zM844 460h3v1h-3zM72 461h2v1h-2zM235 461h2v1h-2zM519 461h2v1h-2zM585 461h2v1h-2zM732 461h4v1h-4zM841 461h3v1h-3zM74 462h1v1h-1zM234 462h1v1h-1zM521 462h2v1h-2zM583 462h2v1h-2zM736 462h4v1h-4zM839 462h2v1h-2zM75 463h2v1h-2zM232 463h2v1h-2zM523 463h2v1h-2zM582 463h1v1h-1zM740 463h8v1h-8zM836 463h3v1h-3zM77 464h2v1h-2zM231 464h1v1h-1zM525 464h2v1h-2zM580 464h2v1h-2zM748 464h8v1h-8zM832 464h4v1h-4zM79 465h2v1h-2zM229 465h2v1h-2zM527 465h2v1h-2zM579 465h1v1h-1zM756 465h4v1h-4zM829 465h3v1h-3zM81 466h3v1h-3zM227 466h2v1h-2zM529 466h2v1h-2zM577 466h2v1h-2zM760 466h4v1h-4zM827 466h2v1h-2zM84 467h28v1h-28zM226 467h1v1h-1zM531 467h2v1h-2zM575 467h2v1h-2zM764 467h3v1h-3zM824 467h3v1h-3zM112 468h3v1h-3zM224 468h2v1h-2zM533 468h2v1h-2zM572 468h3v1h-3zM767 468h2v1h-2zM821 468h3v1h-3zM115 469h2v1h-2zM223 469h1v1h-1zM535 469h2v1h-2zM569 469h3v1h-3zM769 469h2v1h-2zM819 469h2v1h-2zM117 470h2v1h-2zM221 470h2v1h-2zM537 470h2v1h-2zM567 470h2v1h-2zM771 470h2v1h-2zM817 470h2v1h-2zM119 471h1v1h-1zM219 471h2v1h-2zM539 471h2v1h-2zM564 471h3v1h-3zM773 471h3v1h-3zM815 471h2v1h-2zM120 472h2v1h-2zM217 472h2v1h-2zM541 472h3v1h-3zM560 472h4v1h-4zM776 472h3v1h-3zM812 472h3v1h-3zM122 473h1v1h-1zM215 473h2v1h-2zM544 473h16v1h-16zM779 473h2v1h-2zM809 473h3v1h-3zM123 474h2v1h-2zM213 474h2v1h-2zM781 474h2v1h-2zM807 474h2v1h-2zM125 475h2v1h-2zM211 475h2v1h-2zM783 475h2v1h-2zM804 475h3v1h-3zM127 476h1v1h-1zM209 476h2v1h-2zM785 476h3v1h-3zM800 476h4v1h-4zM128 477h2v1h-2zM207 477h2v1h-2zM788 477h12v1h-12zM130 478h1v1h-1zM204 478h3v1h-3zM131 479h1v1h-1zM200 479h4v1h-4zM132 480h2v1h-2zM196 480h4v1h-4zM134 481h1v1h-1zM192 481h4v1h-4zM135 482h2v1h-2zM184 482h8v1h-8zM137 483h3v1h-3zM180 483h4v1h-4zM140 484h3v1h-3zM176 484h4v1h-4zM143 485h2v1h-2zM172 485h4v1h-4zM145 486h3v1h-3zM164 486h8v1h-8zM148 487h4v1h-4zM160 487h4v1h-4zM152 488h8v1h-8z" fill="#ff0000"/>
<rect x="1169" y="453" width="2" height="1" fill="#000"/>
<text x="1171" y="435" font-size="10" letter-spacing="-0.35" fill="#000" stroke="#000" stroke-width="0.25">0.006448</text>
<text x="1171" y="457" font-size="10" letter-spacing="-0.35" fill="#000" stroke="#000" stroke-width="0.25">0.00</text>
<text x="1171" y="489" font-size="10" letter-spacing="-0.35" fill="#000" stroke="#000" stroke-width="0.25">-0.008982</text>
<text x="10" y="437" font-size="10" letter-spacing="-0.33" fill="#000" stroke="#000" stroke-width="0.25">MACD(12,26,9) 0.003508 0.004885</text>
<line x1="7" y1="520.5" x2="1168" y2="520.5" stroke="#c0c0c0" stroke-width="1" stroke-dasharray="3 3"/>
<line x1="7" y1="553.5" x2="1168" y2="553.5" stroke="#c0c0c0" stroke-width="1" stroke-dasharray="3 3"/>
<path clip-path="url(#crsi)" d="M901 512h2v1h-2zM884 513h12v1h-12zM899 513h2v1h-2zM902 513h1v1h-1zM881 514h3v1h-3zM896 514h3v1h-3zM903 514h1v1h-1zM879 515h2v1h-2zM903 515h1v1h-1zM877 516h2v1h-2zM904 516h1v1h-1zM875 517h2v1h-2zM904 517h1v1h-1zM872 518h3v1h-3zM905 518h1v1h-1zM865 519h7v1h-7zM905 519h1v1h-1zM262 520h1v1h-1zM863 520h2v1h-2zM906 520h1v1h-1zM261 521h2v1h-2zM861 521h2v1h-2zM906 521h1v1h-1zM261 522h1v1h-1zM263 522h1v1h-1zM859 522h2v1h-2zM907 522h1v1h-1zM260 523h1v1h-1zM263 523h1v1h-1zM622 523h1v1h-1zM637 523h2v1h-2zM856 523h3v1h-3zM907 523h1v1h-1zM259 524h1v1h-1zM263 524h1v1h-1zM622 524h2v1h-2zM635 524h2v1h-2zM639 524h1v1h-1zM854 524h2v1h-2zM908 524h1v1h-1zM259 525h1v1h-1zM264 525h1v1h-1zM288 525h3v1h-3zM600 525h3v1h-3zM621 525h1v1h-1zM624 525h1v1h-1zM632 525h3v1h-3zM640 525h1v1h-1zM853 525h1v1h-1zM908 525h1v1h-1zM258 526h1v1h-1zM264 526h1v1h-1zM286 526h2v1h-2zM291 526h1v1h-1zM597 526h3v1h-3zM603 526h1v1h-1zM621 526h1v1h-1zM625 526h1v1h-1zM628 526h4v1h-4zM641 526h1v1h-1zM662 526h1v1h-1zM852 526h1v1h-1zM909 526h1v1h-1zM22 527h1v1h-1zM257 527h1v1h-1zM265 527h1v1h-1zM285 527h1v1h-1zM292 527h1v1h-1zM304 527h3v1h-3zM460 527h4v1h-4zM585 527h2v1h-2zM595 527h2v1h-2zM603 527h1v1h-1zM620 527h1v1h-1zM626 527h2v1h-2zM642 527h1v1h-1zM661 527h1v1h-1zM663 527h2v1h-2zM842 527h2v1h-2zM851 527h1v1h-1zM909 527h1v1h-1zM21 528h1v1h-1zM23 528h2v1h-2zM28 528h7v1h-7zM244 528h4v1h-4zM256 528h1v1h-1zM265 528h1v1h-1zM285 528h1v1h-1zM292 528h1v1h-1zM302 528h2v1h-2zM307 528h1v1h-1zM353 528h2v1h-2zM456 528h4v1h-4zM464 528h3v1h-3zM474 528h2v1h-2zM583 528h2v1h-2zM587 528h1v1h-1zM593 528h2v1h-2zM604 528h1v1h-1zM620 528h1v1h-1zM643 528h2v1h-2zM648 528h3v1h-3zM660 528h1v1h-1zM665 528h2v1h-2zM840 528h2v1h-2zM844 528h7v1h-7zM910 528h9v1h-9zM20 529h1v1h-1zM25 529h3v1h-3zM35 529h1v1h-1zM222 529h1v1h-1zM242 529h2v1h-2zM248 529h3v1h-3zM256 529h1v1h-1zM265 529h1v1h-1zM284 529h1v1h-1zM293 529h1v1h-1zM300 529h2v1h-2zM308 529h1v1h-1zM317 529h2v1h-2zM351 529h2v1h-2zM354 529h1v1h-1zM454 529h2v1h-2zM467 529h1v1h-1zM473 529h1v1h-1zM476 529h3v1h-3zM582 529h1v1h-1zM588 529h2v1h-2zM591 529h2v1h-2zM604 529h1v1h-1zM619 529h1v1h-1zM645 529h3v1h-3zM651 529h2v1h-2zM659 529h1v1h-1zM666 529h1v1h-1zM839 529h1v1h-1zM919 529h2v1h-2zM20 530h1v1h-1zM35 530h1v1h-1zM221 530h1v1h-1zM223 530h1v1h-1zM241 530h1v1h-1zM251 530h2v1h-2zM255 530h1v1h-1zM266 530h1v1h-1zM284 530h1v1h-1zM294 530h2v1h-2zM299 530h1v1h-1zM308 530h1v1h-1zM315 530h2v1h-2zM319 530h1v1h-1zM346 530h5v1h-5zM355 530h1v1h-1zM454 530h1v1h-1zM468 530h1v1h-1zM472 530h1v1h-1zM479 530h1v1h-1zM581 530h1v1h-1zM590 530h1v1h-1zM605 530h1v1h-1zM609 530h2v1h-2zM619 530h1v1h-1zM653 530h6v1h-6zM667 530h1v1h-1zM838 530h1v1h-1zM921 530h3v1h-3zM19 531h1v1h-1zM36 531h1v1h-1zM220 531h1v1h-1zM224 531h2v1h-2zM241 531h1v1h-1zM253 531h2v1h-2zM266 531h2v1h-2zM283 531h1v1h-1zM296 531h3v1h-3zM309 531h1v1h-1zM312 531h3v1h-3zM320 531h2v1h-2zM334 531h2v1h-2zM344 531h2v1h-2zM355 531h1v1h-1zM453 531h1v1h-1zM469 531h1v1h-1zM471 531h1v1h-1zM479 531h1v1h-1zM580 531h1v1h-1zM605 531h1v1h-1zM607 531h2v1h-2zM611 531h1v1h-1zM617 531h2v1h-2zM667 531h1v1h-1zM838 531h1v1h-1zM924 531h3v1h-3zM18 532h1v1h-1zM36 532h1v1h-1zM220 532h1v1h-1zM226 532h1v1h-1zM234 532h1v1h-1zM240 532h1v1h-1zM268 532h3v1h-3zM277 532h3v1h-3zM283 532h1v1h-1zM310 532h2v1h-2zM322 532h2v1h-2zM332 532h2v1h-2zM336 532h4v1h-4zM343 532h1v1h-1zM355 532h1v1h-1zM392 532h3v1h-3zM406 532h1v1h-1zM453 532h1v1h-1zM470 532h1v1h-1zM480 532h1v1h-1zM580 532h1v1h-1zM606 532h1v1h-1zM612 532h2v1h-2zM615 532h2v1h-2zM667 532h1v1h-1zM837 532h1v1h-1zM17 533h1v1h-1zM37 533h1v1h-1zM219 533h1v1h-1zM227 533h1v1h-1zM232 533h2v1h-2zM235 533h1v1h-1zM240 533h1v1h-1zM271 533h2v1h-2zM275 533h2v1h-2zM280 533h3v1h-3zM324 533h4v1h-4zM331 533h1v1h-1zM340 533h3v1h-3zM356 533h1v1h-1zM390 533h2v1h-2zM395 533h1v1h-1zM405 533h1v1h-1zM407 533h1v1h-1zM416 533h4v1h-4zM430 533h2v1h-2zM453 533h1v1h-1zM480 533h1v1h-1zM574 533h2v1h-2zM579 533h1v1h-1zM614 533h1v1h-1zM668 533h1v1h-1zM837 533h1v1h-1zM16 534h1v1h-1zM37 534h1v1h-1zM82 534h1v1h-1zM216 534h3v1h-3zM228 534h2v1h-2zM231 534h1v1h-1zM236 534h1v1h-1zM239 534h1v1h-1zM273 534h2v1h-2zM328 534h3v1h-3zM356 534h1v1h-1zM389 534h1v1h-1zM396 534h1v1h-1zM404 534h1v1h-1zM408 534h2v1h-2zM412 534h4v1h-4zM420 534h3v1h-3zM428 534h2v1h-2zM432 534h3v1h-3zM452 534h1v1h-1zM481 534h1v1h-1zM550 534h1v1h-1zM572 534h2v1h-2zM576 534h3v1h-3zM668 534h1v1h-1zM678 534h2v1h-2zM836 534h1v1h-1zM6 535h2v1h-2zM15 535h1v1h-1zM38 535h1v1h-1zM81 535h1v1h-1zM83 535h2v1h-2zM209 535h7v1h-7zM230 535h1v1h-1zM237 535h1v1h-1zM239 535h1v1h-1zM357 535h1v1h-1zM389 535h1v1h-1zM397 535h1v1h-1zM403 535h1v1h-1zM410 535h2v1h-2zM423 535h2v1h-2zM427 535h1v1h-1zM435 535h1v1h-1zM452 535h1v1h-1zM481 535h1v1h-1zM550 535h2v1h-2zM571 535h1v1h-1zM669 535h1v1h-1zM678 535h1v1h-1zM680 535h3v1h-3zM794 535h1v1h-1zM836 535h1v1h-1zM8 536h7v1h-7zM39 536h1v1h-1zM80 536h1v1h-1zM85 536h6v1h-6zM207 536h2v1h-2zM238 536h1v1h-1zM357 536h1v1h-1zM388 536h1v1h-1zM398 536h5v1h-5zM425 536h2v1h-2zM436 536h2v1h-2zM451 536h1v1h-1zM482 536h1v1h-1zM550 536h1v1h-1zM552 536h1v1h-1zM569 536h2v1h-2zM669 536h1v1h-1zM677 536h1v1h-1zM683 536h1v1h-1zM794 536h2v1h-2zM835 536h1v1h-1zM39 537h1v1h-1zM79 537h1v1h-1zM91 537h1v1h-1zM206 537h1v1h-1zM357 537h1v1h-1zM388 537h1v1h-1zM438 537h2v1h-2zM451 537h1v1h-1zM482 537h1v1h-1zM549 537h1v1h-1zM552 537h1v1h-1zM567 537h2v1h-2zM669 537h1v1h-1zM677 537h1v1h-1zM684 537h1v1h-1zM793 537h1v1h-1zM795 537h1v1h-1zM835 537h1v1h-1zM40 538h1v1h-1zM78 538h1v1h-1zM92 538h1v1h-1zM206 538h1v1h-1zM358 538h1v1h-1zM387 538h1v1h-1zM440 538h7v1h-7zM451 538h1v1h-1zM482 538h1v1h-1zM549 538h1v1h-1zM553 538h1v1h-1zM556 538h11v1h-11zM670 538h1v1h-1zM677 538h1v1h-1zM685 538h1v1h-1zM688 538h3v1h-3zM793 538h1v1h-1zM796 538h1v1h-1zM810 538h1v1h-1zM824 538h4v1h-4zM832 538h3v1h-3zM40 539h1v1h-1zM77 539h1v1h-1zM93 539h1v1h-1zM205 539h1v1h-1zM358 539h2v1h-2zM387 539h1v1h-1zM447 539h2v1h-2zM450 539h1v1h-1zM483 539h1v1h-1zM549 539h1v1h-1zM554 539h2v1h-2zM670 539h1v1h-1zM676 539h1v1h-1zM686 539h2v1h-2zM691 539h2v1h-2zM792 539h1v1h-1zM797 539h1v1h-1zM808 539h2v1h-2zM811 539h1v1h-1zM821 539h3v1h-3zM828 539h4v1h-4zM41 540h1v1h-1zM77 540h1v1h-1zM94 540h1v1h-1zM205 540h1v1h-1zM360 540h3v1h-3zM384 540h3v1h-3zM449 540h2v1h-2zM483 540h1v1h-1zM549 540h1v1h-1zM671 540h1v1h-1zM676 540h1v1h-1zM693 540h2v1h-2zM792 540h1v1h-1zM797 540h1v1h-1zM800 540h4v1h-4zM807 540h1v1h-1zM812 540h2v1h-2zM819 540h2v1h-2zM41 541h1v1h-1zM76 541h1v1h-1zM94 541h1v1h-1zM204 541h1v1h-1zM363 541h1v1h-1zM382 541h2v1h-2zM484 541h1v1h-1zM494 541h1v1h-1zM548 541h1v1h-1zM671 541h1v1h-1zM675 541h1v1h-1zM695 541h1v1h-1zM701 541h2v1h-2zM726 541h9v1h-9zM741 541h2v1h-2zM791 541h1v1h-1zM798 541h2v1h-2zM804 541h3v1h-3zM814 541h5v1h-5zM42 542h5v1h-5zM75 542h1v1h-1zM95 542h1v1h-1zM194 542h2v1h-2zM204 542h1v1h-1zM363 542h1v1h-1zM382 542h1v1h-1zM484 542h1v1h-1zM493 542h1v1h-1zM495 542h2v1h-2zM548 542h1v1h-1zM672 542h1v1h-1zM675 542h1v1h-1zM696 542h2v1h-2zM699 542h2v1h-2zM703 542h1v1h-1zM725 542h1v1h-1zM735 542h2v1h-2zM739 542h2v1h-2zM743 542h1v1h-1zM791 542h1v1h-1zM47 543h1v1h-1zM75 543h1v1h-1zM95 543h1v1h-1zM193 543h1v1h-1zM196 543h3v1h-3zM203 543h1v1h-1zM364 543h1v1h-1zM381 543h1v1h-1zM484 543h1v1h-1zM493 543h1v1h-1zM497 543h3v1h-3zM548 543h1v1h-1zM673 543h1v1h-1zM675 543h1v1h-1zM698 543h1v1h-1zM704 543h2v1h-2zM725 543h1v1h-1zM737 543h2v1h-2zM743 543h1v1h-1zM790 543h1v1h-1zM48 544h1v1h-1zM74 544h1v1h-1zM95 544h1v1h-1zM162 544h1v1h-1zM193 544h1v1h-1zM199 544h2v1h-2zM203 544h1v1h-1zM365 544h1v1h-1zM381 544h1v1h-1zM485 544h1v1h-1zM492 544h1v1h-1zM500 544h3v1h-3zM548 544h1v1h-1zM673 544h2v1h-2zM706 544h1v1h-1zM724 544h1v1h-1zM744 544h1v1h-1zM790 544h1v1h-1zM49 545h1v1h-1zM73 545h1v1h-1zM96 545h1v1h-1zM161 545h1v1h-1zM163 545h2v1h-2zM192 545h1v1h-1zM201 545h2v1h-2zM365 545h1v1h-1zM380 545h1v1h-1zM485 545h1v1h-1zM491 545h1v1h-1zM503 545h1v1h-1zM547 545h1v1h-1zM674 545h1v1h-1zM707 545h1v1h-1zM723 545h1v1h-1zM745 545h1v1h-1zM788 545h2v1h-2zM50 546h1v1h-1zM72 546h1v1h-1zM96 546h1v1h-1zM160 546h1v1h-1zM165 546h2v1h-2zM192 546h1v1h-1zM366 546h5v1h-5zM380 546h1v1h-1zM486 546h1v1h-1zM491 546h1v1h-1zM504 546h1v1h-1zM547 546h1v1h-1zM708 546h2v1h-2zM712 546h3v1h-3zM723 546h1v1h-1zM745 546h1v1h-1zM787 546h1v1h-1zM51 547h1v1h-1zM71 547h1v1h-1zM97 547h1v1h-1zM150 547h1v1h-1zM159 547h1v1h-1zM167 547h2v1h-2zM191 547h1v1h-1zM371 547h1v1h-1zM379 547h1v1h-1zM486 547h5v1h-5zM504 547h1v1h-1zM547 547h1v1h-1zM710 547h2v1h-2zM715 547h1v1h-1zM722 547h1v1h-1zM746 547h1v1h-1zM786 547h1v1h-1zM51 548h1v1h-1zM68 548h3v1h-3zM97 548h1v1h-1zM150 548h3v1h-3zM156 548h3v1h-3zM169 548h2v1h-2zM191 548h1v1h-1zM372 548h2v1h-2zM379 548h1v1h-1zM505 548h1v1h-1zM547 548h1v1h-1zM716 548h1v1h-1zM720 548h2v1h-2zM747 548h1v1h-1zM786 548h1v1h-1zM52 549h1v1h-1zM66 549h2v1h-2zM97 549h1v1h-1zM149 549h1v1h-1zM153 549h3v1h-3zM171 549h2v1h-2zM184 549h7v1h-7zM374 549h5v1h-5zM506 549h6v1h-6zM546 549h1v1h-1zM717 549h1v1h-1zM719 549h1v1h-1zM748 549h2v1h-2zM785 549h1v1h-1zM53 550h1v1h-1zM65 550h1v1h-1zM98 550h1v1h-1zM100 550h4v1h-4zM149 550h1v1h-1zM173 550h3v1h-3zM180 550h4v1h-4zM512 550h3v1h-3zM546 550h1v1h-1zM718 550h1v1h-1zM750 550h2v1h-2zM785 550h1v1h-1zM53 551h1v1h-1zM64 551h1v1h-1zM98 551h2v1h-2zM104 551h7v1h-7zM134 551h5v1h-5zM148 551h1v1h-1zM176 551h4v1h-4zM515 551h2v1h-2zM545 551h1v1h-1zM752 551h3v1h-3zM784 551h1v1h-1zM54 552h2v1h-2zM64 552h1v1h-1zM111 552h2v1h-2zM133 552h1v1h-1zM139 552h1v1h-1zM148 552h1v1h-1zM517 552h3v1h-3zM524 552h4v1h-4zM544 552h1v1h-1zM755 552h2v1h-2zM784 552h1v1h-1zM56 553h4v1h-4zM63 553h1v1h-1zM113 553h2v1h-2zM133 553h1v1h-1zM140 553h2v1h-2zM147 553h1v1h-1zM520 553h4v1h-4zM528 553h4v1h-4zM543 553h1v1h-1zM757 553h2v1h-2zM783 553h1v1h-1zM60 554h3v1h-3zM115 554h1v1h-1zM132 554h1v1h-1zM142 554h2v1h-2zM147 554h1v1h-1zM532 554h11v1h-11zM759 554h1v1h-1zM776 554h4v1h-4zM783 554h1v1h-1zM116 555h2v1h-2zM120 555h3v1h-3zM131 555h1v1h-1zM144 555h3v1h-3zM760 555h1v1h-1zM772 555h4v1h-4zM780 555h3v1h-3zM118 556h2v1h-2zM123 556h2v1h-2zM131 556h1v1h-1zM760 556h1v1h-1zM765 556h7v1h-7zM125 557h6v1h-6zM761 557h1v1h-1zM763 557h2v1h-2zM762 558h1v1h-1z" fill="#1e90ff"/>
<text x="1171" y="505" font-size="10" letter-spacing="-0.35" fill="#000" stroke="#000" stroke-width="0.25">100</text>
<text x="1170" y="524" font-size="10" letter-spacing="-0.35" fill="#000" stroke="#000" stroke-width="0.25">70</text>
<text x="1170" y="557" font-size="10" letter-spacing="-0.35" fill="#000" stroke="#000" stroke-width="0.25">30</text>
<text x="1171" y="575" font-size="10" letter-spacing="-0.35" fill="#000" stroke="#000" stroke-width="0.25">0</text>
<rect x="1169" y="425" width="2" height="1" fill="#000"/>
<rect x="1169" y="491" width="2" height="1" fill="#000"/>
<rect x="1169" y="495" width="2" height="1" fill="#000"/>
<rect x="1169" y="578" width="2" height="1" fill="#000"/>
<text x="10" y="507" font-size="10" letter-spacing="-0.45" fill="#000" stroke="#000" stroke-width="0.25">RSI(14) 56.6350</text>
<rect x="6" y="579" width="1" height="3" fill="#000"/>
<text x="5" y="591" font-size="10" letter-spacing="-0.3" fill="#000" stroke="#000" stroke-width="0.25">24 May 2019</text>
<rect x="70" y="579" width="1" height="3" fill="#000"/>
<text x="69" y="591" font-size="10" letter-spacing="-0.3" fill="#000" stroke="#000" stroke-width="0.25">12 Jun 2019</text>
<rect x="134" y="579" width="1" height="3" fill="#000"/>
<text x="133" y="591" font-size="10" letter-spacing="-0.3" fill="#000" stroke="#000" stroke-width="0.25">1 Jul 2019</text>
<rect x="198" y="579" width="1" height="3" fill="#000"/>
<text x="197" y="591" font-size="10" letter-spacing="-0.3" fill="#000" stroke="#000" stroke-width="0.25">19 Jul 2019</text>
<rect x="262" y="579" width="1" height="3" fill="#000"/>
<text x="261" y="591" font-size="10" letter-spacing="-0.3" fill="#000" stroke="#000" stroke-width="0.25">7 Aug 2019</text>
<rect x="326" y="579" width="1" height="3" fill="#000"/>
<text x="325" y="591" font-size="10" letter-spacing="-0.3" fill="#000" stroke="#000" stroke-width="0.25">26 Aug 2019</text>
<rect x="390" y="579" width="1" height="3" fill="#000"/>
<text x="389" y="591" font-size="10" letter-spacing="-0.3" fill="#000" stroke="#000" stroke-width="0.25">13 Sep 2019</text>
<rect x="454" y="579" width="1" height="3" fill="#000"/>
<text x="453" y="591" font-size="10" letter-spacing="-0.3" fill="#000" stroke="#000" stroke-width="0.25">2 Oct 2019</text>
<rect x="518" y="579" width="1" height="3" fill="#000"/>
<text x="517" y="591" font-size="10" letter-spacing="-0.3" fill="#000" stroke="#000" stroke-width="0.25">21 Oct 2019</text>
<rect x="582" y="579" width="1" height="3" fill="#000"/>
<text x="581" y="591" font-size="10" letter-spacing="-0.3" fill="#000" stroke="#000" stroke-width="0.25">8 Nov 2019</text>
<rect x="646" y="579" width="1" height="3" fill="#000"/>
<text x="645" y="591" font-size="10" letter-spacing="-0.3" fill="#000" stroke="#000" stroke-width="0.25">27 Nov 2019</text>
<rect x="710" y="579" width="1" height="3" fill="#000"/>
<text x="709" y="591" font-size="10" letter-spacing="-0.3" fill="#000" stroke="#000" stroke-width="0.25">16 Dec 2019</text>
<rect x="774" y="579" width="1" height="3" fill="#000"/>
<text x="773" y="591" font-size="10" letter-spacing="-0.3" fill="#000" stroke="#000" stroke-width="0.25">3 Jan 2020</text>
<rect x="838" y="579" width="1" height="3" fill="#000"/>
<text x="837" y="591" font-size="10" letter-spacing="-0.3" fill="#000" stroke="#000" stroke-width="0.25">22 Jan 2020</text>
<rect x="902" y="579" width="1" height="3" fill="#000"/>
<text x="901" y="591" font-size="10" letter-spacing="-0.3" fill="#000" stroke="#000" stroke-width="0.25">10 Feb 2020</text>
<path d="M9 37 L16 37 L12.5 32 Z" fill="#000" shape-rendering="auto"/>
<text x="20.5" y="37" font-size="10" fill="#000" stroke="#000" stroke-width="0.25">USDCAD,Daily</text>
<text x="92.5" y="37" font-size="10" letter-spacing="-0.35" fill="#000" stroke="#000" stroke-width="0.25">1.32447 1.32491 1.32430 1.32441</text>
</svg>
<div class="abs" style="left:7px;top:43px;width:223px;height:68px;background:#fff"></div>
<svg class="abs" style="left:0;top:0" width="240" height="120" shape-rendering="crispEdges">
<defs><linearGradient id="pg" gradientUnits="userSpaceOnUse" x1="0" y1="45" x2="0" y2="109"><stop offset="0.016" stop-color="#f35050"/><stop offset="0.36" stop-color="#e33737"/><stop offset="0.39" stop-color="#d82c2c"/><stop offset="1" stop-color="#ad0000"/></linearGradient></defs>
<path d="M9 45H61V69H118V109H9Z" fill="#b20000"/><path d="M10 46H60V70H117V108H10Z" fill="url(#pg)"/>
<path d="M176 45H228V109H120V69H176Z" fill="#b20000"/><path d="M177 46H227V108H121V70H177Z" fill="url(#pg)"/>
<rect x="13" y="68" width="45" height="1" fill="#8b0000"/><rect x="13" y="69" width="45" height="1" fill="#ff6a6a"/>
<rect x="180" y="68" width="44" height="1" fill="#8b0000"/><rect x="180" y="69" width="44" height="1" fill="#ff6a6a"/>
</svg>
<div class="abs" style="left:63px;top:45px;width:109px;height:20px;border:1px solid #b4b4b4;background:#fff;"></div>
<div class="abs" style="left:64px;top:46px;width:19px;height:18px;border:1px solid #c4c4c4;background:linear-gradient(#f2f2f2,#dadada 50%,#d0d0d0);"></div>
<div class="abs" style="left:152px;top:46px;width:19px;height:18px;border:1px solid #c4c4c4;background:linear-gradient(#f2f2f2,#dadada 50%,#d0d0d0);"></div>
<svg class="abs" style="left:0;top:0" width="240" height="120" font-family="Liberation Sans, sans-serif">
<path d="M71 54.3 L76.2 54.3 L73.6 57.3 Z" fill="#6272c4"/><path d="M159.6 57.4 L165 57.4 L162.3 54.6 Z" fill="#6272c4"/>
<text x="20.5" y="61" font-size="11" fill="#ffe4e4">SELL</text>
<text x="188.5" y="61" font-size="12" fill="#ffe4e4">BUY</text>
<text x="124.3" y="60" font-size="12.5" fill="#000">5.00</text>
<text x="28.5" y="100" font-size="12.5" font-weight="bold" fill="#fff">1.32</text>
<text transform="translate(55,100.5) scale(0.93,1)" font-size="35.5" fill="#fff">44</text>
<text x="96.4" y="84" font-size="10.5" font-weight="bold" fill="#fff">1</text>
<text x="138.6" y="100" font-size="12.5" font-weight="bold" fill="#fff">1.32</text>
<text transform="translate(166,100) scale(0.93,1)" font-size="35.5" fill="#fff">46</text>
<text x="208" y="84" font-size="10.5" font-weight="bold" fill="#fff">5</text>
</svg>

<div class="abs" style="left:2px;top:599px;width:1209px;height:1px;background:#e3e3e3"></div>
<div class="abs" style="left:1px;top:601px;width:1210px;height:1px;background:#000"></div>
<div class="abs" style="left:1px;top:602px;width:1210px;height:19px;background:#f0f0f0"></div>
<div class="abs" style="left:1px;top:602px;width:1210px;height:1px;background:#fff"></div>
<div class="abs" style="left:1px;top:602px;width:1px;height:18px;background:#a0a0a0"></div>
<div class="abs" style="left:2px;top:602px;width:1px;height:18px;background:#6d6d6d"></div>
<div class="abs" style="left:0px;top:620px;width:3px;height:1px;background:#909090"></div>
<div class="abs" style="left:0px;top:622px;width:1211px;height:1px;background:#e8e8e8"></div>
<div class="abs" style="left:315px;top:601px;width:102px;height:18px;background:#fff;border-left:1px solid #000;border-right:1px solid #000;border-bottom:1px solid #000"></div>
<svg class="abs" style="left:0;top:0" width="1211" height="623" font-family="Liberation Sans, sans-serif">
<text x="18" y="616" font-size="12" fill="#555">EURUSD,Daily</text>
<text x="121" y="616" font-size="12" fill="#555">AUDUSD,Daily</text>
<text x="224.5" y="616" font-size="12" fill="#555">USDCHF,Daily</text>
<text x="326" y="616" font-size="12" fill="#000">USDCAD,Daily</text>
<text x="427.6" y="616" font-size="12" fill="#555">USDCNH,Daily</text>
<text x="532.6" y="616" font-size="12" fill="#555">XAUUSD,Daily</text>
<text x="635.8" y="616" font-size="12" fill="#555">DJ30,H4</text>
<text x="706.2" y="616" font-size="12" fill="#555">USDOil,Daily</text>
<text x="800.7" y="616" font-size="12" fill="#555">USDCHF,Daily</text>
<text x="902.5" y="616" font-size="12" fill="#555">GBPUSD,Daily</text>
<text x="1006" y="616" font-size="12" fill="#555">EURUSD,H1</text>
<text x="1097.7" y="616" font-size="12" fill="#555">GBPAUD,H1</text>
</svg>
<div class="abs" style="left:111px;top:605px;width:1px;height:12px;background:#888"></div>
<div class="abs" style="left:215px;top:605px;width:1px;height:12px;background:#888"></div>
<div class="abs" style="left:523px;top:605px;width:1px;height:12px;background:#888"></div>
<div class="abs" style="left:626px;top:605px;width:1px;height:12px;background:#888"></div>
<div class="abs" style="left:696px;top:605px;width:1px;height:12px;background:#888"></div>
<div class="abs" style="left:791px;top:605px;width:1px;height:12px;background:#888"></div>
<div class="abs" style="left:891px;top:605px;width:1px;height:12px;background:#888"></div>
<div class="abs" style="left:996px;top:605px;width:1px;height:12px;background:#888"></div>
<div class="abs" style="left:1087px;top:605px;width:1px;height:12px;background:#888"></div>
<svg class="abs" style="left:0;top:0" width="1211" height="623"><path d="M1183.5 610.5 L1187.5 606.5 L1187.5 614.5 Z" fill="#a8a8a8"/><path d="M1202.5 606.5 L1206.5 610.5 L1202.5 614.5 Z" fill="#000"/></svg>
</body></html>
